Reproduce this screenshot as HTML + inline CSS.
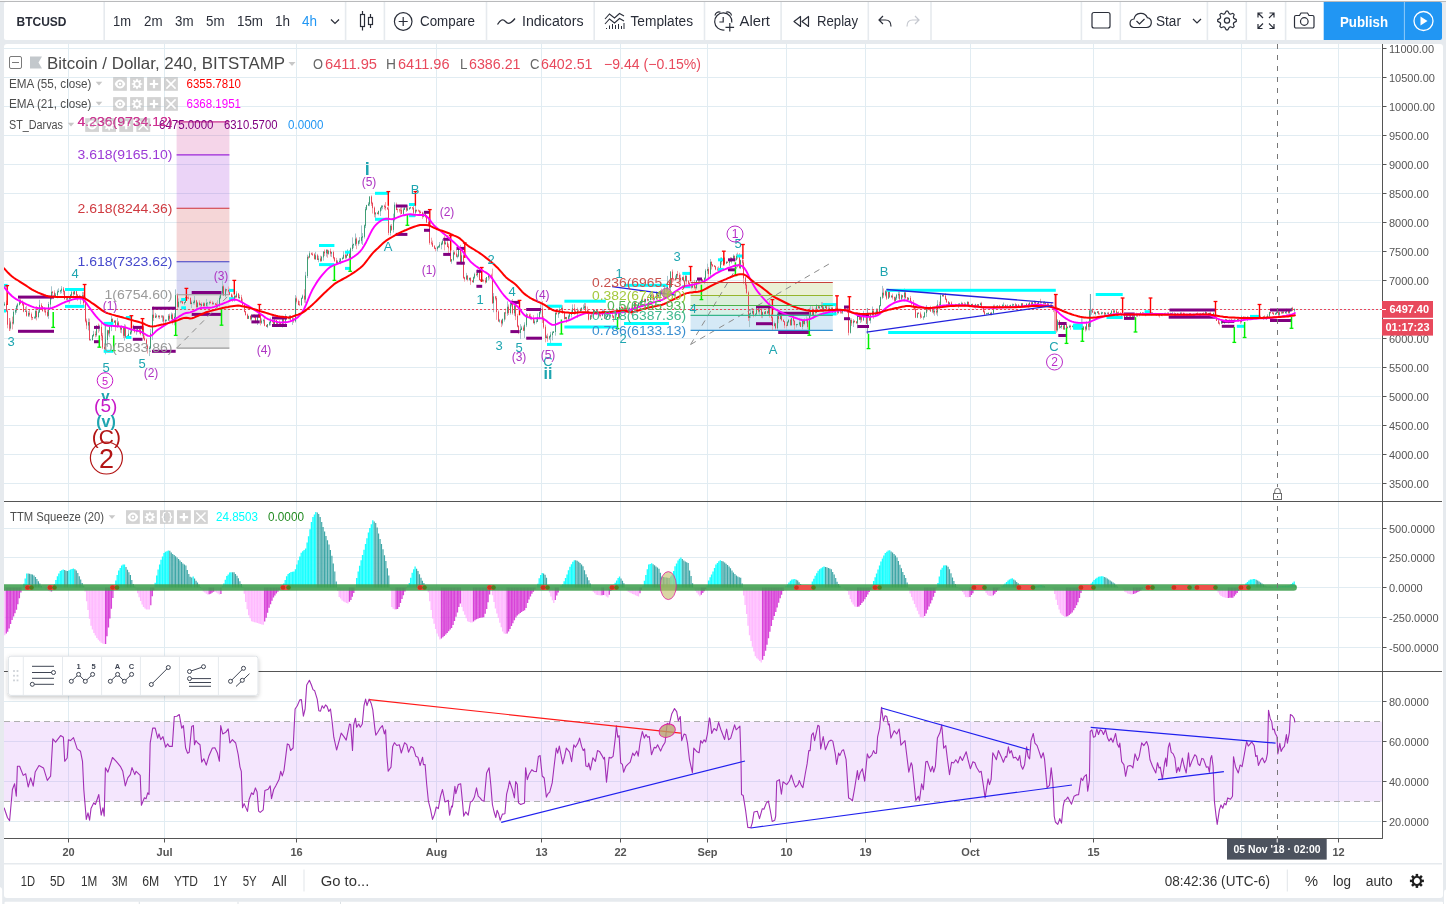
<!DOCTYPE html>
<html><head><meta charset="utf-8"><title>BTCUSD</title>
<style>html,body{margin:0;padding:0;background:#e6eaee;overflow:hidden;font-family:"Liberation Sans",sans-serif}svg{display:block;position:absolute;left:0;top:0;will-change:transform}text{white-space:pre}</style></head>
<body>
<svg width="1446" height="904" viewBox="0 0 1446 904" font-family="Liberation Sans, sans-serif">
<defs><clipPath id="cp1"><rect x="4" y="44" width="1378" height="457"/></clipPath><clipPath id="cp2"><rect x="4" y="502" width="1378" height="168.5"/></clipPath><clipPath id="cp3"><rect x="4" y="672" width="1378" height="166"/></clipPath><filter id="sh" x="-5%" y="-20%" width="110%" height="150%"><feDropShadow dx="0" dy="1.5" stdDeviation="2" flood-color="#000" flood-opacity="0.22"/></filter></defs>
<rect x="0" y="0" width="1446" height="904" fill="#e6eaee" />
<rect x="0" y="0" width="1446" height="1" fill="#fafafa" />
<rect x="0" y="1" width="1446" height="1" fill="#b9babc" />
<rect x="4" y="2" width="1438" height="38" fill="#fff" rx="2"/>
<rect x="4" y="44" width="1439" height="854" fill="#fff" rx="3"/>
<rect x="4.5" y="901.7" width="1438.5" height="3" fill="#fff" rx="1"/>
<line x1="139.3" y1="901.7" x2="139.3" y2="904" stroke="#dde2e6" stroke-width="1" />
<line x1="238" y1="901.7" x2="238" y2="904" stroke="#dde2e6" stroke-width="1" />
<line x1="340.5" y1="901.7" x2="340.5" y2="904" stroke="#dde2e6" stroke-width="1" />
<path d="M0 887 Q2.2 887.3 2.2 890 L2.2 904 L0 904 Z" fill="#fff"/>
<path d="M1446 889.500 Q1444 889.800 1444 892 L1444 904 L1446 904 Z" fill="#fff"/>
<line x1="68.5" y1="44" x2="68.5" y2="838" stroke="#e1ecf2" stroke-width="1" />
<line x1="164.5" y1="44" x2="164.5" y2="838" stroke="#e1ecf2" stroke-width="1" />
<line x1="296.5" y1="44" x2="296.5" y2="838" stroke="#e1ecf2" stroke-width="1" />
<line x1="436.5" y1="44" x2="436.5" y2="838" stroke="#e1ecf2" stroke-width="1" />
<line x1="541.5" y1="44" x2="541.5" y2="838" stroke="#e1ecf2" stroke-width="1" />
<line x1="620.5" y1="44" x2="620.5" y2="838" stroke="#e1ecf2" stroke-width="1" />
<line x1="707.5" y1="44" x2="707.5" y2="838" stroke="#e1ecf2" stroke-width="1" />
<line x1="786.5" y1="44" x2="786.5" y2="838" stroke="#e1ecf2" stroke-width="1" />
<line x1="865.5" y1="44" x2="865.5" y2="838" stroke="#e1ecf2" stroke-width="1" />
<line x1="970.5" y1="44" x2="970.5" y2="838" stroke="#e1ecf2" stroke-width="1" />
<line x1="1093.5" y1="44" x2="1093.5" y2="838" stroke="#e1ecf2" stroke-width="1" />
<line x1="1241.5" y1="44" x2="1241.5" y2="838" stroke="#e1ecf2" stroke-width="1" />
<line x1="1338.5" y1="44" x2="1338.5" y2="838" stroke="#e1ecf2" stroke-width="1" />
<line x1="4" y1="48.5" x2="1381" y2="48.5" stroke="#e1ecf2" stroke-width="1" />
<line x1="4" y1="77.5" x2="1381" y2="77.5" stroke="#e1ecf2" stroke-width="1" />
<line x1="4" y1="106.5" x2="1381" y2="106.5" stroke="#e1ecf2" stroke-width="1" />
<line x1="4" y1="135.5" x2="1381" y2="135.5" stroke="#e1ecf2" stroke-width="1" />
<line x1="4" y1="164.5" x2="1381" y2="164.5" stroke="#e1ecf2" stroke-width="1" />
<line x1="4" y1="193.5" x2="1381" y2="193.5" stroke="#e1ecf2" stroke-width="1" />
<line x1="4" y1="222.5" x2="1381" y2="222.5" stroke="#e1ecf2" stroke-width="1" />
<line x1="4" y1="251.5" x2="1381" y2="251.5" stroke="#e1ecf2" stroke-width="1" />
<line x1="4" y1="280.5" x2="1381" y2="280.5" stroke="#e1ecf2" stroke-width="1" />
<line x1="4" y1="309.5" x2="1381" y2="309.5" stroke="#e1ecf2" stroke-width="1" />
<line x1="4" y1="338.5" x2="1381" y2="338.5" stroke="#e1ecf2" stroke-width="1" />
<line x1="4" y1="367.5" x2="1381" y2="367.5" stroke="#e1ecf2" stroke-width="1" />
<line x1="4" y1="396.5" x2="1381" y2="396.5" stroke="#e1ecf2" stroke-width="1" />
<line x1="4" y1="425.5" x2="1381" y2="425.5" stroke="#e1ecf2" stroke-width="1" />
<line x1="4" y1="454.5" x2="1381" y2="454.5" stroke="#e1ecf2" stroke-width="1" />
<line x1="4" y1="483.5" x2="1381" y2="483.5" stroke="#e1ecf2" stroke-width="1" />
<line x1="4" y1="528.5" x2="1381" y2="528.5" stroke="#e1ecf2" stroke-width="1" />
<line x1="4" y1="557.5" x2="1381" y2="557.5" stroke="#e1ecf2" stroke-width="1" />
<line x1="4" y1="587.5" x2="1381" y2="587.5" stroke="#e1ecf2" stroke-width="1" />
<line x1="4" y1="617.5" x2="1381" y2="617.5" stroke="#e1ecf2" stroke-width="1" />
<line x1="4" y1="647.5" x2="1381" y2="647.5" stroke="#e1ecf2" stroke-width="1" />
<line x1="4" y1="701.5" x2="1381" y2="701.5" stroke="#e1ecf2" stroke-width="1" />
<line x1="4" y1="741.5" x2="1381" y2="741.5" stroke="#e1ecf2" stroke-width="1" />
<line x1="4" y1="781.5" x2="1381" y2="781.5" stroke="#e1ecf2" stroke-width="1" />
<line x1="4" y1="821.5" x2="1381" y2="821.5" stroke="#e1ecf2" stroke-width="1" />
<g clip-path="url(#cp1)">
<rect x="176.6" y="121.9" width="52.8" height="33" fill="#cc2f8f" fill-opacity="0.2"/>
<rect x="176.6" y="154.9" width="52.8" height="53.4" fill="#9c27d8" fill-opacity="0.2"/>
<rect x="176.6" y="208.3" width="52.8" height="53.4" fill="#cf3038" fill-opacity="0.2"/>
<rect x="176.6" y="261.7" width="52.8" height="33" fill="#3b3bc4" fill-opacity="0.2"/>
<rect x="176.6" y="294.7" width="52.8" height="53.4" fill="#7c7c7c" fill-opacity="0.2"/>
<rect x="690.6" y="282.5" width="142.2" height="13" fill="#95b52c" fill-opacity="0.2"/>
<rect x="690.6" y="295.5" width="142.2" height="10" fill="#49b04a" fill-opacity="0.2"/>
<rect x="690.6" y="305.5" width="142.2" height="9.9" fill="#36b58c" fill-opacity="0.2"/>
<rect x="690.6" y="315.4" width="142.2" height="15" fill="#2f8fd0" fill-opacity="0.2"/>
<path d="M4.5 301.9V306.1M10.5 320.7V329.4M13.5 310.3V324.6M15.5 308.2V314.7M16.5 304.7V312.8M17.5 303V309.5M19.5 298.9V305.5M25.5 306.9V311.8M28.5 311V317M34.5 316.3V318.9M35.5 308.9V319.2M38.5 308.3V318.3M39.5 299.8V313M48.5 301.9V318.8M50.5 296.5V308.1M51.5 286.3V299.6M55.5 293V296.4M57.5 289.6V298.3M58.5 288.3V292.4M60.5 289.8V293.8M61.5 286.1V293.3M67.5 297.3V299.6M69.5 296.7V303.5M70.5 294V299.4M71.5 290.6V296.1M74.5 290.8V294.9M80.5 295.7V304.3M82.5 291.9V300.5M88.5 318.4V330.4M90.5 339.2V340.6M92.5 334.9V340.4M93.5 330.8V336.8M96.5 325.3V336.7M99.5 324.8V331.3M105.5 336.5V354.3M107.5 329.7V346.9M109.5 325.6V337.3M111.5 315.9V331.1M114.5 320.5V322.8M117.5 317.8V327.9M121.5 325.4V333.3M124.5 324.2V340.7M127.5 335.5V338.6M128.5 329.7V336.3M130.5 329.3V334.8M131.5 324.4V334.4M136.5 328.3V334.7M137.5 327.3V332.3M142.5 325.2V336.3M149.5 346.2V356.1M150.5 328.9V349.3M152.5 308.1V339.9M155.5 312.9V318.1M158.5 315.2V318.4M162.5 315V321.8M165.5 319.2V324.1M166.5 319.7V321.4M168.5 314.1V320.9M171.5 312.5V319.7M174.5 313.2V325.3M175.5 289.4V320.7M178.5 298.4V308M180.5 300.6V303.4M184.5 302V305.2M185.5 297.4V302.9M191.5 300.6V307.9M193.5 300.6V304.5M194.5 295.8V304.6M197.5 301.7V307.9M200.5 303V307.5M203.5 302.2V306.5M206.5 298.9V307.7M207.5 302.5V307.3M209.5 300.9V304.7M213.5 301.9V304.9M217.5 300.3V307.8M219.5 295.7V307.4M220.5 292.8V299.2M222.5 280.7V295.2M225.5 287.7V297.2M234.5 294V301.5M236.5 291.2V297.4M239.5 294.7V299.4M248.5 315.7V318.9M251.5 314.4V320.4M257.5 314.7V325M258.5 313.9V318M261.5 318.4V324M263.5 318.9V323.6M267.5 324V328.1M269.5 321.3V325.8M270.5 317.5V325.4M274.5 319V325.4M277.5 321.9V324.2M282.5 318.5V327.5M285.5 314V325.2M289.5 315.6V319.6M292.5 316.8V324.9M295.5 295.1V322.5M301.5 297.6V305.9M302.5 294.5V298.7M305.5 271.8V303.2M307.5 254.7V278.1M309.5 251V257.6M315.5 251.8V259.9M318.5 255.7V262.2M321.5 255.9V261.7M323.5 251.1V260.7M326.5 249.2V256.6M328.5 249.9V254.7M331.5 251.5V257.1M337.5 260.2V263.1M339.5 258.3V262.8M340.5 258.2V264.2M342.5 256.8V259.8M343.5 251.2V258.7M346.5 254.1V258.6M347.5 249.3V255.8M350.5 247.5V262.4M352.5 237.4V251M353.5 243.5V248.2M355.5 233.5V246M358.5 240.4V245.6M359.5 237.1V243.8M361.5 225.4V243.7M362.5 233.1V245M364.5 224.5V238.5M365.5 207V228.1M366.5 204.8V210.3M368.5 202.1V206.1M369.5 196.3V206.2M375.5 212.3V218.1M378.5 210.7V215.3M380.5 207.6V216M381.5 205V210.7M382.5 205.5V209.3M390.5 224.6V235.6M393.5 213.7V232.5M394.5 202.3V221.5M403.5 207.8V215M404.5 206.1V210.1M407.5 205.4V210.9M409.5 207.1V210M410.5 206.6V208.5M415.5 204.6V216.8M423.5 212.6V217.3M437.5 246.4V251.4M438.5 245.5V248.1M439.5 242V248M441.5 241.6V249.3M442.5 238.9V244.9M445.5 241V244.6M451.5 259.1V263.7M453.5 250.2V261.2M457.5 254.4V258.4M458.5 247.8V257.2M461.5 252.3V264.4M466.5 272.9V280M469.5 277.7V280.6M473.5 276.6V283M474.5 272.7V278.9M477.5 269.4V277.3M482.5 278.9V281.4M486.5 276.9V282.9M488.5 275.1V280.5M493.5 293.1V312.3M499.5 318.9V322.6M502.5 318.4V325.5M504.5 312.3V321.6M507.5 301.3V315.9M510.5 303.1V314.6M511.5 300.2V306.5M514.5 304.7V315.8M520.5 324.2V339.1M521.5 325.9V329.9M524.5 322.3V337.9M526.5 312.9V327.1M531.5 316.3V320.2M534.5 319.3V324.7M536.5 318.4V323.5M537.5 313.4V322.1M539.5 311.5V318.8M540.5 304.3V314.4M546.5 334.9V338.6M549.5 335.6V339.9M550.5 331.9V343.4M552.5 331.2V340.4M553.5 331.1V333.1M555.5 312.5V335.7M558.5 310.7V317.9M559.5 306.3V313.7M561.5 306.1V310.5M565.5 316.8V319.2M568.5 314.8V320.1M569.5 314V320.8M571.5 310.3V317.6M572.5 304.4V313.8M577.5 307.6V317.8M580.5 307.9V311.8M581.5 307.3V310.7M583.5 304.5V309.6M584.5 303V309.6M590.5 315.1V319.9M593.5 309V317.8M596.5 309.6V315.2M602.5 309.1V316.3M603.5 309.8V313.3M606.5 315.8V319M607.5 313.6V316.9M610.5 312.5V316.5M615.5 313.1V318.8M616.5 309.6V316.6M619.5 305.5V319.3M625.5 305.8V312.4M628.5 308.6V312.3M629.5 307V311.1M632.5 306.4V312.9M634.5 300.9V310.6M637.5 304.3V310.5M638.5 302.1V306M641.5 298.9V306.4M642.5 296.3V303.1M645.5 298.8V303.7M648.5 299V300.7M650.5 293.5V300.6M654.5 296.8V300.4M656.5 291.3V300.1M658.5 292.3V298.1M660.5 290V297.2M664.5 287V297.2M667.5 275.9V291.6M670.5 271.2V291.1M675.5 275.5V280M676.5 273.8V279.3M682.5 276.7V280.2M685.5 274.6V281.6M692.5 281.4V288.1M696.5 280V289.4M699.5 279.1V282.4M701.5 278.3V281.7M704.5 277.2V284.1M705.5 268.9V280M707.5 263.7V273.8M710.5 259V277.6M720.5 257.5V271M721.5 257.2V264.7M723.5 257.4V262M726.5 261.1V264.1M729.5 260.3V265.9M731.5 257.4V263.5M733.5 254.4V260M736.5 253.7V260.5M740.5 259.7V269.1M749.5 313.5V327.1M750.5 310.2V318.1M752.5 309.1V314.5M755.5 313.1V316.5M756.5 307.1V314.8M759.5 307.7V314.7M762.5 311.5V318.2M765.5 311.2V314.6M768.5 304.6V315.3M774.5 321.5V326.6M777.5 311.3V329.7M780.5 313V319.3M787.5 321.4V326.1M788.5 319.6V323.2M791.5 318V325.9M796.5 323.9V327.5M797.5 323.8V325.2M799.5 319.9V326.2M802.5 319.4V329.3M804.5 318.3V325.2M806.5 316.2V323.4M809.5 307.8V329.9M810.5 305.4V317.3M813.5 308.6V318.8M816.5 304V313.3M819.5 305.7V309.6M821.5 302.2V308M823.5 305.8V312.5M825.5 303.1V308.4M829.5 306.2V311.4M831.5 307.5V308.8M835.5 305.7V315M838.5 310.9V313.7M842.5 309V314.1M844.5 306.1V311.8M850.5 318.2V333.6M853.5 319.1V327M857.5 313.3V328.3M860.5 313.4V323M863.5 310.8V321.1M867.5 317.4V325.4M870.5 313.8V323.4M872.5 306.5V315.9M875.5 311.6V317.2M876.5 308.3V314.8M879.5 305.3V315.1M880.5 296.6V306.5M882.5 285.9V299.2M885.5 290.2V296.6M888.5 290.5V299.1M891.5 295.5V297.8M895.5 296.6V301.6M896.5 293.8V300M898.5 291.1V298.6M901.5 294.3V300.5M904.5 288.5V301.3M908.5 297.5V299.9M917.5 312.3V318.1M923.5 316.3V319.8M924.5 311.7V317.9M926.5 305V316.9M929.5 307.6V310.6M932.5 308.9V312.9M934.5 307.5V315.7M937.5 300.2V316.2M940.5 294.3V305.2M942.5 294.7V296.8M949.5 302.4V305.3M952.5 304.1V306.1M953.5 304.7V306.2M958.5 303.2V307.9M959.5 303.1V305.2M961.5 301.7V305.5M965.5 302.8V306.1M967.5 301.1V305.4M969.5 304.7V307.4M971.5 303.9V306.7M975.5 303.7V308.6M978.5 304.1V306.6M980.5 302.5V305.7M986.5 313.1V314.4M987.5 312.9V314.1M988.5 312.5V314.2M991.5 311.8V315.5M993.5 304.7V314M996.5 305.5V308M997.5 305.1V307.1M1000.5 306.6V308M1002.5 304.2V307.6M1003.5 302.5V306.1M1006.5 305.5V308.4M1007.5 304.4V307.2M1010.5 304.6V307.1M1012.5 303.6V306.8M1013.5 303.9V306.1M1016.5 304.3V307.4M1019.5 305.7V307.9M1021.5 303.4V307.2M1024.5 304.8V307.1M1026.5 303.1V307.2M1029.5 302.5V306M1032.5 302V305.4M1034.5 300.7V304.1M1038.5 301.4V305.5M1041.5 302.1V303.3M1044.5 301V304M1057.5 319.2V331.6M1060.5 326.3V328.2M1061.5 324.7V328.7M1064.5 323.9V329.9M1067.5 326.1V328.4M1069.5 324.8V327.6M1072.5 325.3V327.4M1075.5 326.1V328.2M1076.5 325.1V328.3M1080.5 326.4V328.8M1083.5 325.9V330.1M1086.5 321.3V330.5M1089.5 309.1V330.4M1091.5 309V314.8M1095.5 311.9V315.6M1097.5 311.2V313.2M1101.5 311.7V314.4M1102.5 312.2V314.2M1105.5 312.3V314.6M1107.5 312.5V314.2M1110.5 312.7V314.4M1111.5 310.2V313.7M1114.5 309.2V313M1117.5 312.2V315.7M1123.5 314V315.4M1126.5 314.2V317.9M1129.5 313.6V317M1132.5 314.9V316.9M1134.5 314.2V317.8M1136.5 312.7V316.8M1139.5 314.1V316.4M1140.5 311.9V315.4M1143.5 312.4V314.9M1146.5 313V315.3M1151.5 312.2V315.4M1156.5 313.4V316M1161.5 313.7V316.1M1162.5 313.1V316.2M1165.5 312.6V315.2M1168.5 312.1V315M1170.5 312.6V314.3M1172.5 312.1V314.5M1175.5 313.2V316.7M1178.5 313.5V315.4M1180.5 312.6V315.1M1187.5 313.7V317M1189.5 313.3V317M1191.5 314V315.6M1193.5 313.4V315.6M1194.5 313.8V316M1196.5 313.2V314.9M1200.5 313V316.5M1202.5 313.1V314.5M1205.5 310.8V314.8M1209.5 312.6V317.1M1213.5 312.3V317M1221.5 320V323.7M1224.5 321.7V323.7M1225.5 318.7V322.7M1228.5 321.6V323.4M1229.5 319.6V323.1M1234.5 318.5V322.1M1237.5 318.8V320.8M1241.5 315.5V322.5M1244.5 316.6V320.3M1247.5 315.9V321.1M1250.5 315V319.2M1251.5 315.2V317.5M1254.5 317V318.9M1256.5 314.9V319M1259.5 315.7V317.6M1263.5 316.4V319.8M1266.5 316.4V320M1267.5 314.1V318.7M1269.5 311.7V317.7M1275.5 312.6V314.8M1276.5 311.3V314.6M1279.5 311.7V316M1282.5 311.2V313.8M1285.5 311.4V313.5M1286.5 308.8V314.1M1289.5 309.4V313.8M1291.5 307.7V311.2M1294.5 308.6V311.9" stroke="#a4c4cc" stroke-width="1" fill="none"/>
<path d="M4.5 303.7V305.3M10.5 322.3V328.4M13.5 311.9V323.5M15.5 310V312.5M16.5 306V310.6M17.5 304.3V306.6M19.5 300.1V304.9M25.5 310.7V311.7M28.5 312.9V315.8M34.5 317.4V318.1M35.5 311V318M38.5 311.7V317M39.5 304.8V312.3M48.5 304V315.9M50.5 297.2V304.6M51.5 291.8V297.8M55.5 294.6V296.4M57.5 291.5V295.2M58.5 291.1V292.1M60.5 290.2V291.7M61.5 288.6V290.8M67.5 298.3V299.6M69.5 298V298.9M70.5 294.9V298.6M71.5 292.2V295.5M74.5 291.2V294.2M80.5 295.9V297.2M82.5 295.3V296.5M88.5 322.1V325.5M90.5 339.6V340.2M92.5 335.3V340.2M93.5 333.9V335.9M96.5 325.6V335.2M99.5 326.9V328M105.5 339.5V349M107.5 330.3V340.1M109.5 326.7V333.5M111.5 318.8V327.3M114.5 320.7V322.6M117.5 322.5V325.8M121.5 327.9V329.7M124.5 326.9V335.8M127.5 335.6V337.6M128.5 333.7V336.2M130.5 331.8V334.3M131.5 325.5V332.4M136.5 330.5V331.8M137.5 329.2V331.1M142.5 326.3V334.1M149.5 347.7V349M150.5 333.3V348.3M152.5 314.7V333.9M155.5 315.7V317.9M158.5 315.8V316.9M162.5 316.4V317.3M165.5 320V321.4M166.5 319.8V320.6M168.5 315.7V320.4M171.5 314.5V318.8M174.5 316.8V321.2M175.5 295.2V317.4M178.5 301.7V306.9M180.5 301.4V302.3M184.5 302.1V303.5M185.5 297.4V302.7M191.5 302.5V304M193.5 302.2V303.1M194.5 300.4V302.8M197.5 302.6V307.1M200.5 303.9V305M203.5 303.3V306.1M206.5 302.8V305.9M207.5 302.6V303.4M209.5 302.2V303.2M213.5 303.3V304M217.5 305V306.4M219.5 297.8V305.6M220.5 293V298.4M222.5 286.3V293.6M225.5 289.2V295.5M234.5 295.7V299.8M236.5 293.6V297.4M239.5 297.1V298.2M248.5 315.9V318.8M251.5 314.9V319.3M257.5 316.4V321.5M258.5 314.3V317M261.5 320.6V322.8M263.5 320.1V321.2M267.5 324.1V326.8M269.5 322.2V324.7M270.5 320.1V322.8M274.5 320V324.3M277.5 321.9V323.7M282.5 318.6V324.8M285.5 316.5V323.4M289.5 315.7V319.1M292.5 318.5V319.6M295.5 298.3V321.3M301.5 297.9V305.1M302.5 295.7V298.5M305.5 275.4V299.6M307.5 256.9V276M309.5 253.3V257.6M315.5 255.3V259.2M318.5 258.5V259.9M321.5 256.8V260.9M323.5 251.6V257.4M326.5 249.9V253.3M328.5 250.9V253.8M331.5 252.1V253.7M337.5 261.5V263M339.5 260.9V262.1M340.5 258.5V261.5M342.5 258V259.1M343.5 254.8V258.6M346.5 255.2V257.7M347.5 250.9V255.8M350.5 248.4V257.4M352.5 244.7V249M353.5 244V245.3M355.5 238.6V244.6M358.5 240.8V243.8M359.5 240.3V241.4M361.5 237.1V240.9M362.5 236.2V237.7M364.5 225.3V236.8M365.5 209.1V225.9M366.5 205V209.7M368.5 203.7V205.6M369.5 196.5V204.3M375.5 212.6V214.4M378.5 210.9V213.9M380.5 207.6V211.5M381.5 206.2V208.2M382.5 205.7V206.8M390.5 225.9V232.9M393.5 219V229.9M394.5 204.7V219.6M403.5 209.4V213.9M404.5 207.7V210M407.5 208.3V210.5M409.5 207.8V208.9M410.5 207.3V208.4M415.5 209.8V212.8M423.5 214V216.7M437.5 246.8V249.1M438.5 246.1V247.4M439.5 244.5V246.7M441.5 243.2V245.1M442.5 240.8V243.8M445.5 242.5V244.3M451.5 259.3V261.5M453.5 252.4V259.9M457.5 255.8V256.7M458.5 248.1V256.4M461.5 255.3V262.8M466.5 275.6V279.3M469.5 277.9V279.7M473.5 277.1V282.2M474.5 274.2V277.7M477.5 270.9V275M482.5 279.9V281.2M486.5 277V282.3M488.5 275.4V277.6M493.5 296.4V303.2M499.5 320.4V321.5M502.5 319V323.5M504.5 312.4V319.6M507.5 306.7V313.5M510.5 304.4V313M511.5 302.9V305M514.5 305.5V313.3M520.5 329.3V333M521.5 327.5V329.9M524.5 324.7V330.7M526.5 314.5V325.3M531.5 317.9V318.7M534.5 321.4V323.2M536.5 321.3V322M537.5 317.2V321.9M539.5 312V317.8M540.5 308.5V312.6M546.5 336.4V338M549.5 336.2V338.6M550.5 334.5V336.8M552.5 332.4V335.1M553.5 331.4V333M555.5 312.7V332M558.5 312.8V314.3M559.5 309.3V313.4M561.5 307.8V309.9M565.5 317V319.1M568.5 316.3V319M569.5 314.2V316.9M571.5 312.4V314.8M572.5 308.2V313M577.5 310.6V313.4M580.5 310V311.3M581.5 307.8V310.6M583.5 307.6V308.4M584.5 306.2V308.2M590.5 315.4V319.6M593.5 310V316.7M596.5 310.3V313.7M602.5 311V315.9M603.5 311V311.6M606.5 316.3V318.6M607.5 314.6V316.9M610.5 315.2V316.4M615.5 314.3V318.2M616.5 311.7V314.9M619.5 306.9V317.9M625.5 308V310.2M628.5 308.7V310.1M629.5 308.2V309.3M632.5 308.4V312.5M634.5 302.6V309M637.5 305.4V306.6M638.5 303V306M641.5 299.9V303.6M642.5 299.7V300.5M645.5 299V301.9M648.5 299.3V300.5M650.5 295.2V299.9M654.5 298.4V299.4M656.5 292.6V299M658.5 295V296.5M660.5 291.3V295.6M664.5 288.4V294.7M667.5 281.7V289.9M670.5 271.6V287.8M675.5 277.9V279.4M676.5 274V278.5M682.5 277.2V280M685.5 275.9V280.8M692.5 283.8V287.6M696.5 280.4V288.2M699.5 280.5V281.2M701.5 279.5V281.1M704.5 278V281.6M705.5 270.6V278.6M707.5 269V271.2M710.5 261.8V274.2M720.5 261.3V270.1M721.5 258.1V261.9M723.5 258V258.7M726.5 262V263.6M729.5 260.4V262.9M731.5 257.9V261.6M733.5 255.8V258.5M736.5 255.8V260.1M740.5 260.2V268.2M749.5 313.5V317.9M750.5 312.9V314.1M752.5 310.9V313.5M755.5 313.8V314.8M756.5 308.3V314.4M759.5 309.7V311.7M762.5 312.2V316M765.5 311.2V313.9M768.5 305.9V313.4M774.5 323.3V326M777.5 313.7V328.3M780.5 315.3V319.1M787.5 321.6V325.8M788.5 319.7V322.2M791.5 318.1V325.2M796.5 324.1V325.3M797.5 324V324.7M799.5 322.3V324.6M802.5 321V327M804.5 320V324M806.5 319.3V320.6M809.5 314.8V327.1M810.5 310.5V315.4M813.5 309.5V315.5M816.5 306.2V312.9M819.5 306.6V308.3M821.5 305V307.2M823.5 307.4V310.4M825.5 306.2V308M829.5 308.1V309.9M831.5 307.7V308.7M835.5 308.7V313.3M838.5 311.2V312.8M842.5 309.4V312.5M844.5 308.3V310M850.5 320V332.8M853.5 320.8V323.3M857.5 314.8V323.3M860.5 314.4V319.7M863.5 313.9V320.3M867.5 317.5V323.8M870.5 314.4V320.5M872.5 310.6V315M875.5 312.8V314.9M876.5 310.2V313.4M879.5 305.4V313.3M880.5 297.1V306M882.5 292.7V297.7M885.5 291.2V295.4M888.5 292V298.6M891.5 295.6V297.2M895.5 297.7V300.8M896.5 294.8V298.3M898.5 294.1V295.4M901.5 295.2V299.2M904.5 292.6V297.2M908.5 297.9V299.8M917.5 313.1V317.6M923.5 316.5V317.5M924.5 312.5V317.1M926.5 307.4V313.1M929.5 308.4V309.7M932.5 310.3V311.4M934.5 310.9V312.4M937.5 304.3V312.5M940.5 295.5V305.1M942.5 294.8V296.1M949.5 302.5V304.8M952.5 305.2V306M953.5 305.1V305.8M958.5 304.1V306.2M959.5 303.7V304.7M961.5 303.3V304.3M965.5 304.5V305.4M967.5 302V305.1M969.5 305.2V306.8M971.5 304V305.8M975.5 304.3V307M978.5 304.4V305.8M980.5 303.2V305M986.5 313.4V314.3M987.5 313.4V314M988.5 312.8V314M991.5 312.6V314.5M993.5 306.3V313.2M996.5 306.3V307.3M997.5 305.6V306.9M1000.5 306.6V307.6M1002.5 305.1V307.2M1003.5 304.9V305.7M1006.5 306.1V307.7M1007.5 305.7V306.7M1010.5 305V306.5M1012.5 304.6V305.6M1013.5 304.3V305.2M1016.5 304.6V306.1M1019.5 305.8V306.8M1021.5 303.4V306.4M1024.5 305.3V306.2M1026.5 303.9V306.6M1029.5 302.5V305.7M1032.5 302.2V304.7M1034.5 301.6V302.8M1038.5 301.8V304.2M1041.5 302.2V302.9M1044.5 302.8V303.5M1057.5 320.6V330.3M1060.5 326.5V327.7M1061.5 325.5V327.1M1064.5 324.7V329.4M1067.5 327V328.2M1069.5 325.9V327.6M1072.5 326.1V327M1075.5 326.6V327.9M1076.5 325.4V327.2M1080.5 326.7V328.2M1083.5 326.7V329.8M1086.5 323.7V329.5M1089.5 310.6V326.9M1091.5 310.4V311.2M1095.5 312.5V314M1097.5 311.4V313.1M1101.5 312.5V314.2M1102.5 312.4V313.1M1105.5 312.9V314.5M1107.5 312.8V313.5M1110.5 313V314M1111.5 310.7V313.6M1114.5 310.7V312.5M1117.5 312.4V315.5M1123.5 314V315.3M1126.5 314.5V317.6M1129.5 314.7V316.2M1132.5 315.2V316.7M1134.5 315V316.6M1136.5 314V315.6M1139.5 314.5V315.7M1140.5 312.6V315.1M1143.5 312.8V313.4M1146.5 313V315M1151.5 312.7V314.5M1156.5 314.1V315.1M1161.5 314.1V315.8M1162.5 313.2V314.7M1165.5 313.8V314.6M1168.5 313.3V314.6M1170.5 313V313.9M1172.5 313.6V314.5M1175.5 313.4V315.9M1178.5 313.9V315M1180.5 312.7V314.5M1187.5 314.8V316.3M1189.5 313.5V315.4M1191.5 314.6V315.3M1193.5 314.6V315.2M1194.5 314.2V315.2M1196.5 313.6V314.8M1200.5 313.8V315.9M1202.5 313.3V314.4M1205.5 312.2V314.4M1209.5 313V316M1213.5 313.1V316.4M1221.5 321V323.7M1224.5 321.9V323.2M1225.5 319.5V322.5M1228.5 321.6V322.5M1229.5 319.8V322.2M1234.5 319.9V321.7M1237.5 319.1V320.7M1241.5 316.7V322.2M1244.5 316.9V319.2M1247.5 316.9V319.6M1250.5 316V318.6M1251.5 316V316.6M1254.5 317.4V318.1M1256.5 316.1V318M1259.5 316.8V317.5M1263.5 316.6V318.3M1266.5 316.9V318.3M1267.5 315.7V317.5M1269.5 312.1V316.3M1275.5 313.3V314.6M1276.5 312.2V313.9M1279.5 312.4V314.8M1282.5 311.8V313.2M1285.5 311.8V313.2M1286.5 309.3V312.4M1289.5 310.4V313.1M1291.5 307.9V311M1294.5 308.9V310.6" stroke="#3f9f74" stroke-width="1" fill="none"/>
<path d="M6.5 300.5V312.2M7.5 309.4V328.3M9.5 323.1V328.9M12.5 316.6V329.4M20.5 298.5V304.1M22.5 300.4V305.8M23.5 301.8V312.3M26.5 305.8V316.6M29.5 309.7V316.6M31.5 312.5V320.2M32.5 316.9V320M36.5 306.2V320.4M41.5 303.1V308.5M42.5 306.1V311.6M44.5 307.4V312.5M45.5 309.7V315.5M47.5 309.9V317.1M52.5 290.9V294.9M54.5 290.3V297.6M63.5 287V294.7M64.5 290.4V299.5M66.5 297.6V299.9M73.5 289.5V298.1M76.5 290.5V296.7M77.5 294V300.8M79.5 294.8V297.4M83.5 292.1V306.1M85.5 296.8V322.5M86.5 318.6V329.2M89.5 318.6V340.6M95.5 331.3V337.3M98.5 323.6V332.8M101.5 321.9V340.4M102.5 332.9V349.1M104.5 343.3V351.5M108.5 330V335.5M112.5 318.5V324.1M115.5 320.1V331.1M118.5 321V326.8M120.5 326V332.8M123.5 326.2V338M125.5 324.7V337.6M133.5 324.6V328.1M134.5 326V333.2M139.5 327.5V333.7M140.5 325.7V335.4M143.5 324V339.3M144.5 335.5V341M146.5 338.5V347.3M147.5 344.4V353.5M153.5 306.4V321.1M156.5 314.3V318.3M159.5 315.4V319.1M161.5 315V317.4M163.5 315.4V325.7M169.5 313.7V321.5M172.5 313.2V324.5M177.5 293.3V309M181.5 300.6V302.7M182.5 301.1V304.1M187.5 297.4V298.5M188.5 295.4V299.3M190.5 297.1V304.4M196.5 299.8V309.5M199.5 300.3V306.1M201.5 302.3V307.7M204.5 302.4V307.2M210.5 300.4V303.5M212.5 300.9V305.2M215.5 303.2V305.3M216.5 302.4V307.5M223.5 284.7V295.8M226.5 289.1V291.6M228.5 286.5V293.5M229.5 288.6V295M231.5 293.3V298.3M232.5 294.6V301.9M235.5 295.7V298.2M238.5 292.9V298.3M241.5 294.8V303.1M242.5 298.6V305.2M244.5 303.8V312.4M245.5 310.8V315.6M247.5 313.6V318.9M250.5 315.4V320.4M253.5 314.7V316.4M254.5 314.2V318.2M255.5 316.5V323.2M260.5 313.7V325.4M264.5 318.1V326.2M266.5 324.7V326.9M272.5 319.7V322.6M273.5 320.3V325.3M276.5 320V324.8M279.5 320.2V324.4M280.5 323V326M283.5 316.5V325.3M286.5 316.4V319.3M288.5 316.5V319.1M290.5 315.4V321M293.5 318.1V322.9M296.5 296.5V303.6M298.5 299.6V305.1M299.5 301V306.1M304.5 289.3V302.7M308.5 255.9V259.3M311.5 252.5V254.7M312.5 252.4V256M314.5 253.2V259.5M317.5 253.9V259.9M320.5 255.7V262.1M324.5 249.5V256.1M327.5 249.4V257.8M330.5 248.6V256.5M333.5 250.7V259.3M334.5 257.3V261.8M336.5 257.9V263.6M345.5 253.8V259.3M349.5 250.4V258.2M356.5 237.3V249.2M371.5 195.4V205.9M372.5 201.8V213.5M374.5 206.5V217.3M377.5 212.6V214.3M384.5 204.6V209.4M385.5 202.1V210.5M387.5 207.3V209.7M388.5 200.6V235.2M391.5 224V230.9M396.5 202.6V210.2M397.5 208.5V212.6M399.5 208.8V212.4M400.5 207.7V214.6M401.5 206.7V214M406.5 206V212M412.5 207.2V209.7M413.5 204.6V214.3M416.5 209.7V212.3M418.5 209.5V211.3M419.5 210.2V214.6M420.5 210.6V213.4M422.5 211.7V218.9M425.5 211.2V217.6M426.5 215.1V223.1M428.5 219.3V225.6M429.5 222.9V244.7M431.5 237.7V244.9M432.5 240.6V246.8M434.5 245V249.1M435.5 247.3V251.4M444.5 235.5V250.4M447.5 235.2V247.2M448.5 243.6V253.8M450.5 246.3V261.8M454.5 250.8V255.1M456.5 249.3V257.3M460.5 244.8V264M463.5 252.7V278.8M464.5 276.8V281.6M467.5 275.3V281.3M470.5 277.3V284.9M472.5 280V282.2M476.5 272.4V276M479.5 267.6V280.5M480.5 279.3V281.5M483.5 279.7V282.3M485.5 278V283.7M489.5 275.4V279.4M491.5 273.7V278.6M492.5 268.6V303.9M495.5 295.9V300.4M496.5 296.2V319.8M498.5 310.3V321.5M501.5 319.6V327.1M505.5 308.6V319.5M508.5 304.4V315M512.5 299V314.7M515.5 305.3V320.1M517.5 313.8V327.4M518.5 324.9V334.1M523.5 325.6V331.1M527.5 314V318.2M529.5 313.5V318.1M530.5 313.7V319.9M533.5 315.2V323.3M542.5 301.1V323M543.5 316.3V328.8M545.5 324.7V342.3M547.5 333.6V341.7M556.5 311.1V314.4M562.5 305.2V313.6M564.5 311V319.5M566.5 316.9V322.9M574.5 304.2V314.8M575.5 309.2V314.2M578.5 310.3V311.7M585.5 303.1V312.7M587.5 306.6V313.4M588.5 309.5V320.4M591.5 312.7V319M594.5 309.5V313.8M597.5 310.2V313.4M599.5 311.3V316.6M600.5 314.4V317.5M604.5 309.8V318.8M609.5 310.4V318.1M612.5 313.6V318.1M613.5 315.6V321.8M618.5 309.9V319.1M621.5 305.7V308.5M622.5 307V309.5M623.5 307.5V311.7M626.5 306.4V312.5M631.5 306.6V315.1M635.5 301.6V307.3M639.5 301.9V303.8M644.5 298.7V304.8M647.5 296.8V301.3M651.5 294V297.4M653.5 293.6V301.8M657.5 292V300.1M661.5 288.6V294.3M663.5 291.2V298.3M666.5 286.4V291.9M669.5 281.2V290.5M672.5 269.5V282.7M673.5 277.9V281.4M677.5 270.9V277.5M679.5 272.6V280.4M680.5 274.5V283.1M683.5 275.4V280.9M686.5 275.4V284.5M688.5 280V284.5M689.5 281.9V287.8M691.5 283.3V288.8M694.5 279.9V289.1M695.5 285.5V291.9M698.5 279.4V283.1M702.5 279.5V281.9M708.5 267.2V278.2M711.5 261.6V269.5M712.5 264V267.1M714.5 265V267.2M715.5 265.8V270.2M717.5 267.2V271.2M718.5 266.4V272.1M724.5 256.9V264M727.5 261.2V263M730.5 257V261.7M734.5 255.7V261.7M737.5 252.6V259.2M739.5 253.2V268.4M742.5 256.6V268.9M743.5 259.7V284M745.5 276.8V288.8M746.5 282.7V294.2M748.5 290.7V321M753.5 308.7V317.3M758.5 308.3V313.7M761.5 308.2V318.1M764.5 311.3V314.7M767.5 310.8V314M769.5 300.5V317.6M771.5 313.4V321.2M772.5 314V331M775.5 323V329.8M778.5 313.5V323.2M781.5 314.7V321.3M783.5 319.5V322.1M784.5 321.2V328.3M786.5 322.1V327.6M790.5 318.8V325.9M793.5 316.1V325.2M794.5 320.4V329.5M800.5 321.7V327M803.5 319.2V326.3M807.5 317.7V329.2M812.5 306.3V316.1M815.5 307.6V314.7M818.5 304.9V308.3M822.5 302.1V311.5M826.5 303.7V310.1M828.5 306.1V310.9M832.5 307.3V314.9M834.5 311.1V313.5M837.5 307.5V314.7M840.5 309V313.7M841.5 310V313.7M845.5 306.6V311.3M847.5 307.8V312.6M848.5 309.7V335.4M851.5 318.3V325.9M854.5 320.4V322.5M856.5 321V323.6M859.5 314.2V320.1M861.5 314.4V322.2M864.5 313V316.6M866.5 314.7V323.9M869.5 315.2V320.9M873.5 310.4V318.8M877.5 308.4V315.3M883.5 288.4V297.9M886.5 289.1V299.9M889.5 290.2V297.9M892.5 293.6V299.5M894.5 296.7V302.3M899.5 291.1V300.3M902.5 295.2V298.4M905.5 291.3V298.9M907.5 297V300.1M910.5 295.9V303.1M911.5 300.7V306.9M913.5 300V308.8M914.5 304.8V310.2M915.5 304.4V318.1M918.5 312V314.2M920.5 311.6V318.8M921.5 314.5V317.7M927.5 307.4V311.5M930.5 305.8V312M933.5 310.2V314.2M936.5 305.1V314.6M939.5 301.7V308.9M943.5 294.5V296.8M945.5 293.3V300.1M946.5 298.6V303M948.5 301.4V306.1M951.5 301.4V306.5M955.5 303.7V306.8M956.5 304.4V306.2M962.5 302.5V304.9M964.5 302.1V306.4M968.5 301.5V306.8M972.5 303.5V305.6M974.5 304.7V308M977.5 304.2V306.3M981.5 301.8V308.2M983.5 307.1V312.6M984.5 310.3V315.3M990.5 312.7V315.3M994.5 304.6V308.8M999.5 304.8V308.3M1005.5 304.7V308M1009.5 305.3V307.8M1015.5 302.9V306.2M1018.5 304.4V306.9M1022.5 303.1V307.8M1025.5 305.2V307.3M1028.5 303.5V307.5M1031.5 301.8V305.7M1035.5 301.4V305.2M1037.5 302.7V304.2M1040.5 298.8V303.7M1043.5 301.5V304.4M1045.5 302V304.7M1047.5 302.9V306.5M1048.5 303.1V305.6M1050.5 304.3V306.3M1051.5 302.8V307.7M1053.5 305.3V312.1M1054.5 307.1V309M1056.5 306.5V332.8M1059.5 320.1V328.7M1063.5 325.4V329.6M1066.5 324V328.2M1070.5 324.7V329.8M1073.5 325.7V327.9M1078.5 325.2V326.8M1079.5 325.4V328.4M1082.5 325.7V330.5M1085.5 326.1V331.5M1088.5 323.2V330.2M1092.5 308.4V312.6M1094.5 310.9V314.2M1098.5 311V314.6M1099.5 313.5V314.6M1104.5 312V315M1108.5 311.8V314.6M1113.5 309.9V313.6M1116.5 310V315.5M1118.5 311.3V314.2M1120.5 312.3V314.9M1121.5 313.5V315.6M1124.5 313.1V318.4M1127.5 313.8V317.6M1130.5 314V317.4M1133.5 314.3V317.5M1137.5 313.4V317M1142.5 312.1V314.1M1145.5 312.7V316.3M1148.5 312.7V314.8M1149.5 313.3V314.8M1152.5 312.1V314.9M1153.5 313.2V314.7M1155.5 312.9V315.2M1158.5 313.9V316.4M1159.5 314.2V317.6M1164.5 312.8V315.4M1167.5 312.2V315.2M1171.5 313V314.7M1174.5 312.4V316.2M1177.5 312.9V315.3M1181.5 312.6V314.3M1183.5 312.5V316M1184.5 312.9V316.3M1186.5 313.6V316.7M1190.5 313V315.7M1197.5 312.3V314.7M1199.5 313.4V317M1203.5 312.3V315M1206.5 312.2V314.2M1208.5 312.9V316.4M1210.5 311.5V316.3M1212.5 314V318.2M1215.5 311.8V319.3M1216.5 315.4V321M1218.5 319V324.1M1219.5 321.7V325.3M1222.5 320.4V323.5M1226.5 319V322.7M1231.5 318.6V322.5M1232.5 320.5V322.4M1235.5 319.6V321.6M1238.5 318.7V321.6M1240.5 319.7V323.8M1243.5 316.4V319.8M1245.5 316.6V320.1M1248.5 316.8V319M1253.5 315.2V318.4M1257.5 315.7V318.1M1260.5 315.7V318.4M1262.5 316.8V318.5M1264.5 315.3V318.7M1270.5 312V313.6M1272.5 312.2V313.6M1273.5 311.9V314.7M1278.5 311.4V316.2M1281.5 311.2V313.8M1283.5 309.5V313.3M1288.5 309V313.7M1292.5 306.8V311.1" stroke="#f2a3ab" stroke-width="1" fill="none"/>
<path d="M6.5 303.7V311.5M7.5 310.9V324.7M9.5 324.1V328.4M12.5 322.3V323.5M20.5 300.1V303.5M22.5 302.9V304.5M23.5 303.9V311.7M26.5 310.7V315.8M29.5 312.9V314.8M31.5 314.2V317.6M32.5 317V318.1M36.5 311V317M41.5 304.8V306.9M42.5 306.3V311.2M44.5 310.6V311.3M45.5 310.7V312.6M47.5 312V315.9M52.5 291.8V293.1M54.5 292.5V296.4M63.5 288.6V291.8M64.5 291.2V299.2M66.5 298.6V299.6M73.5 292.2V294.2M76.5 291.2V295.5M77.5 294.9V296.4M79.5 295.8V297.2M83.5 295.3V303.2M85.5 302.6V321.3M86.5 320.7V325.5M89.5 322.1V340.2M95.5 333.9V335.2M98.5 325.6V328M101.5 326.9V336.1M102.5 335.5V347.5M104.5 346.9V349M108.5 330.3V333.5M112.5 318.8V322.6M115.5 320.7V325.8M118.5 322.5V326.8M120.5 326.2V329.7M123.5 327.9V335.8M125.5 326.9V337.6M133.5 325.5V326.6M134.5 326V331.8M139.5 329.2V330.3M140.5 329.7V334.1M143.5 326.3V338.5M144.5 337.9V340.2M146.5 339.6V346.1M147.5 345.5V349M153.5 314.7V317.9M156.5 315.7V316.9M159.5 315.8V317.2M161.5 316.6V317.3M163.5 316.4V321.4M169.5 315.7V318.8M172.5 314.5V321.2M177.5 295.2V306.9M181.5 301.4V302.1M182.5 301.5V303.5M187.5 297.4V298.2M188.5 297.6V298.6M190.5 298V304M196.5 300.4V307.1M199.5 302.6V305M201.5 303.9V306.1M204.5 303.3V305.9M210.5 302.2V303.2M212.5 302.6V304M215.5 303.3V304.8M216.5 304.2V306.4M223.5 286.3V295.5M226.5 289.2V290.4M228.5 289.8V291.6M229.5 291V294.9M231.5 294.3V297.1M232.5 296.5V299.8M235.5 295.7V297.4M238.5 293.6V298.2M241.5 297.1V302.5M242.5 301.9V305M244.5 304.4V311.9M245.5 311.3V315.1M247.5 314.5V318.8M250.5 315.9V319.3M253.5 314.9V315.6M254.5 315V317.6M255.5 317V321.5M260.5 314.3V322.8M264.5 320.1V325.7M266.5 325.1V326.8M272.5 320.1V322M273.5 321.4V324.3M276.5 320V323.7M279.5 321.9V323.6M280.5 323V324.8M283.5 318.6V323.4M286.5 316.5V318.8M288.5 318.2V319.1M290.5 315.7V319.6M293.5 318.5V321.3M296.5 298.3V301.7M298.5 301.1V305.1M299.5 304.5V305.1M304.5 295.7V299.6M308.5 256.9V257.6M311.5 253.3V254.5M312.5 253.9V254.9M314.5 254.3V259.2M317.5 255.3V259.9M320.5 258.5V260.9M324.5 251.6V253.3M327.5 249.9V253.8M330.5 250.9V253.7M333.5 252.1V258.1M334.5 257.5V260.9M336.5 260.3V263M345.5 254.8V257.7M349.5 250.9V257.4M356.5 238.6V243.8M371.5 196.5V203.6M372.5 203V208.2M374.5 207.6V214.4M377.5 212.6V213.9M384.5 205.7V206.9M385.5 206.3V208.1M387.5 207.5V209.3M388.5 208.7V232.9M391.5 225.9V229.9M396.5 204.7V210M397.5 209.4V210M399.5 209.4V210.4M400.5 209.8V210.5M401.5 209.9V213.9M406.5 207.7V210.5M412.5 207.3V208.4M413.5 207.8V212.8M416.5 209.8V211.1M418.5 210.5V211.3M419.5 210.7V212.5M420.5 211.9V213.1M422.5 212.5V216.7M425.5 214V217.2M426.5 216.6V222.6M428.5 222V225M429.5 224.4V242.9M431.5 242.3V243.5M432.5 242.9V246.6M434.5 246V248.6M435.5 248V249.1M444.5 240.8V244.3M447.5 242.5V247M448.5 246.4V248.3M450.5 247.7V261.5M454.5 252.4V254.2M456.5 253.6V256.7M460.5 248.1V262.8M463.5 255.3V277.9M464.5 277.3V279.3M467.5 275.6V279.7M470.5 277.9V281.2M472.5 280.6V282.2M476.5 274.2V275M479.5 270.9V280M480.5 279.4V281.2M483.5 279.9V280.8M485.5 280.2V282.3M489.5 275.4V276.1M491.5 275.5V278.1M492.5 277.5V303.2M495.5 296.4V298.6M496.5 298V312.1M498.5 311.5V321.5M501.5 320.4V323.5M505.5 312.4V313.5M508.5 306.7V313M512.5 302.9V313.3M515.5 305.5V316.4M517.5 315.8V326.6M518.5 326V333M523.5 327.5V330.7M527.5 314.5V315.4M529.5 314.8V317M530.5 316.4V318.7M533.5 317.9V323.2M542.5 308.5V319M543.5 318.4V327.4M545.5 326.8V338M547.5 336.4V338.6M556.5 312.7V314.3M562.5 307.8V313.2M564.5 312.6V319.1M566.5 317V319M574.5 308.2V311.6M575.5 311V313.4M578.5 310.6V311.3M585.5 306.2V310.7M587.5 310.1V311.9M588.5 311.3V319.6M591.5 315.4V316.7M594.5 310V313.7M597.5 310.3V312.9M599.5 312.3V315.5M600.5 314.9V315.9M604.5 311V318.6M609.5 314.6V316.4M612.5 315.2V316.4M613.5 315.8V318.2M618.5 311.7V317.9M621.5 306.9V307.9M622.5 307.3V309.3M623.5 308.7V310.2M626.5 308V310.1M631.5 308.2V312.5M635.5 302.6V306.6M639.5 303V303.6M644.5 299.7V301.9M647.5 299V300.5M651.5 295.2V296M653.5 295.4V299.4M657.5 292.6V296.5M661.5 291.3V292.5M663.5 291.9V294.7M666.5 288.4V289.9M669.5 281.7V287.8M672.5 271.6V279.3M673.5 278.7V279.4M677.5 274V275.5M679.5 274.9V278.4M680.5 277.8V280M683.5 277.2V280.8M686.5 275.9V281.5M688.5 280.9V283.8M689.5 283.2V286.8M691.5 286.2V287.6M694.5 283.8V287.8M695.5 287.2V288.2M698.5 280.4V281.2M702.5 279.5V281.6M708.5 269V274.2M711.5 261.8V265.2M712.5 264.6V266.1M714.5 265.5V266.9M715.5 266.3V269.5M717.5 268.9V269.5M718.5 268.9V270.1M724.5 258V263.6M727.5 262V262.9M730.5 260.4V261.6M734.5 255.8V260.1M737.5 255.8V257.2M739.5 256.6V268.2M742.5 260.2V263.1M743.5 262.5V278.3M745.5 277.7V285.3M746.5 284.7V292.9M748.5 292.3V317.9M753.5 310.9V314.8M758.5 308.3V311.7M761.5 309.7V316M764.5 312.2V313.9M767.5 311.2V313.4M769.5 305.9V315.2M771.5 314.6V317.9M772.5 317.3V326M775.5 323.3V328.3M778.5 313.7V319.1M781.5 315.3V320.3M783.5 319.7V321.9M784.5 321.3V325.5M786.5 324.9V325.8M790.5 319.7V325.2M793.5 318.1V321.2M794.5 320.6V325.3M800.5 322.3V327M803.5 321V324M807.5 319.3V327.1M812.5 310.5V315.5M815.5 309.5V312.9M818.5 306.2V308.3M822.5 305V310.4M826.5 306.2V309.2M828.5 308.6V309.9M832.5 307.7V313.2M834.5 312.6V313.3M837.5 308.7V312.8M840.5 311.2V312.4M841.5 311.8V312.5M845.5 308.3V309.1M847.5 308.5V312.5M848.5 311.9V332.8M851.5 320V323.3M854.5 320.8V322.2M856.5 321.6V323.3M859.5 314.8V319.7M861.5 314.4V320.3M864.5 313.9V316.3M866.5 315.7V323.8M869.5 317.5V320.5M873.5 310.6V314.9M877.5 310.2V313.3M883.5 292.7V295.4M886.5 291.2V298.6M889.5 292V297.2M892.5 295.6V297.5M894.5 296.9V300.8M899.5 294.1V299.2M902.5 295.2V297.2M905.5 292.6V298M907.5 297.4V299.8M910.5 297.9V303M911.5 302.4V303.8M913.5 303.2V306.9M914.5 306.3V309.5M915.5 308.9V317.6M918.5 313.1V314M920.5 313.4V317.3M921.5 316.7V317.5M927.5 307.4V309.7M930.5 308.4V311.4M933.5 310.3V312.4M936.5 310.9V312.5M939.5 304.3V305.1M943.5 294.8V296.3M945.5 295.7V299.5M946.5 298.9V302.1M948.5 301.5V304.8M951.5 302.5V306M955.5 305.1V305.9M956.5 305.3V306.2M962.5 303.3V304.9M964.5 304.3V305.4M968.5 302V306.8M972.5 304V305.6M974.5 305V307M977.5 304.3V305.8M981.5 303.2V308M983.5 307.4V312M984.5 311.4V314.3M990.5 312.8V314.5M994.5 306.3V307.3M999.5 305.6V307.6M1005.5 304.9V307.7M1009.5 305.7V306.5M1015.5 304.3V306.1M1018.5 304.6V306.8M1022.5 303.4V306.2M1025.5 305.3V306.6M1028.5 303.9V305.7M1031.5 302.5V304.7M1035.5 301.6V303.6M1037.5 303V304.2M1040.5 301.8V302.9M1043.5 302.2V303.5M1045.5 302.8V304.2M1047.5 303.6V304.8M1048.5 304.2V305.4M1050.5 304.8V305.5M1051.5 304.9V307.3M1053.5 306.7V308.6M1054.5 308V308.9M1056.5 308.3V330.3M1059.5 320.6V327.7M1063.5 325.5V329.4M1066.5 324.7V328.2M1070.5 325.9V327M1073.5 326.1V327.9M1078.5 325.4V326.8M1079.5 326.2V328.2M1082.5 326.7V329.8M1085.5 326.7V329.5M1088.5 323.7V326.9M1092.5 310.4V312.6M1094.5 312V314M1098.5 311.4V314.2M1099.5 313.6V314.2M1104.5 312.4V314.5M1108.5 312.8V314M1113.5 310.7V312.5M1116.5 310.7V315.5M1118.5 312.4V313.4M1120.5 312.8V314.4M1121.5 313.8V315.3M1124.5 314V317.6M1127.5 314.5V316.2M1130.5 314.7V316.7M1133.5 315.2V316.6M1137.5 314V315.7M1142.5 312.6V313.4M1145.5 312.8V315M1148.5 313V314.1M1149.5 313.5V314.5M1152.5 312.7V313.8M1153.5 313.2V314.7M1155.5 314.1V315.1M1158.5 314.1V315.3M1159.5 314.7V315.8M1164.5 313.2V314.6M1167.5 313.8V314.6M1171.5 313V314.5M1174.5 313.6V315.9M1177.5 313.4V315M1181.5 312.7V313.6M1183.5 313V314.3M1184.5 313.7V315.5M1186.5 314.9V316.3M1190.5 313.5V315.3M1197.5 313.6V314.6M1199.5 314V315.9M1203.5 313.3V314.4M1206.5 312.2V313.8M1208.5 313.2V316M1210.5 313V315.6M1212.5 315V316.4M1215.5 313.1V318M1216.5 317.4V321M1218.5 320.4V323.5M1219.5 322.9V323.7M1222.5 321V323.2M1226.5 319.5V322.5M1231.5 319.8V321.6M1232.5 321V321.7M1235.5 319.9V320.7M1238.5 319.1V320.7M1240.5 320.1V322.2M1243.5 316.7V319.2M1245.5 316.9V319.6M1248.5 316.9V318.6M1253.5 316V318.1M1257.5 316.1V317.5M1260.5 316.8V317.7M1262.5 317.1V318.3M1264.5 316.6V318.3M1270.5 312.1V313M1272.5 312.4V313.6M1273.5 313V314.6M1278.5 312.2V314.8M1281.5 312.4V313.2M1283.5 311.8V313.2M1288.5 309.3V313.1M1292.5 307.9V310.6" stroke="#e84658" stroke-width="1" fill="none"/>
<line x1="867.4" y1="308" x2="867.4" y2="334" stroke="#7fa0ad" stroke-width="1" />
<line x1="1090.4" y1="294" x2="1090.4" y2="327" stroke="#6f9aa8" stroke-width="1" />
<line x1="1055" y1="295" x2="1055" y2="334" stroke="#e8596a" stroke-width="1" />
<line x1="9.7" y1="318" x2="9.7" y2="331" stroke="#e8596a" stroke-width="1" />
<line x1="105.3" y1="326" x2="105.3" y2="351" stroke="#4f9f80" stroke-width="1" />
<line x1="1081.9" y1="318" x2="1081.9" y2="329" stroke="#7fa0ad" stroke-width="1" />
<line x1="4" y1="309.5" x2="1382" y2="309.5" stroke="#e8495c" stroke-width="1" stroke-dasharray="2 2"/>
<rect x="18" y="295.6" width="36" height="3" fill="#800080" />
<rect x="18" y="329.8" width="36" height="3" fill="#800080" />
<rect x="94" y="325.9" width="5.6" height="3" fill="#800080" />
<rect x="94" y="340.2" width="5.6" height="3" fill="#800080" />
<rect x="132.8" y="325.9" width="9.7" height="3" fill="#800080" />
<rect x="132.8" y="337.8" width="9.7" height="3" fill="#800080" />
<rect x="152" y="306.7" width="23.7" height="3" fill="#800080" />
<rect x="152" y="349.8" width="23.7" height="3" fill="#800080" />
<rect x="191.7" y="291" width="29.8" height="3" fill="#800080" />
<rect x="191.7" y="312.9" width="29.8" height="3" fill="#800080" />
<rect x="251.4" y="314.5" width="8.3" height="3" fill="#800080" />
<rect x="251.4" y="320.4" width="8.3" height="3" fill="#800080" />
<rect x="272" y="316.5" width="15" height="3" fill="#800080" />
<rect x="272" y="324" width="15" height="3" fill="#800080" />
<rect x="395.8" y="204.5" width="11.6" height="3" fill="#800080" />
<rect x="395.8" y="232.9" width="11.6" height="3" fill="#800080" />
<rect x="424" y="210.8" width="6" height="3" fill="#800080" />
<rect x="424" y="228.8" width="6" height="3" fill="#800080" />
<rect x="443.2" y="237.8" width="7.5" height="3" fill="#800080" />
<rect x="443.2" y="252.9" width="7.5" height="3" fill="#800080" />
<rect x="456.5" y="246.9" width="8.3" height="3" fill="#800080" />
<rect x="456.5" y="261.7" width="8.3" height="3" fill="#800080" />
<rect x="476.4" y="269.8" width="5.8" height="3" fill="#800080" />
<rect x="476.4" y="284.8" width="5.8" height="3" fill="#800080" />
<rect x="510.4" y="300.9" width="9.1" height="3" fill="#800080" />
<rect x="510.4" y="330.1" width="9.1" height="3" fill="#800080" />
<rect x="526.2" y="308" width="14.8" height="3" fill="#800080" />
<rect x="526.2" y="336.7" width="15.8" height="3" fill="#800080" />
<rect x="697" y="277.5" width="5" height="3" fill="#800080" />
<rect x="728" y="258.3" width="7.4" height="3" fill="#800080" />
<rect x="728" y="268.3" width="7.4" height="3" fill="#800080" />
<rect x="756" y="305.3" width="16.7" height="3" fill="#800080" />
<rect x="756" y="322.2" width="16.7" height="3" fill="#800080" />
<rect x="778.2" y="311.8" width="31.1" height="3" fill="#800080" />
<rect x="778.2" y="331" width="31.1" height="3" fill="#800080" />
<rect x="844" y="305.5" width="6" height="3" fill="#800080" />
<rect x="844" y="317.2" width="6" height="3" fill="#800080" />
<rect x="857.4" y="313.9" width="11.6" height="3" fill="#800080" />
<rect x="857.4" y="325" width="11.6" height="3" fill="#800080" />
<rect x="1058.3" y="322" width="8.3" height="3" fill="#800080" />
<rect x="1058.3" y="334" width="8.3" height="3" fill="#800080" />
<rect x="1124" y="312.5" width="10.7" height="3" fill="#800080" />
<rect x="1124" y="316.9" width="10.7" height="3" fill="#800080" />
<rect x="1169.5" y="308.5" width="45.7" height="3" fill="#800080" />
<rect x="1168.7" y="315.7" width="46.5" height="3" fill="#800080" />
<rect x="1221.8" y="319.9" width="12.5" height="3" fill="#800080" />
<rect x="1221.8" y="324.8" width="12.5" height="3" fill="#800080" />
<rect x="1270" y="308.5" width="21.5" height="3" fill="#800080" />
<rect x="1270" y="319" width="21.5" height="3" fill="#800080" />
<rect x="4" y="283.9" width="3.6" height="3" fill="#00ffff" />
<rect x="4" y="309.5" width="2" height="3" fill="#00ffff" />
<rect x="65" y="288" width="19.4" height="3" fill="#00ffff" />
<rect x="65" y="304.9" width="19.4" height="3" fill="#00ffff" />
<rect x="103.7" y="321.9" width="9.7" height="3" fill="#00ffff" />
<rect x="103.7" y="349.8" width="9.7" height="3" fill="#00ffff" />
<rect x="125.9" y="316" width="5.5" height="3" fill="#00ffff" />
<rect x="125.9" y="336" width="5.5" height="3" fill="#00ffff" />
<rect x="181.2" y="298" width="4.8" height="3" fill="#00ffff" />
<rect x="181.2" y="306.3" width="4.8" height="3" fill="#00ffff" />
<rect x="229" y="288.9" width="5" height="3" fill="#00ffff" />
<rect x="229" y="297.2" width="5" height="3" fill="#00ffff" />
<rect x="319" y="244" width="15.4" height="3" fill="#00ffff" />
<rect x="319" y="263.1" width="15.4" height="3" fill="#00ffff" />
<rect x="345" y="250.7" width="5" height="3" fill="#00ffff" />
<rect x="345" y="266.9" width="5" height="3" fill="#00ffff" />
<rect x="375" y="191.8" width="13.3" height="3" fill="#00ffff" />
<rect x="375" y="217.8" width="13.3" height="3" fill="#00ffff" />
<rect x="409" y="203" width="6" height="3" fill="#00ffff" />
<rect x="409" y="214.2" width="6" height="3" fill="#00ffff" />
<rect x="547" y="304.7" width="14.9" height="3" fill="#00ffff" />
<rect x="547" y="342.9" width="14.9" height="3" fill="#00ffff" />
<rect x="564.4" y="299.7" width="41.4" height="3" fill="#00ffff" />
<rect x="564.4" y="325.5" width="53.1" height="3" fill="#00ffff" />
<rect x="624" y="283.8" width="44" height="3" fill="#00ffff" />
<rect x="624" y="322" width="45" height="3" fill="#00ffff" />
<rect x="682.3" y="271.9" width="8.3" height="3" fill="#00ffff" />
<rect x="682.3" y="285.2" width="8.3" height="3" fill="#00ffff" />
<rect x="718" y="258.3" width="5.8" height="3" fill="#00ffff" />
<rect x="718" y="267.9" width="5.8" height="3" fill="#00ffff" />
<rect x="737" y="254.5" width="5.9" height="3" fill="#00ffff" />
<rect x="822.5" y="303.1" width="14.1" height="3" fill="#00ffff" />
<rect x="822.5" y="312.5" width="14.1" height="3" fill="#00ffff" />
<rect x="886.5" y="288.8" width="169.3" height="3" fill="#00ffff" />
<rect x="888.2" y="331" width="167.6" height="3" fill="#00ffff" />
<rect x="1073.2" y="323.5" width="9.2" height="3" fill="#00ffff" />
<rect x="1073.2" y="326.8" width="9.2" height="3" fill="#00ffff" />
<rect x="1095.7" y="293" width="27" height="3" fill="#00ffff" />
<rect x="1106.5" y="316" width="16.2" height="3" fill="#00ffff" />
<rect x="1144.6" y="310.2" width="5.9" height="3" fill="#00ffff" />
<rect x="1236.8" y="324.8" width="7.4" height="3" fill="#00ffff" />
<rect x="1250" y="314.9" width="9.2" height="3" fill="#00ffff" />
<rect x="1073.2" y="324" width="9.2" height="5" fill="#00ffff" />
<line x1="7.2" y1="285.6" x2="7.2" y2="305" stroke="#ff0000" stroke-width="1.4" />
<line x1="5.3" y1="285.6" x2="9.1" y2="285.6" stroke="#ff0000" stroke-width="1.3" />
<line x1="84.6" y1="284.5" x2="84.6" y2="297.4" stroke="#ff0000" stroke-width="1.4" />
<line x1="82.7" y1="284.5" x2="86.5" y2="284.5" stroke="#ff0000" stroke-width="1.3" />
<line x1="131.4" y1="315.7" x2="131.4" y2="328.5" stroke="#ff0000" stroke-width="1.4" />
<line x1="129.5" y1="315.7" x2="133.3" y2="315.7" stroke="#ff0000" stroke-width="1.3" />
<line x1="142.5" y1="318.6" x2="142.5" y2="330" stroke="#ff0000" stroke-width="1.4" />
<line x1="140.6" y1="318.6" x2="144.4" y2="318.6" stroke="#ff0000" stroke-width="1.3" />
<line x1="186.4" y1="288.4" x2="186.4" y2="300.9" stroke="#ff0000" stroke-width="1.4" />
<line x1="184.5" y1="288.4" x2="188.3" y2="288.4" stroke="#ff0000" stroke-width="1.3" />
<line x1="234.3" y1="280.4" x2="234.3" y2="294.5" stroke="#ff0000" stroke-width="1.4" />
<line x1="232.4" y1="280.4" x2="236.2" y2="280.4" stroke="#ff0000" stroke-width="1.3" />
<line x1="259.4" y1="304.5" x2="259.4" y2="317.7" stroke="#ff0000" stroke-width="1.4" />
<line x1="257.5" y1="304.5" x2="261.3" y2="304.5" stroke="#ff0000" stroke-width="1.3" />
<line x1="388.3" y1="191.6" x2="388.3" y2="205.7" stroke="#ff0000" stroke-width="1.4" />
<line x1="386.4" y1="191.6" x2="390.2" y2="191.6" stroke="#ff0000" stroke-width="1.3" />
<line x1="415.4" y1="191.6" x2="415.4" y2="205.7" stroke="#ff0000" stroke-width="1.4" />
<line x1="413.5" y1="191.6" x2="417.3" y2="191.6" stroke="#ff0000" stroke-width="1.3" />
<line x1="429.8" y1="209.6" x2="429.8" y2="224.9" stroke="#ff0000" stroke-width="1.4" />
<line x1="427.9" y1="209.6" x2="431.7" y2="209.6" stroke="#ff0000" stroke-width="1.3" />
<line x1="450.7" y1="235.7" x2="450.7" y2="250.6" stroke="#ff0000" stroke-width="1.4" />
<line x1="448.8" y1="235.7" x2="452.6" y2="235.7" stroke="#ff0000" stroke-width="1.3" />
<line x1="464.8" y1="243" x2="464.8" y2="258" stroke="#ff0000" stroke-width="1.4" />
<line x1="462.9" y1="243" x2="466.7" y2="243" stroke="#ff0000" stroke-width="1.3" />
<line x1="481.7" y1="267.5" x2="481.7" y2="282" stroke="#ff0000" stroke-width="1.4" />
<line x1="479.8" y1="267.5" x2="483.6" y2="267.5" stroke="#ff0000" stroke-width="1.3" />
<line x1="519.5" y1="300.4" x2="519.5" y2="315.3" stroke="#ff0000" stroke-width="1.4" />
<line x1="517.6" y1="300.4" x2="521.4" y2="300.4" stroke="#ff0000" stroke-width="1.3" />
<line x1="690.6" y1="266.5" x2="690.6" y2="281.4" stroke="#ff0000" stroke-width="1.4" />
<line x1="688.7" y1="266.5" x2="692.5" y2="266.5" stroke="#ff0000" stroke-width="1.3" />
<line x1="723.8" y1="251.2" x2="723.8" y2="265.6" stroke="#ff0000" stroke-width="1.4" />
<line x1="721.9" y1="251.2" x2="725.7" y2="251.2" stroke="#ff0000" stroke-width="1.3" />
<line x1="742.9" y1="244.5" x2="742.9" y2="259" stroke="#ff0000" stroke-width="1.4" />
<line x1="741" y1="244.5" x2="744.8" y2="244.5" stroke="#ff0000" stroke-width="1.3" />
<line x1="772.4" y1="299.6" x2="772.4" y2="314.6" stroke="#ff0000" stroke-width="1.4" />
<line x1="770.5" y1="299.6" x2="774.3" y2="299.6" stroke="#ff0000" stroke-width="1.3" />
<line x1="837" y1="295.8" x2="837" y2="310.4" stroke="#ff0000" stroke-width="1.4" />
<line x1="835.1" y1="295.8" x2="838.9" y2="295.8" stroke="#ff0000" stroke-width="1.3" />
<line x1="849.4" y1="296.7" x2="849.4" y2="311.3" stroke="#ff0000" stroke-width="1.4" />
<line x1="847.5" y1="296.7" x2="851.3" y2="296.7" stroke="#ff0000" stroke-width="1.3" />
<line x1="1055.8" y1="294.5" x2="1055.8" y2="307.3" stroke="#ff0000" stroke-width="1.4" />
<line x1="1053.9" y1="294.5" x2="1057.7" y2="294.5" stroke="#ff0000" stroke-width="1.3" />
<line x1="1122.6" y1="298" x2="1122.6" y2="313" stroke="#ff0000" stroke-width="1.4" />
<line x1="1120.7" y1="298" x2="1124.5" y2="298" stroke="#ff0000" stroke-width="1.3" />
<line x1="1150.5" y1="298" x2="1150.5" y2="313" stroke="#ff0000" stroke-width="1.4" />
<line x1="1148.6" y1="298" x2="1152.4" y2="298" stroke="#ff0000" stroke-width="1.3" />
<line x1="1215.5" y1="301.5" x2="1215.5" y2="316" stroke="#ff0000" stroke-width="1.4" />
<line x1="1213.6" y1="301.5" x2="1217.4" y2="301.5" stroke="#ff0000" stroke-width="1.3" />
<line x1="1259.5" y1="304.5" x2="1259.5" y2="318" stroke="#ff0000" stroke-width="1.4" />
<line x1="1257.6" y1="304.5" x2="1261.4" y2="304.5" stroke="#ff0000" stroke-width="1.3" />
<line x1="53.2" y1="312" x2="53.2" y2="327.4" stroke="#00f000" stroke-width="1.5" />
<line x1="51.3" y1="327.4" x2="55.1" y2="327.4" stroke="#00f000" stroke-width="1.3" />
<line x1="99.3" y1="335.4" x2="99.3" y2="347.2" stroke="#00f000" stroke-width="1.5" />
<line x1="97.4" y1="347.2" x2="101.2" y2="347.2" stroke="#00f000" stroke-width="1.3" />
<line x1="113.7" y1="335.4" x2="113.7" y2="350.6" stroke="#00f000" stroke-width="1.5" />
<line x1="111.8" y1="350.6" x2="115.6" y2="350.6" stroke="#00f000" stroke-width="1.3" />
<line x1="175.7" y1="321.6" x2="175.7" y2="335.4" stroke="#00f000" stroke-width="1.5" />
<line x1="173.8" y1="335.4" x2="177.6" y2="335.4" stroke="#00f000" stroke-width="1.3" />
<line x1="221.5" y1="307.8" x2="221.5" y2="325.2" stroke="#00f000" stroke-width="1.5" />
<line x1="219.6" y1="325.2" x2="223.4" y2="325.2" stroke="#00f000" stroke-width="1.3" />
<line x1="334.4" y1="265.5" x2="334.4" y2="280.4" stroke="#00f000" stroke-width="1.5" />
<line x1="332.5" y1="280.4" x2="336.3" y2="280.4" stroke="#00f000" stroke-width="1.3" />
<line x1="350.2" y1="256.3" x2="350.2" y2="271.3" stroke="#00f000" stroke-width="1.5" />
<line x1="348.3" y1="271.3" x2="352.1" y2="271.3" stroke="#00f000" stroke-width="1.3" />
<line x1="407.4" y1="214" x2="407.4" y2="225.3" stroke="#00f000" stroke-width="1.5" />
<line x1="405.5" y1="225.3" x2="409.3" y2="225.3" stroke="#00f000" stroke-width="1.3" />
<line x1="561.4" y1="319.5" x2="561.4" y2="334" stroke="#00f000" stroke-width="1.5" />
<line x1="559.5" y1="334" x2="563.3" y2="334" stroke="#00f000" stroke-width="1.3" />
<line x1="617.5" y1="317" x2="617.5" y2="328.6" stroke="#00f000" stroke-width="1.5" />
<line x1="615.6" y1="328.6" x2="619.4" y2="328.6" stroke="#00f000" stroke-width="1.3" />
<line x1="701.4" y1="284.7" x2="701.4" y2="299.6" stroke="#00f000" stroke-width="1.5" />
<line x1="699.5" y1="299.6" x2="703.3" y2="299.6" stroke="#00f000" stroke-width="1.3" />
<line x1="735.4" y1="262.3" x2="735.4" y2="275.6" stroke="#00f000" stroke-width="1.5" />
<line x1="733.5" y1="275.6" x2="737.3" y2="275.6" stroke="#00f000" stroke-width="1.3" />
<line x1="809.3" y1="321.2" x2="809.3" y2="335.3" stroke="#00f000" stroke-width="1.5" />
<line x1="807.4" y1="335.3" x2="811.2" y2="335.3" stroke="#00f000" stroke-width="1.3" />
<line x1="868.5" y1="333.7" x2="868.5" y2="348.6" stroke="#00f000" stroke-width="1.5" />
<line x1="866.6" y1="348.6" x2="870.4" y2="348.6" stroke="#00f000" stroke-width="1.3" />
<line x1="1066.5" y1="328" x2="1066.5" y2="343.4" stroke="#00f000" stroke-width="1.5" />
<line x1="1064.6" y1="343.4" x2="1068.4" y2="343.4" stroke="#00f000" stroke-width="1.3" />
<line x1="1082.4" y1="328" x2="1082.4" y2="341.3" stroke="#00f000" stroke-width="1.5" />
<line x1="1080.5" y1="341.3" x2="1084.3" y2="341.3" stroke="#00f000" stroke-width="1.3" />
<line x1="1135.5" y1="317.2" x2="1135.5" y2="332" stroke="#00f000" stroke-width="1.5" />
<line x1="1133.6" y1="332" x2="1137.4" y2="332" stroke="#00f000" stroke-width="1.3" />
<line x1="1234.3" y1="327" x2="1234.3" y2="342.4" stroke="#00f000" stroke-width="1.5" />
<line x1="1232.4" y1="342.4" x2="1236.2" y2="342.4" stroke="#00f000" stroke-width="1.3" />
<line x1="1244.6" y1="322" x2="1244.6" y2="337.5" stroke="#00f000" stroke-width="1.5" />
<line x1="1242.7" y1="337.5" x2="1246.5" y2="337.5" stroke="#00f000" stroke-width="1.3" />
<line x1="1291.5" y1="317" x2="1291.5" y2="328.3" stroke="#00f000" stroke-width="1.5" />
<line x1="1289.6" y1="328.3" x2="1293.4" y2="328.3" stroke="#00f000" stroke-width="1.3" />
<line x1="176.6" y1="348.1" x2="229.4" y2="294.7" stroke="#8c8c8c" stroke-width="1" stroke-dasharray="6 5"/>
<line x1="690.6" y1="344.5" x2="740" y2="262" stroke="#8c8c8c" stroke-width="1" stroke-dasharray="6 5"/>
<line x1="690.6" y1="344.5" x2="829" y2="264" stroke="#8c8c8c" stroke-width="1" stroke-dasharray="6 5"/>
<path d="M4.1 287 L6.1 289.6 L8.1 292.1 L10.1 294.3 L12.1 296.2 L14.1 297.8 L16.1 299.1 L18.1 300.2 L20.1 301.2 L22.1 302.1 L24.1 303.1 L26.1 304.1 L28.1 305 L30.1 305.8 L32.1 306.7 L34.1 307.4 L36.1 307.8 L38.1 308 L40.1 308.1 L42.1 308.2 L44.1 308.3 L46.1 308.4 L48.1 308.5 L50.1 308.4 L52.1 308 L54.1 307.2 L56.1 306.3 L58.1 305.3 L60.1 304.3 L62.1 303.4 L64.1 302.5 L66.1 301.7 L68.1 301 L70.1 300.3 L72.1 299.7 L74.1 299.1 L76.1 298.7 L78.1 298.5 L80.1 298.4 L82.1 298.8 L84.1 300.3 L86.1 302.8 L88.1 305.7 L90.1 308.5 L92.1 311.2 L94.1 313.8 L96.1 316.3 L98.1 318.6 L100.1 320.7 L102.1 322.7 L104.1 324.3 L106.1 325.3 L108.1 325.7 L110.1 325.9 L112.1 325.9 L114.1 326 L116.1 326.2 L118.1 326.3 L120.1 326.5 L122.1 326.8 L124.1 327.1 L126.1 327.6 L128.1 328.3 L130.1 329 L132.1 329.6 L134.1 330.1 L136.1 330.5 L138.1 330.9 L140.1 331.4 L142.1 332.3 L144.1 333.5 L146.1 334.8 L148.1 335.9 L150.1 336.1 L152.1 335 L154.1 333.1 L156.1 331.1 L158.1 329.5 L160.1 328.2 L162.1 326.9 L164.1 325.6 L166.1 324.4 L168.1 323.2 L170.1 322 L172.1 320.8 L174.1 319.7 L176.1 318.4 L178.1 317.2 L180.1 315.9 L182.1 314.7 L184.1 313.6 L186.1 313 L188.1 312.7 L190.1 312.4 L192.1 311.7 L194.1 310.8 L196.1 309.8 L198.1 308.8 L200.1 308.2 L202.1 307.9 L204.1 307.8 L206.1 307.8 L208.1 307.8 L210.1 307.7 L212.1 307.4 L214.1 306.9 L216.1 306.2 L218.1 305.4 L220.1 304.7 L222.1 304 L224.1 303.2 L226.1 302.4 L228.1 301.5 L230.1 300.7 L232.1 299.9 L234.1 299.5 L236.1 299.7 L238.1 300.4 L240.1 301.3 L242.1 302.4 L244.1 303.5 L246.1 304.7 L248.1 305.9 L250.1 307.1 L252.1 308.3 L254.1 309.6 L256.1 310.9 L258.1 312.3 L260.1 313.7 L262.1 315.1 L264.1 316.6 L266.1 318 L268.1 319.1 L270.1 319.9 L272.1 320.6 L274.1 321.1 L276.1 321.7 L278.1 322.2 L280.1 322.4 L282.1 322.5 L284.1 322.3 L286.1 322.2 L288.1 321.9 L290.1 321.4 L292.1 320.6 L294.1 319.6 L296.1 318.5 L298.1 316.9 L300.1 314.8 L302.1 312.3 L304.1 309 L306.1 304.7 L308.1 299.6 L310.1 294.6 L312.1 290.3 L314.1 286.7 L316.1 283.4 L318.1 280.4 L320.1 277.6 L322.1 275.2 L324.1 272.9 L326.1 270.7 L328.1 268.7 L330.1 267.1 L332.1 266 L334.1 265.1 L336.1 264.3 L338.1 263.5 L340.1 262.8 L342.1 262 L344.1 261.3 L346.1 260.6 L348.1 259.8 L350.1 258.9 L352.1 257.8 L354.1 256.5 L356.1 255 L358.1 253.4 L360.1 251.5 L362.1 249 L364.1 245.8 L366.1 242.2 L368.1 238.2 L370.1 233.9 L372.1 230 L374.1 226.9 L376.1 224.6 L378.1 222.8 L380.1 221.2 L382.1 220 L384.1 219.1 L386.1 218.6 L388.1 218.7 L390.1 219.1 L392.1 219.2 L394.1 218.8 L396.1 218 L398.1 217.1 L400.1 216.3 L402.1 215.7 L404.1 215.2 L406.1 214.8 L408.1 214.4 L410.1 214.3 L412.1 214.5 L414.1 214.7 L416.1 214.9 L418.1 215 L420.1 215 L422.1 215 L424.1 215.1 L426.1 215.9 L428.1 217.7 L430.1 220.3 L432.1 223 L434.1 225.3 L436.1 227.3 L438.1 229 L440.1 230.6 L442.1 232.3 L444.1 233.9 L446.1 235.6 L448.1 237.3 L450.1 238.9 L452.1 240.7 L454.1 242.5 L456.1 244.4 L458.1 246.5 L460.1 248.5 L462.1 250.7 L464.1 253.2 L466.1 256 L468.1 258.7 L470.1 261.2 L472.1 263.1 L474.1 264.7 L476.1 266.2 L478.1 267.6 L480.1 269 L482.1 270.3 L484.1 271.5 L486.1 272.6 L488.1 274 L490.1 275.9 L492.1 278.4 L494.1 281.3 L496.1 284.3 L498.1 287.3 L500.1 290.2 L502.1 293 L504.1 295.5 L506.1 297.7 L508.1 299.6 L510.1 301.3 L512.1 302.7 L514.1 303.9 L516.1 305.3 L518.1 307.1 L520.1 309.6 L522.1 312.4 L524.1 314.8 L526.1 316.4 L528.1 317.2 L530.1 317.8 L532.1 318.2 L534.1 318.4 L536.1 318.3 L538.1 318.2 L540.1 318.1 L542.1 318.3 L544.1 319.2 L546.1 320.6 L548.1 322.2 L550.1 323.7 L552.1 324.8 L554.1 324.9 L556.1 324.3 L558.1 323.5 L560.1 322.7 L562.1 322.1 L564.1 321.6 L566.1 321.1 L568.1 320.5 L570.1 319.8 L572.1 318.9 L574.1 317.9 L576.1 316.9 L578.1 315.9 L580.1 315.1 L582.1 314.3 L584.1 313.6 L586.1 313.1 L588.1 313.1 L590.1 313.2 L592.1 313.4 L594.1 313.5 L596.1 313.6 L598.1 313.6 L600.1 313.5 L602.1 313.5 L604.1 313.4 L606.1 313.3 L608.1 313.2 L610.1 313.1 L612.1 313 L614.1 312.8 L616.1 312.7 L618.1 312.6 L620.1 312.4 L622.1 312.3 L624.1 312 L626.1 311.5 L628.1 310.7 L630.1 309.8 L632.1 309 L634.1 308.4 L636.1 307.8 L638.1 307.2 L640.1 306.6 L642.1 306 L644.1 305.4 L646.1 304.8 L648.1 304.1 L650.1 303.5 L652.1 302.9 L654.1 302.3 L656.1 301.7 L658.1 301.1 L660.1 300.5 L662.1 299.8 L664.1 298.8 L666.1 297.7 L668.1 296.4 L670.1 295 L672.1 293.7 L674.1 292.4 L676.1 291 L678.1 289.7 L680.1 288.4 L682.1 287.2 L684.1 286.4 L686.1 285.9 L688.1 285.5 L690.1 285.2 L692.1 284.8 L694.1 284.3 L696.1 283.8 L698.1 283.3 L700.1 282.7 L702.1 282.1 L704.1 281.3 L706.1 280.2 L708.1 278.9 L710.1 277.5 L712.1 276 L714.1 274.6 L716.1 273.3 L718.1 272.3 L720.1 271.4 L722.1 270.5 L724.1 269.6 L726.1 268.8 L728.1 268 L730.1 267.3 L732.1 266.7 L734.1 266 L736.1 265.5 L738.1 265.2 L740.1 265.4 L742.1 266.1 L744.1 267.7 L746.1 270.7 L748.1 274.7 L750.1 278.8 L752.1 282.6 L754.1 286.2 L756.1 289.4 L758.1 292.2 L760.1 294.7 L762.1 297 L764.1 299.2 L766.1 301.3 L768.1 303.4 L770.1 305.3 L772.1 307.1 L774.1 308.5 L776.1 309.7 L778.1 310.7 L780.1 311.7 L782.1 312.6 L784.1 313.5 L786.1 314.4 L788.1 315.2 L790.1 316 L792.1 316.7 L794.1 317.5 L796.1 318.2 L798.1 318.9 L800.1 319.5 L802.1 320 L804.1 320.1 L806.1 319.9 L808.1 319.6 L810.1 319 L812.1 318.2 L814.1 317.2 L816.1 316.2 L818.1 315.3 L820.1 314.5 L822.1 313.9 L824.1 313.3 L826.1 312.8 L828.1 312.3 L830.1 311.9 L832.1 311.5 L834.1 311.2 L836.1 310.9 L838.1 310.6 L840.1 310.5 L842.1 310.4 L844.1 310.4 L846.1 310.5 L848.1 310.8 L850.1 311.5 L852.1 312.5 L854.1 313.5 L856.1 314.4 L858.1 315.3 L860.1 315.8 L862.1 316.2 L864.1 316.5 L866.1 316.8 L868.1 316.9 L870.1 316.8 L872.1 316.6 L874.1 316.3 L876.1 315.8 L878.1 315 L880.1 313.6 L882.1 311.7 L884.1 309.7 L886.1 307.9 L888.1 306.4 L890.1 305.1 L892.1 304 L894.1 302.9 L896.1 302.1 L898.1 301.5 L900.1 301 L902.1 300.5 L904.1 300.3 L906.1 300.5 L908.1 301.1 L910.1 301.9 L912.1 302.7 L914.1 303.6 L916.1 304.6 L918.1 305.6 L920.1 306.5 L922.1 307.1 L924.1 307.5 L926.1 307.7 L928.1 307.9 L930.1 308.1 L932.1 308.1 L934.1 307.9 L936.1 307.3 L938.1 306.7 L940.1 306.1 L942.1 305.7 L944.1 305.4 L946.1 305.3 L948.1 305.1 L950.1 305.1 L952.1 305.1 L954.1 305.1 L956.1 305.1 L958.1 305.2 L960.1 305.2 L962.1 305.2 L964.1 305.3 L966.1 305.4 L968.1 305.5 L970.1 305.8 L972.1 306 L974.1 306.3 L976.1 306.5 L978.1 306.7 L980.1 307 L982.1 307.2 L984.1 307.3 L986.1 307.5 L988.1 307.6 L990.1 307.7 L992.1 307.7 L994.1 307.7 L996.1 307.7 L998.1 307.6 L1000.1 307.6 L1002.1 307.5 L1004.1 307.4 L1006.1 307.3 L1008.1 307.3 L1010.1 307.2 L1012.1 307.1 L1014.1 307 L1016.1 306.8 L1018.1 306.7 L1020.1 306.6 L1022.1 306.5 L1024.1 306.3 L1026.1 306.1 L1028.1 305.7 L1030.1 305.4 L1032.1 305.1 L1034.1 304.8 L1036.1 304.6 L1038.1 304.6 L1040.1 304.8 L1042.1 305 L1044.1 305.1 L1046.1 305.4 L1048.1 305.7 L1050.1 306.4 L1052.1 307.5 L1054.1 308.8 L1056.1 310.3 L1058.1 312.1 L1060.1 314.1 L1062.1 315.8 L1064.1 317.3 L1066.1 318.6 L1068.1 319.8 L1070.1 320.8 L1072.1 321.6 L1074.1 322.1 L1076.1 322.5 L1078.1 322.8 L1080.1 322.9 L1082.1 322.9 L1084.1 322.8 L1086.1 322.7 L1088.1 322.4 L1090.1 321.8 L1092.1 320.9 L1094.1 320 L1096.1 319.2 L1098.1 318.4 L1100.1 317.6 L1102.1 317 L1104.1 316.3 L1106.1 315.8 L1108.1 315.4 L1110.1 315 L1112.1 314.7 L1114.1 314.3 L1116.1 314.1 L1118.1 314.1 L1120.1 314.1 L1122.1 314.2 L1124.1 314.4 L1126.1 314.5 L1128.1 314.6 L1130.1 314.6 L1132.1 314.6 L1134.1 314.5 L1136.1 314.4 L1138.1 314.3 L1140.1 314.2 L1142.1 314.1 L1144.1 314 L1146.1 313.9 L1148.1 313.9 L1150.1 313.9 L1152.1 313.9 L1154.1 313.9 L1156.1 313.9 L1158.1 313.9 L1160.1 314 L1162.1 314 L1164.1 314.1 L1166.1 314.2 L1168.1 314.3 L1170.1 314.4 L1172.1 314.5 L1174.1 314.6 L1176.1 314.7 L1178.1 314.7 L1180.1 314.7 L1182.1 314.7 L1184.1 314.7 L1186.1 314.7 L1188.1 314.7 L1190.1 314.7 L1192.1 314.7 L1194.1 314.7 L1196.1 314.7 L1198.1 314.7 L1200.1 314.7 L1202.1 314.7 L1204.1 314.7 L1206.1 314.7 L1208.1 314.9 L1210.1 315.3 L1212.1 316.1 L1214.1 317.1 L1216.1 318 L1218.1 318.9 L1220.1 319.6 L1222.1 320.2 L1224.1 320.8 L1226.1 321.2 L1228.1 321.3 L1230.1 321.2 L1232.1 321.2 L1234.1 321.1 L1236.1 320.9 L1238.1 320.7 L1240.1 320.4 L1242.1 320.2 L1244.1 319.9 L1246.1 319.6 L1248.1 319.4 L1250.1 319.2 L1252.1 319 L1254.1 318.8 L1256.1 318.7 L1258.1 318.5 L1260.1 318.4 L1262.1 318.3 L1264.1 318.2 L1266.1 318.2 L1268.1 318.1 L1270.1 318 L1272.1 317.8 L1274.1 317.5 L1276.1 317.3 L1278.1 317 L1280.1 316.7 L1282.1 316.4 L1284.1 316 L1286.1 315.7 L1288.1 315.3 L1290.1 314.8 L1292.1 314.3 L1294.1 313.6 L1294.9 313" fill="none" stroke="#ff00ff" stroke-width="1.9" stroke-linejoin="round" stroke-linecap="round"/>
<path d="M4.1 268.4 L6.1 270.6 L8.1 272.8 L10.1 274.8 L12.1 276.5 L14.1 278 L16.1 279.3 L18.1 280.5 L20.1 281.8 L22.1 283.1 L24.1 284.4 L26.1 285.7 L28.1 287 L30.1 288.3 L32.1 289.6 L34.1 290.7 L36.1 291.7 L38.1 292.6 L40.1 293.4 L42.1 294.2 L44.1 295 L46.1 295.7 L48.1 296.3 L50.1 296.7 L52.1 296.8 L54.1 296.8 L56.1 296.9 L58.1 296.9 L60.1 297 L62.1 297 L64.1 297 L66.1 297 L68.1 297 L70.1 297 L72.1 297 L74.1 297 L76.1 297 L78.1 297 L80.1 297 L82.1 297.3 L84.1 298 L86.1 299.1 L88.1 300.4 L90.1 301.7 L92.1 303.1 L94.1 304.4 L96.1 305.9 L98.1 307.4 L100.1 308.9 L102.1 310.4 L104.1 311.7 L106.1 312.7 L108.1 313.4 L110.1 314 L112.1 314.6 L114.1 315.1 L116.1 315.7 L118.1 316.2 L120.1 316.8 L122.1 317.3 L124.1 317.9 L126.1 318.4 L128.1 319 L130.1 319.6 L132.1 320.1 L134.1 320.7 L136.1 321.2 L138.1 321.8 L140.1 322.4 L142.1 323 L144.1 323.8 L146.1 324.8 L148.1 325.7 L150.1 326.3 L152.1 326.5 L154.1 326.3 L156.1 325.9 L158.1 325.4 L160.1 325 L162.1 324.6 L164.1 324.1 L166.1 323.6 L168.1 323.1 L170.1 322.6 L172.1 322.1 L174.1 321.5 L176.1 320.8 L178.1 320.1 L180.1 319.3 L182.1 318.5 L184.1 317.9 L186.1 317.7 L188.1 318.1 L190.1 318.5 L192.1 318.3 L194.1 317.6 L196.1 316.7 L198.1 315.8 L200.1 314.9 L202.1 314 L204.1 313.1 L206.1 312.3 L208.1 311.7 L210.1 311.1 L212.1 310.6 L214.1 310.1 L216.1 309.6 L218.1 309.1 L220.1 308.6 L222.1 308.1 L224.1 307.7 L226.1 307.3 L228.1 307 L230.1 306.6 L232.1 306.3 L234.1 306 L236.1 305.7 L238.1 305.6 L240.1 305.8 L242.1 306.2 L244.1 306.6 L246.1 307 L248.1 307.5 L250.1 308 L252.1 308.6 L254.1 309.2 L256.1 309.8 L258.1 310.5 L260.1 311.1 L262.1 311.7 L264.1 312.3 L266.1 312.9 L268.1 313.5 L270.1 314.1 L272.1 314.7 L274.1 315.3 L276.1 315.8 L278.1 316.2 L280.1 316.5 L282.1 316.7 L284.1 317 L286.1 317.2 L288.1 317.4 L290.1 317.2 L292.1 316.7 L294.1 316 L296.1 315.3 L298.1 314.6 L300.1 313.8 L302.1 312.9 L304.1 311.6 L306.1 310.1 L308.1 308.4 L310.1 306.8 L312.1 305 L314.1 303.1 L316.1 301.2 L318.1 299.2 L320.1 297.2 L322.1 295.2 L324.1 293.3 L326.1 291.4 L328.1 289.6 L330.1 287.7 L332.1 285.9 L334.1 284.2 L336.1 282.9 L338.1 281.7 L340.1 280.6 L342.1 279.5 L344.1 278.4 L346.1 277.3 L348.1 276.2 L350.1 275 L352.1 273.7 L354.1 272.4 L356.1 271 L358.1 269.5 L360.1 268 L362.1 266.3 L364.1 264.1 L366.1 261.6 L368.1 259 L370.1 256.4 L372.1 253.9 L374.1 251.7 L376.1 249.7 L378.1 247.9 L380.1 246 L382.1 244.1 L384.1 242.3 L386.1 240.7 L388.1 239.4 L390.1 238.2 L392.1 237 L394.1 235.8 L396.1 234.7 L398.1 233.6 L400.1 232.6 L402.1 231.7 L404.1 230.8 L406.1 230 L408.1 229.1 L410.1 228.3 L412.1 227.5 L414.1 226.8 L416.1 226.1 L418.1 225.5 L420.1 225.1 L422.1 224.9 L424.1 224.9 L426.1 225 L428.1 225.2 L430.1 225.9 L432.1 226.8 L434.1 227.8 L436.1 228.7 L438.1 229.5 L440.1 230.2 L442.1 230.8 L444.1 231.5 L446.1 232.2 L448.1 233 L450.1 233.8 L452.1 234.7 L454.1 235.6 L456.1 236.4 L458.1 237.4 L460.1 238.7 L462.1 240.4 L464.1 242.4 L466.1 244.2 L468.1 245.8 L470.1 247.1 L472.1 248.3 L474.1 249.5 L476.1 250.8 L478.1 252 L480.1 253.4 L482.1 254.8 L484.1 256.3 L486.1 257.9 L488.1 259.4 L490.1 261 L492.1 262.8 L494.1 264.5 L496.1 266.4 L498.1 268.3 L500.1 270.6 L502.1 272.9 L504.1 275.3 L506.1 277.4 L508.1 279.1 L510.1 280.5 L512.1 281.9 L514.1 283.3 L516.1 285 L518.1 287.1 L520.1 289.4 L522.1 291.7 L524.1 293.6 L526.1 295.1 L528.1 296.5 L530.1 297.8 L532.1 299 L534.1 300 L536.1 300.9 L538.1 301.8 L540.1 302.6 L542.1 303.6 L544.1 304.7 L546.1 305.9 L548.1 307.3 L550.1 308.6 L552.1 309.7 L554.1 310.5 L556.1 310.9 L558.1 311.3 L560.1 311.6 L562.1 311.9 L564.1 312.2 L566.1 312.4 L568.1 312.6 L570.1 312.9 L572.1 313 L574.1 313 L576.1 312.8 L578.1 312.5 L580.1 312.3 L582.1 312.2 L584.1 312.2 L586.1 312.3 L588.1 312.4 L590.1 312.6 L592.1 312.7 L594.1 312.7 L596.1 312.6 L598.1 312.5 L600.1 312.4 L602.1 312.3 L604.1 312.2 L606.1 312.1 L608.1 312 L610.1 311.9 L612.1 311.7 L614.1 311.5 L616.1 311.3 L618.1 311.1 L620.1 310.9 L622.1 310.8 L624.1 310.7 L626.1 311 L628.1 311.8 L630.1 312.3 L632.1 312.3 L634.1 311.8 L636.1 311.2 L638.1 310.6 L640.1 310 L642.1 309.4 L644.1 308.8 L646.1 308.2 L648.1 307.7 L650.1 307.3 L652.1 306.9 L654.1 306.5 L656.1 306.1 L658.1 305.6 L660.1 305.2 L662.1 304.7 L664.1 304 L666.1 303.1 L668.1 302.2 L670.1 301.2 L672.1 300.2 L674.1 299.2 L676.1 298.2 L678.1 297.2 L680.1 296.2 L682.1 295.2 L684.1 294.2 L686.1 293.4 L688.1 292.9 L690.1 292.6 L692.1 292.4 L694.1 292.1 L696.1 291.9 L698.1 291.7 L700.1 291.3 L702.1 290.7 L704.1 289.7 L706.1 288.6 L708.1 287.5 L710.1 286.4 L712.1 285.3 L714.1 284.3 L716.1 283.4 L718.1 282.5 L720.1 281.6 L722.1 280.8 L724.1 279.9 L726.1 279.1 L728.1 278.2 L730.1 277.3 L732.1 276.5 L734.1 275.6 L736.1 275 L738.1 274.6 L740.1 274.3 L742.1 274.2 L744.1 274.6 L746.1 275.6 L748.1 277.2 L750.1 278.9 L752.1 280.6 L754.1 282.2 L756.1 283.6 L758.1 284.9 L760.1 286.2 L762.1 287.6 L764.1 289.2 L766.1 290.8 L768.1 292.4 L770.1 294.1 L772.1 295.6 L774.1 296.9 L776.1 298 L778.1 299 L780.1 300 L782.1 301 L784.1 302 L786.1 303 L788.1 304 L790.1 305 L792.1 305.9 L794.1 306.7 L796.1 307.4 L798.1 308.1 L800.1 308.8 L802.1 309.3 L804.1 309.8 L806.1 310.2 L808.1 310.5 L810.1 310.9 L812.1 311.1 L814.1 311.1 L816.1 311.1 L818.1 310.9 L820.1 310.8 L822.1 310.7 L824.1 310.5 L826.1 310.4 L828.1 310.3 L830.1 310.1 L832.1 310 L834.1 309.9 L836.1 309.8 L838.1 309.7 L840.1 309.7 L842.1 309.9 L844.1 310 L846.1 310.3 L848.1 310.9 L850.1 311.7 L852.1 312.5 L854.1 312.9 L856.1 313.2 L858.1 313.6 L860.1 313.8 L862.1 313.9 L864.1 313.9 L866.1 313.9 L868.1 313.8 L870.1 313.7 L872.1 313.6 L874.1 313.4 L876.1 313.2 L878.1 312.8 L880.1 312.4 L882.1 311.8 L884.1 311.1 L886.1 310.5 L888.1 309.9 L890.1 309.4 L892.1 309 L894.1 308.5 L896.1 308.1 L898.1 307.7 L900.1 307.2 L902.1 306.8 L904.1 306.4 L906.1 306.1 L908.1 305.9 L910.1 306.1 L912.1 306.4 L914.1 306.8 L916.1 307.1 L918.1 307.4 L920.1 307.5 L922.1 307.6 L924.1 307.8 L926.1 307.9 L928.1 307.9 L930.1 307.9 L932.1 307.8 L934.1 307.6 L936.1 307.5 L938.1 307.4 L940.1 307.2 L942.1 307 L944.1 306.7 L946.1 306.5 L948.1 306.2 L950.1 306.1 L952.1 305.9 L954.1 305.9 L956.1 305.8 L958.1 305.8 L960.1 305.7 L962.1 305.7 L964.1 305.7 L966.1 305.7 L968.1 305.8 L970.1 306 L972.1 306.2 L974.1 306.4 L976.1 306.6 L978.1 306.8 L980.1 307 L982.1 307.2 L984.1 307.3 L986.1 307.3 L988.1 307.3 L990.1 307.3 L992.1 307.3 L994.1 307.3 L996.1 307.3 L998.1 307.3 L1000.1 307.3 L1002.1 307.3 L1004.1 307.3 L1006.1 307.3 L1008.1 307.3 L1010.1 307.3 L1012.1 307.3 L1014.1 307.3 L1016.1 307.2 L1018.1 307.1 L1020.1 307 L1022.1 306.8 L1024.1 306.7 L1026.1 306.5 L1028.1 306.4 L1030.1 306.2 L1032.1 306.1 L1034.1 306.1 L1036.1 306.1 L1038.1 306.1 L1040.1 306.2 L1042.1 306.2 L1044.1 306.3 L1046.1 306.3 L1048.1 306.5 L1050.1 306.7 L1052.1 307.1 L1054.1 307.6 L1056.1 308.3 L1058.1 309 L1060.1 309.8 L1062.1 310.7 L1064.1 311.5 L1066.1 312.3 L1068.1 313.1 L1070.1 313.8 L1072.1 314.5 L1074.1 315.1 L1076.1 315.6 L1078.1 316.2 L1080.1 316.7 L1082.1 317.1 L1084.1 317.4 L1086.1 317.6 L1088.1 317.7 L1090.1 317.8 L1092.1 317.8 L1094.1 317.6 L1096.1 317.4 L1098.1 317.1 L1100.1 316.8 L1102.1 316.5 L1104.1 316.3 L1106.1 316 L1108.1 315.8 L1110.1 315.5 L1112.1 315.2 L1114.1 315 L1116.1 314.8 L1118.1 314.7 L1120.1 314.6 L1122.1 314.6 L1124.1 314.5 L1126.1 314.5 L1128.1 314.4 L1130.1 314.4 L1132.1 314.5 L1134.1 314.5 L1136.1 314.5 L1138.1 314.6 L1140.1 314.6 L1142.1 314.7 L1144.1 314.7 L1146.1 314.7 L1148.1 314.7 L1150.1 314.7 L1152.1 314.7 L1154.1 314.7 L1156.1 314.7 L1158.1 314.7 L1160.1 314.7 L1162.1 314.7 L1164.1 314.7 L1166.1 314.7 L1168.1 314.7 L1170.1 314.7 L1172.1 314.7 L1174.1 314.7 L1176.1 314.7 L1178.1 314.7 L1180.1 314.7 L1182.1 314.7 L1184.1 314.7 L1186.1 314.7 L1188.1 314.7 L1190.1 314.7 L1192.1 314.7 L1194.1 314.7 L1196.1 314.6 L1198.1 314.6 L1200.1 314.6 L1202.1 314.5 L1204.1 314.5 L1206.1 314.5 L1208.1 314.5 L1210.1 314.6 L1212.1 314.9 L1214.1 315.3 L1216.1 315.6 L1218.1 315.9 L1220.1 316.3 L1222.1 316.6 L1224.1 316.9 L1226.1 317.1 L1228.1 317.3 L1230.1 317.4 L1232.1 317.5 L1234.1 317.6 L1236.1 317.7 L1238.1 317.8 L1240.1 317.9 L1242.1 317.9 L1244.1 318 L1246.1 318 L1248.1 318 L1250.1 318 L1252.1 318 L1254.1 318 L1256.1 318 L1258.1 318 L1260.1 317.9 L1262.1 317.9 L1264.1 317.8 L1266.1 317.7 L1268.1 317.6 L1270.1 317.5 L1272.1 317.4 L1274.1 317.3 L1276.1 317.2 L1278.1 317.1 L1280.1 316.9 L1282.1 316.8 L1284.1 316.7 L1286.1 316.6 L1288.1 316.4 L1290.1 316.1 L1292.1 315.8 L1294.1 315.5 L1294.9 315.2" fill="none" stroke="#ff0000" stroke-width="2.0" stroke-linejoin="round" stroke-linecap="round"/>
<line x1="176.6" y1="121.9" x2="229.4" y2="121.9" stroke="#cc2f8f" stroke-width="1.1" />
<line x1="176.6" y1="154.9" x2="229.4" y2="154.9" stroke="#9c27d8" stroke-width="1.1" />
<line x1="176.6" y1="208.3" x2="229.4" y2="208.3" stroke="#cf3038" stroke-width="1.1" />
<line x1="176.6" y1="261.7" x2="229.4" y2="261.7" stroke="#3b3bc4" stroke-width="1.1" />
<line x1="176.6" y1="294.7" x2="229.4" y2="294.7" stroke="#9a9a9a" stroke-width="1.1" />
<line x1="176.6" y1="348.1" x2="229.4" y2="348.1" stroke="#9a9a9a" stroke-width="1.1" />
<line x1="690.6" y1="282.5" x2="832.8" y2="282.5" stroke="#c8403c" stroke-width="1.1" />
<line x1="690.6" y1="295.5" x2="832.8" y2="295.5" stroke="#95b52c" stroke-width="1.1" />
<line x1="690.6" y1="305.5" x2="832.8" y2="305.5" stroke="#49b04a" stroke-width="1.1" />
<line x1="690.6" y1="315.4" x2="832.8" y2="315.4" stroke="#36b58c" stroke-width="1.1" />
<line x1="690.6" y1="330.4" x2="832.8" y2="330.4" stroke="#2f8fd0" stroke-width="1.1" />
<line x1="886.5" y1="289.5" x2="1053.3" y2="302.8" stroke="#2222dd" stroke-width="1.3" />
<line x1="866.6" y1="332.2" x2="1052.8" y2="305.6" stroke="#2222dd" stroke-width="1.3" />
<line x1="612.2" y1="286.6" x2="675.7" y2="295.1" stroke="#2222dd" stroke-width="1.2" />
<ellipse cx="666.3" cy="292.8" rx="4.8" ry="4.8" fill="#b7a673" fill-opacity="0.85" stroke="#c03cc0" stroke-width="0.8"/>
<text x="172.5" y="126.2" font-size="12" fill="#cc2f8f" text-anchor="end" font-weight="normal" textLength="95" lengthAdjust="spacingAndGlyphs" >4.236(9734.12)</text>
<text x="172.5" y="159.2" font-size="12" fill="#9c3ad6" text-anchor="end" font-weight="normal" textLength="95" lengthAdjust="spacingAndGlyphs" >3.618(9165.10)</text>
<text x="172.5" y="212.6" font-size="12" fill="#cf3a40" text-anchor="end" font-weight="normal" textLength="95" lengthAdjust="spacingAndGlyphs" >2.618(8244.36)</text>
<text x="172.5" y="266" font-size="12" fill="#4548cc" text-anchor="end" font-weight="normal" textLength="95" lengthAdjust="spacingAndGlyphs" >1.618(7323.62)</text>
<text x="172.5" y="299" font-size="12" fill="#9a9a9a" text-anchor="end" font-weight="normal" textLength="68" lengthAdjust="spacingAndGlyphs" >1(6754.60)</text>
<text x="172.5" y="352.4" font-size="12" fill="#9a9a9a" text-anchor="end" font-weight="normal" textLength="68" lengthAdjust="spacingAndGlyphs" >0(5833.86)</text>
<text x="686" y="286.8" font-size="12" fill="#c8504c" text-anchor="end" font-weight="normal" textLength="94" lengthAdjust="spacingAndGlyphs" >0.236(6965.43)</text>
<text x="686" y="299.8" font-size="12" fill="#a4c83c" text-anchor="end" font-weight="normal" textLength="94" lengthAdjust="spacingAndGlyphs" >0.382(6744.60)</text>
<text x="686" y="309.8" font-size="12" fill="#52b552" text-anchor="end" font-weight="normal" textLength="79" lengthAdjust="spacingAndGlyphs" >0.5(6565.93)</text>
<text x="686" y="319.7" font-size="12" fill="#40b890" text-anchor="end" font-weight="normal" textLength="94" lengthAdjust="spacingAndGlyphs" >0.618(6387.36)</text>
<text x="686" y="334.7" font-size="12" fill="#3a8fd0" text-anchor="end" font-weight="normal" textLength="94" lengthAdjust="spacingAndGlyphs" >0.786(6133.13)</text>
<text x="11" y="345.7" font-size="13" fill="#1ea5b0" text-anchor="middle" font-weight="normal" >3</text>
<text x="75" y="277.7" font-size="13" fill="#1ea5b0" text-anchor="middle" font-weight="normal" >4</text>
<text x="106" y="372" font-size="13" fill="#1ea5b0" text-anchor="middle" font-weight="normal" >5</text>
<text x="142" y="367.7" font-size="13" fill="#1ea5b0" text-anchor="middle" font-weight="normal" >5</text>
<text x="388" y="250.7" font-size="13" fill="#1ea5b0" text-anchor="middle" font-weight="normal" >A</text>
<text x="415.2" y="194.2" font-size="13" fill="#1ea5b0" text-anchor="middle" font-weight="normal" >B</text>
<text x="480" y="303.7" font-size="13" fill="#1ea5b0" text-anchor="middle" font-weight="normal" >1</text>
<text x="491" y="263.7" font-size="13" fill="#1ea5b0" text-anchor="middle" font-weight="normal" >2</text>
<text x="499" y="349.7" font-size="13" fill="#1ea5b0" text-anchor="middle" font-weight="normal" >3</text>
<text x="512" y="295.7" font-size="13" fill="#1ea5b0" text-anchor="middle" font-weight="normal" >4</text>
<text x="519" y="351.7" font-size="13" fill="#1ea5b0" text-anchor="middle" font-weight="normal" >5</text>
<text x="548" y="365.7" font-size="13" fill="#1ea5b0" text-anchor="middle" font-weight="normal" >C</text>
<text x="619" y="277.7" font-size="13" fill="#1ea5b0" text-anchor="middle" font-weight="normal" >1</text>
<text x="623" y="342.7" font-size="13" fill="#1ea5b0" text-anchor="middle" font-weight="normal" >2</text>
<text x="677" y="260.7" font-size="13" fill="#1ea5b0" text-anchor="middle" font-weight="normal" >3</text>
<text x="693" y="312.7" font-size="13" fill="#1ea5b0" text-anchor="middle" font-weight="normal" >4</text>
<text x="738" y="247.7" font-size="13" fill="#1ea5b0" text-anchor="middle" font-weight="normal" >5</text>
<text x="773" y="353.7" font-size="13" fill="#1ea5b0" text-anchor="middle" font-weight="normal" >A</text>
<text x="884" y="275.7" font-size="13" fill="#1ea5b0" text-anchor="middle" font-weight="normal" >B</text>
<text x="1054" y="350.7" font-size="13" fill="#1ea5b0" text-anchor="middle" font-weight="normal" >C</text>
<text x="367.3" y="174.5" font-size="18" fill="#1ea5b0" text-anchor="middle" font-weight="bold" >i</text>
<text x="548" y="378.8" font-size="16" fill="#1ea5b0" text-anchor="middle" font-weight="bold" >ii</text>
<text x="110" y="310.3" font-size="12" fill="#ad33c2" text-anchor="middle" font-weight="normal" >(1)</text>
<text x="151" y="377.3" font-size="12" fill="#ad33c2" text-anchor="middle" font-weight="normal" >(2)</text>
<text x="221" y="280.3" font-size="12" fill="#ad33c2" text-anchor="middle" font-weight="normal" >(3)</text>
<text x="264" y="354.3" font-size="12" fill="#ad33c2" text-anchor="middle" font-weight="normal" >(4)</text>
<text x="369" y="186.3" font-size="12" fill="#ad33c2" text-anchor="middle" font-weight="normal" >(5)</text>
<text x="429" y="273.6" font-size="12" fill="#ad33c2" text-anchor="middle" font-weight="normal" >(1)</text>
<text x="447" y="216.3" font-size="12" fill="#ad33c2" text-anchor="middle" font-weight="normal" >(2)</text>
<text x="519" y="361.3" font-size="12" fill="#ad33c2" text-anchor="middle" font-weight="normal" >(3)</text>
<text x="542.3" y="298.7" font-size="12" fill="#ad33c2" text-anchor="middle" font-weight="normal" >(4)</text>
<text x="548" y="359.3" font-size="12" fill="#ad33c2" text-anchor="middle" font-weight="normal" >(5)</text>
<circle cx="105" cy="380.5" r="7.8" fill="none" stroke="#c818c8" stroke-width="1"/>
<text x="105" y="384.5" font-size="11" fill="#c818c8" text-anchor="middle" font-weight="normal" >5</text>
<text x="105.3" y="400.9" font-size="15" fill="#1ea5b0" text-anchor="middle" font-weight="bold" >v</text>
<text x="105.7" y="412.2" font-size="19" fill="#c818c8" text-anchor="middle" font-weight="normal" >(5)</text>
<text x="106" y="426.8" font-size="16" fill="#1ea5b0" text-anchor="middle" font-weight="bold" >(v)</text>
<text x="106.4" y="443.6" font-size="21" fill="#b31515" text-anchor="middle" font-weight="normal" >(C)</text>
<circle cx="106.4" cy="458" r="16" fill="none" stroke="#b31515" stroke-width="1.2"/>
<text x="106.4" y="468.2" font-size="27" fill="#b31515" text-anchor="middle" font-weight="normal" >2</text>
<circle cx="735" cy="234" r="8" fill="none" stroke="#b82cc8" stroke-width="1"/>
<text x="735" y="238.3" font-size="12" fill="#b82cc8" text-anchor="middle" font-weight="normal" >1</text>
<circle cx="1054.5" cy="362" r="8" fill="none" stroke="#b82cc8" stroke-width="1"/>
<text x="1054.5" y="366.3" font-size="12" fill="#b82cc8" text-anchor="middle" font-weight="normal" >2</text>
</g>
<g clip-path="url(#cp2)">
<path d="M4.8 587.5V635.3M45.7 587.5V588.8M47.1 587.5V589.6M48.6 587.5V590.7M50.1 587.5V591.6M85.1 587.5V591.5M86.6 587.5V601.2M88 587.5V610M89.5 587.5V618.7M91 587.5V625.7M92.4 587.5V629.4M93.9 587.5V633M95.3 587.5V635.5M96.8 587.5V638.1M98.3 587.5V639.8M99.7 587.5V641.2M101.2 587.5V642.7M102.6 587.5V643.4M104.1 587.5V644.1M136.2 587.5V589.7M137.7 587.5V593.3M139.1 587.5V597.2M140.6 587.5V600.9M142.1 587.5V604.5M143.5 587.5V607M145 587.5V608.5M146.4 587.5V609.6M147.9 587.5V609.6M149.4 587.5V609.6M201.9 587.5V589.2M203.4 587.5V591.4M204.8 587.5V592.5M206.3 587.5V593.7M207.8 587.5V594.6M215.1 587.5V591.8M216.5 587.5V592.5M218 587.5V593.4M219.4 587.5V594.5M244.3 587.5V593.8M245.7 587.5V601.9M247.2 587.5V609.2M248.7 587.5V615.3M250.1 587.5V618.3M251.6 587.5V621.2M253 587.5V621.7M254.5 587.5V622.2M256 587.5V622.6M257.4 587.5V623.1M258.9 587.5V623.5M260.3 587.5V624M261.8 587.5V624.4M263.3 587.5V624.7M337.7 587.5V591M339.2 587.5V596.9M340.6 587.5V598.6M342.1 587.5V600.4M343.6 587.5V601.6M345 587.5V602.3M346.5 587.5V603.1M347.9 587.5V603.6M390.3 587.5V589M391.8 587.5V607M393.2 587.5V608.8M394.7 587.5V609.5M428.3 587.5V592.2M429.7 587.5V601.2M431.2 587.5V610M432.6 587.5V618.4M434.1 587.5V623.7M435.6 587.5V628.9M437 587.5V633.6M438.5 587.5V636.5M439.9 587.5V639.4M461.8 587.5V607M463.3 587.5V611.2M464.8 587.5V614.8M466.2 587.5V618.3M467.7 587.5V621.3M469.1 587.5V621.9M470.6 587.5V622.5M472.1 587.5V622.5M492.5 587.5V595.3M494 587.5V601.9M495.4 587.5V608.5M496.9 587.5V613.5M498.3 587.5V618.1M499.8 587.5V622.8M501.3 587.5V627.2M502.7 587.5V631.6M504.2 587.5V633.4M505.6 587.5V634.1M549.5 587.5V592.5M550.9 587.5V596.5M552.4 587.5V600.2M553.8 587.5V603M593.3 587.5V591.8M594.7 587.5V593.3M596.2 587.5V594.7M597.6 587.5V594.9M599.1 587.5V595.2M600.6 587.5V595.4M604.9 587.5V595.2M606.4 587.5V596.5M607.9 587.5V597.4M626.8 587.5V590.2M628.3 587.5V591.7M629.8 587.5V592.4M631.2 587.5V593.2M632.7 587.5V593.9M634.1 587.5V594.6M635.6 587.5V595.3M637.1 587.5V596M638.5 587.5V596.5M694 587.5V588.6M695.5 587.5V590.9M696.9 587.5V592.7M698.4 587.5V594.5M699.9 587.5V596.2M743.7 587.5V595.5M745.1 587.5V605.1M746.6 587.5V614.1M748 587.5V625.8M749.5 587.5V635.2M751 587.5V641M752.4 587.5V646.7M753.9 587.5V651.5M755.3 587.5V656.2M756.8 587.5V658.2M758.3 587.5V659.6M759.7 587.5V661.1M761.2 587.5V662.6M844.4 587.5V588.9M845.9 587.5V590M847.3 587.5V591.1M848.8 587.5V594.7M850.3 587.5V599.1M851.7 587.5V602.3M853.2 587.5V604.4M854.6 587.5V606.4M856.1 587.5V606.9M908.7 587.5V588.9M910.1 587.5V593.5M911.6 587.5V597M913 587.5V600.5M914.5 587.5V604M916 587.5V607.4M917.4 587.5V610.8M918.9 587.5V614.2M920.3 587.5V617.2M921.8 587.5V617.5M923.3 587.5V617.9M958.3 587.5V588.3M959.8 587.5V589.4M961.2 587.5V590.5M962.7 587.5V592M964.2 587.5V594.6M965.6 587.5V597.1M967.1 587.5V597.2M968.5 587.5V597.2M984.6 587.5V590.7M986.1 587.5V593M987.5 587.5V594.8M989 587.5V595.7M990.4 587.5V596M991.9 587.5V596.3M1053.2 587.5V589M1054.7 587.5V594M1056.1 587.5V599.8M1057.6 587.5V605M1059.1 587.5V609.4M1060.5 587.5V613.2M1062 587.5V614.7M1063.4 587.5V616.1M1064.9 587.5V617M1123.3 587.5V589.4M1124.8 587.5V591.7M1126.2 587.5V592.6M1127.7 587.5V593.5M1129.2 587.5V594M1130.6 587.5V594.3M1132.1 587.5V594.6M1216.8 587.5V590.4M1218.2 587.5V592.6M1219.7 587.5V594.4M1221.1 587.5V596.1M1222.6 587.5V596.8M1224.1 587.5V597.3M1225.5 587.5V597.7M1227 587.5V598" stroke="#ffb3ff" stroke-width="1.3" fill="none" stroke-opacity="0.9"/>
<path d="M6.3 587.5V633.6M7.7 587.5V631.8M9.2 587.5V628.5M10.6 587.5V624.1M12.1 587.5V620.1M13.6 587.5V616.6M15 587.5V613.2M16.5 587.5V609.8M17.9 587.5V604.2M19.4 587.5V598.3M20.9 587.5V592.6M51.5 587.5V591.4M53 587.5V589M105.6 587.5V643.9M107 587.5V636.3M108.5 587.5V627.6M109.9 587.5V618.6M111.4 587.5V608.8M112.9 587.5V598M114.3 587.5V588.4M150.8 587.5V605.3M152.3 587.5V596.3M153.7 587.5V590.3M209.2 587.5V594.2M210.7 587.5V593.8M212.1 587.5V592.8M213.6 587.5V591.7M220.9 587.5V593.9M264.7 587.5V621.6M266.2 587.5V617.8M267.6 587.5V612.7M269.1 587.5V607.7M270.6 587.5V604.2M272 587.5V600.7M273.5 587.5V597.5M274.9 587.5V595.6M276.4 587.5V593.6M277.9 587.5V591.7M279.3 587.5V589.9M280.8 587.5V588.3M349.4 587.5V601.8M350.9 587.5V600M352.3 587.5V596.7M353.8 587.5V593M396.1 587.5V609.2M397.6 587.5V608.9M399.1 587.5V607.1M400.5 587.5V603.1M402 587.5V599.1M403.4 587.5V595.3M404.9 587.5V591.5M406.4 587.5V588.2M441.4 587.5V638.4M442.9 587.5V637.3M444.3 587.5V635.9M445.8 587.5V634.4M447.2 587.5V633M448.7 587.5V631.3M450.2 587.5V629.6M451.6 587.5V627.9M453.1 587.5V625.1M454.5 587.5V620.9M456 587.5V616.8M457.5 587.5V612.6M458.9 587.5V607.1M460.4 587.5V603.4M473.5 587.5V621.4M475 587.5V620.2M476.4 587.5V619.3M477.9 587.5V618.7M479.4 587.5V618.1M480.8 587.5V617.7M482.3 587.5V617.5M483.7 587.5V617.2M485.2 587.5V613.7M486.7 587.5V609.1M488.1 587.5V602.3M489.6 587.5V594.6M491 587.5V589M507.1 587.5V633.6M508.6 587.5V631.4M510 587.5V629.1M511.5 587.5V626.1M512.9 587.5V623.2M514.4 587.5V620.3M515.9 587.5V617.4M517.3 587.5V615.5M518.8 587.5V614.3M520.3 587.5V613.1M521.7 587.5V611.9M523.2 587.5V611.1M524.6 587.5V610.2M526.1 587.5V607.9M527.6 587.5V603M529 587.5V599.4M530.5 587.5V596.5M531.9 587.5V593.8M533.4 587.5V591.7M534.9 587.5V589.5M555.3 587.5V600M556.8 587.5V595.4M558.2 587.5V592.4M602 587.5V595.3M603.5 587.5V594.9M609.3 587.5V594.7M610.8 587.5V591.1M640 587.5V593.3M641.4 587.5V590.1M701.3 587.5V594.7M702.8 587.5V593M704.2 587.5V591.2M705.7 587.5V588.9M762.6 587.5V659.8M764.1 587.5V656M765.6 587.5V650.7M767 587.5V644.8M768.5 587.5V638.2M769.9 587.5V631.8M771.4 587.5V625.9M772.9 587.5V620.1M774.3 587.5V615.9M775.8 587.5V611.9M777.2 587.5V607.4M778.7 587.5V602.7M780.2 587.5V598.3M781.6 587.5V594.7M783.1 587.5V591M857.6 587.5V606.7M859 587.5V606.4M860.5 587.5V604.9M861.9 587.5V603.1M863.4 587.5V601.4M864.9 587.5V599.2M866.3 587.5V597M867.8 587.5V594.6M869.2 587.5V592M870.7 587.5V589.4M924.7 587.5V616M926.2 587.5V613.6M927.6 587.5V609.7M929.1 587.5V606.4M930.6 587.5V603.4M932 587.5V600.3M933.5 587.5V596.7M934.9 587.5V593M936.4 587.5V588.2M970 587.5V596.9M971.5 587.5V595.1M972.9 587.5V593.3M974.4 587.5V588.9M993.4 587.5V595.2M994.8 587.5V593.7M996.3 587.5V592.1M997.7 587.5V590.3M999.2 587.5V588.6M1066.4 587.5V616.6M1067.8 587.5V616.2M1069.3 587.5V615M1070.7 587.5V613.8M1072.2 587.5V612.4M1073.7 587.5V610.2M1075.1 587.5V608.1M1076.6 587.5V605.2M1078 587.5V602.2M1079.5 587.5V598M1081 587.5V593.1M1082.4 587.5V588.3M1133.5 587.5V594.1M1135 587.5V593.4M1136.5 587.5V592.7M1137.9 587.5V592M1139.4 587.5V591.2M1140.8 587.5V590.4M1142.3 587.5V588.7M1228.4 587.5V597.9M1229.9 587.5V597.8M1231.4 587.5V597.8M1232.8 587.5V597.7M1234.3 587.5V596.2M1235.7 587.5V594.5M1237.2 587.5V592.9M1238.7 587.5V591.1M1240.1 587.5V589.2" stroke="#d42fd4" stroke-width="1.3" fill="none" stroke-opacity="0.9"/>
<path d="M23.8 587.5V583.8M25.2 587.5V578.5M26.7 587.5V573.4M54.4 587.5V584.1M55.9 587.5V580M57.4 587.5V576.2M58.8 587.5V573.6M60.3 587.5V571.1M61.7 587.5V570.2M63.2 587.5V569.6M69 587.5V570.2M70.5 587.5V569.5M72 587.5V569M73.4 587.5V568.5M115.8 587.5V580.4M117.2 587.5V574.9M118.7 587.5V570.5M120.2 587.5V568M121.6 587.5V565.4M123.1 587.5V564.6M124.5 587.5V564.5M155.2 587.5V582.7M156.7 587.5V575.5M158.1 587.5V569.6M159.6 587.5V564.5M161 587.5V559.7M162.5 587.5V556.4M164 587.5V553.1M165.4 587.5V551.8M166.9 587.5V551.2M168.3 587.5V550.6M193.2 587.5V576.5M222.4 587.5V586.1M223.8 587.5V583.4M225.3 587.5V579.7M226.8 587.5V576.1M228.2 587.5V574.4M229.7 587.5V572.6M231.1 587.5V572.2M282.2 587.5V586.1M283.7 587.5V583.4M285.2 587.5V580M286.6 587.5V576.3M288.1 587.5V574.1M289.5 587.5V573M291 587.5V572.1M292.5 587.5V571.8M293.9 587.5V571.6M295.4 587.5V569.2M296.8 587.5V564.4M298.3 587.5V560.3M299.8 587.5V556.5M301.2 587.5V552.7M302.7 587.5V551.3M304.1 587.5V550.1M305.6 587.5V548.6M307.1 587.5V542.4M308.5 587.5V536.2M310 587.5V529.2M311.4 587.5V521.9M312.9 587.5V517M314.4 587.5V514.6M315.8 587.5V512.1M356.7 587.5V578.1M358.2 587.5V571.6M359.6 587.5V565.7M361.1 587.5V560.2M362.5 587.5V555M364 587.5V549.7M365.5 587.5V544M366.9 587.5V538.2M368.4 587.5V532.4M369.8 587.5V528.1M371.3 587.5V524.2M372.8 587.5V520.3M407.8 587.5V585.6M409.3 587.5V582.9M410.7 587.5V577.8M412.2 587.5V572.7M413.7 587.5V569.2M415.1 587.5V566.5M537.8 587.5V583.7M539.2 587.5V578.2M540.7 587.5V575.1M542.2 587.5V573.1M561.1 587.5V585.8M562.6 587.5V584.2M564.1 587.5V581.3M565.5 587.5V578M567 587.5V574.4M568.4 587.5V570.3M569.9 587.5V566.7M571.4 587.5V564.2M572.8 587.5V561.7M574.3 587.5V560.2M613.7 587.5V584.8M615.2 587.5V582.7M616.6 587.5V580.4M618.1 587.5V578.1M619.5 587.5V576.4M642.9 587.5V586.3M644.4 587.5V580.7M645.8 587.5V575M647.3 587.5V569.2M648.7 587.5V564.6M650.2 587.5V563.9M651.7 587.5V563.2M670.7 587.5V576.6M672.1 587.5V575.1M673.6 587.5V571M675 587.5V566.3M676.5 587.5V563.4M678 587.5V560.4M679.4 587.5V558.7M680.9 587.5V557.5M707.2 587.5V585.6M708.6 587.5V580.6M710.1 587.5V577.2M711.5 587.5V574.6M713 587.5V571.6M714.5 587.5V568M715.9 587.5V564.6M717.4 587.5V563M718.8 587.5V561.3M720.3 587.5V560.3M786 587.5V586M787.5 587.5V584.4M788.9 587.5V582.6M790.4 587.5V580.8M791.8 587.5V579.6M793.3 587.5V579.2M794.8 587.5V579M810.8 587.5V586M812.3 587.5V581.6M813.8 587.5V578.7M815.2 587.5V575.8M816.7 587.5V573.2M818.1 587.5V570.7M819.6 587.5V569.2M821.1 587.5V568.2M822.5 587.5V567.2M824 587.5V566.6M872.2 587.5V586M873.6 587.5V580.9M875.1 587.5V577.2M876.5 587.5V573.6M878 587.5V569.5M879.5 587.5V565.4M880.9 587.5V561.4M882.4 587.5V558.5M883.8 587.5V555.6M885.3 587.5V553M886.8 587.5V551.8M888.2 587.5V550.6M889.7 587.5V550.3M937.9 587.5V582.9M939.3 587.5V576.4M940.8 587.5V569.7M942.2 587.5V567.7M943.7 587.5V565.6M945.2 587.5V565.3M1002.1 587.5V586.1M1003.6 587.5V584.8M1005 587.5V583.5M1006.5 587.5V582.1M1008 587.5V580.6M1009.4 587.5V579.4M1010.9 587.5V578.7M1012.3 587.5V578.3M1034.2 587.5V586.6M1035.7 587.5V586.1M1037.2 587.5V585.7M1038.6 587.5V585.4M1040.1 587.5V585M1041.5 587.5V584.9M1089.7 587.5V586.6M1091.2 587.5V583.6M1092.6 587.5V581.8M1094.1 587.5V580M1095.6 587.5V578.8M1097 587.5V577.8M1098.5 587.5V576.8M1099.9 587.5V576.5M1101.4 587.5V576.3M1102.9 587.5V576.2M1244.5 587.5V585.8M1246 587.5V583.3M1247.4 587.5V581.9M1248.9 587.5V580.4M1250.4 587.5V579.6M1251.8 587.5V579.4M1253.3 587.5V579.1M1254.7 587.5V579M1273.7 587.5V586.7M1275.2 587.5V586.6M1276.6 587.5V586.5M1278.1 587.5V586.3M1279.6 587.5V586.2M1281 587.5V586.1M1282.5 587.5V586M1283.9 587.5V585.9M1285.4 587.5V585.8M1286.9 587.5V585.7M1288.3 587.5V585.6M1289.8 587.5V585.2M1291.2 587.5V584M1292.7 587.5V582.8M1294.2 587.5V581.6" stroke="#00ffff" stroke-width="1.3" fill="none" stroke-opacity="0.9"/>
<path d="M28.2 587.5V573.6M29.6 587.5V573.8M31.1 587.5V574.2M32.5 587.5V574.5M34 587.5V575.5M35.5 587.5V577M36.9 587.5V579.1M38.4 587.5V581.2M39.8 587.5V583.6M41.3 587.5V586M64.7 587.5V569.9M66.1 587.5V570.7M67.6 587.5V571.1M74.9 587.5V569.3M76.3 587.5V570.6M77.8 587.5V572.9M79.3 587.5V576.3M80.7 587.5V579.6M82.2 587.5V582.9M83.7 587.5V585.8M126 587.5V567.1M127.5 587.5V569.8M128.9 587.5V572.3M130.4 587.5V575M131.8 587.5V579.9M133.3 587.5V583.9M134.8 587.5V586.6M169.8 587.5V550.7M171.3 587.5V552.4M172.7 587.5V554M174.2 587.5V555.1M175.6 587.5V556.2M177.1 587.5V557.6M178.6 587.5V559.1M180 587.5V560.5M181.5 587.5V562M182.9 587.5V563.4M184.4 587.5V564.5M185.9 587.5V565.6M187.3 587.5V569.9M188.8 587.5V573.9M190.2 587.5V576.8M191.7 587.5V577.5M194.6 587.5V578.5M196.1 587.5V580.8M197.5 587.5V582.6M199 587.5V584.5M200.5 587.5V586.9M232.6 587.5V572.2M234.1 587.5V572.2M235.5 587.5V573.9M237 587.5V575.7M238.4 587.5V578.3M239.9 587.5V581.2M241.4 587.5V584M242.8 587.5V586.7M317.3 587.5V512.4M318.7 587.5V514M320.2 587.5V517M321.7 587.5V522.1M323.1 587.5V527.1M324.6 587.5V531.5M326 587.5V535.9M327.5 587.5V540.3M329 587.5V544.6M330.4 587.5V549.9M331.9 587.5V555.7M333.3 587.5V563.4M334.8 587.5V571.5M336.3 587.5V581.4M374.2 587.5V521.6M375.7 587.5V522.9M377.2 587.5V527.6M378.6 587.5V533.5M380.1 587.5V539M381.5 587.5V544.1M383 587.5V549.3M384.5 587.5V555.2M385.9 587.5V561M387.4 587.5V568.2M388.8 587.5V575.5M416.6 587.5V568.7M418 587.5V570.9M419.5 587.5V574.2M421 587.5V577.8M422.4 587.5V580.8M423.9 587.5V583M425.3 587.5V585M426.8 587.5V586.7M543.6 587.5V573.6M545.1 587.5V574.8M546.5 587.5V577.7M575.7 587.5V560.2M577.2 587.5V560.8M578.7 587.5V561.8M580.1 587.5V562.9M581.6 587.5V564.4M583 587.5V566.2M584.5 587.5V570.3M586 587.5V574.3M587.4 587.5V577.3M588.9 587.5V580.2M590.3 587.5V583.6M621 587.5V578.5M622.5 587.5V580.8M623.9 587.5V583.2M653.1 587.5V564.2M654.6 587.5V565.3M656 587.5V566.5M657.5 587.5V567.6M659 587.5V568.8M660.4 587.5V572.7M661.9 587.5V576.5M663.4 587.5V576.9M664.8 587.5V577.2M666.3 587.5V577.5M667.7 587.5V577.8M669.2 587.5V578M682.3 587.5V558.9M683.8 587.5V560.4M685.3 587.5V561.4M686.7 587.5V562.3M688.2 587.5V563.1M689.6 587.5V570.4M691.1 587.5V576.1M692.6 587.5V583.2M721.8 587.5V560.9M723.2 587.5V561.5M724.7 587.5V562.6M726.1 587.5V563.7M727.6 587.5V565.1M729.1 587.5V566.5M730.5 587.5V568.3M732 587.5V570.5M733.4 587.5V572.6M734.9 587.5V574M736.4 587.5V575.5M737.8 587.5V576.6M739.3 587.5V577.2M740.7 587.5V577.8M742.2 587.5V583.4M796.2 587.5V579.8M797.7 587.5V580.5M799.1 587.5V582.2M800.6 587.5V584M802.1 587.5V586.2M825.4 587.5V566.9M826.9 587.5V567.3M828.4 587.5V567.9M829.8 587.5V568.5M831.3 587.5V569.3M832.7 587.5V571.9M834.2 587.5V574.4M835.7 587.5V578.1M837.1 587.5V581.7M838.6 587.5V583.9M840 587.5V586.1M891.1 587.5V551.4M892.6 587.5V552.5M894.1 587.5V553.9M895.5 587.5V555.4M897 587.5V557.4M898.4 587.5V561M899.9 587.5V564.7M901.4 587.5V568.3M902.8 587.5V572M904.3 587.5V575.1M905.7 587.5V578M907.2 587.5V582.6M946.6 587.5V565.5M948.1 587.5V566.8M949.5 587.5V569.2M951 587.5V573.2M952.5 587.5V577.5M953.9 587.5V580.9M955.4 587.5V584M956.9 587.5V586.7M1013.8 587.5V579.4M1015.3 587.5V580.4M1016.7 587.5V581.9M1018.2 587.5V583.3M1019.6 587.5V585.8M1043 587.5V585.6M1044.5 587.5V586.3M1104.3 587.5V576.9M1105.8 587.5V577.6M1107.3 587.5V578.5M1108.7 587.5V579.5M1110.2 587.5V580.6M1111.6 587.5V581.6M1113.1 587.5V582.6M1114.6 587.5V583.6M1116 587.5V585M1117.5 587.5V586.6M1256.2 587.5V579.8M1257.7 587.5V580.5M1259.1 587.5V581.4M1260.6 587.5V582.4M1262 587.5V583.4M1263.5 587.5V584.4M1265 587.5V585.5M1266.4 587.5V586.4M1267.9 587.5V586.5M1269.3 587.5V586.5M1270.8 587.5V586.6M1272.3 587.5V586.7M1295.6 587.5V586.1" stroke="#2a9d9d" stroke-width="1.15" fill="none" stroke-opacity="0.9"/>
<line x1="4" y1="587.5" x2="1293.6" y2="587.5" stroke="#3f9f4f" stroke-width="6.6" stroke-linecap="round" stroke-opacity="0.88"/>
<line x1="27.5" y1="587.5" x2="30" y2="587.5" stroke="#ff4646" stroke-width="5.2" stroke-linecap="round" stroke-opacity="0.9"/>
<circle cx="27.5" cy="587.5" r="2.3" fill="#c9351c"/>
<circle cx="31.5" cy="587.5" r="2.3" fill="#4f7f1f"/>
<line x1="50" y1="587.5" x2="53" y2="587.5" stroke="#ff4646" stroke-width="5.2" stroke-linecap="round" stroke-opacity="0.9"/>
<circle cx="50" cy="587.5" r="2.3" fill="#c9351c"/>
<circle cx="54.5" cy="587.5" r="2.3" fill="#4f7f1f"/>
<line x1="112.5" y1="587.5" x2="115.5" y2="587.5" stroke="#ff4646" stroke-width="5.2" stroke-linecap="round" stroke-opacity="0.9"/>
<circle cx="112.5" cy="587.5" r="2.3" fill="#c9351c"/>
<circle cx="117" cy="587.5" r="2.3" fill="#4f7f1f"/>
<line x1="283" y1="587.5" x2="287" y2="587.5" stroke="#ff4646" stroke-width="5.2" stroke-linecap="round" stroke-opacity="0.9"/>
<circle cx="283" cy="587.5" r="2.3" fill="#c9351c"/>
<circle cx="288.5" cy="587.5" r="2.3" fill="#4f7f1f"/>
<line x1="420" y1="587.5" x2="423" y2="587.5" stroke="#ff4646" stroke-width="5.2" stroke-linecap="round" stroke-opacity="0.9"/>
<circle cx="420" cy="587.5" r="2.3" fill="#c9351c"/>
<circle cx="424.5" cy="587.5" r="2.3" fill="#4f7f1f"/>
<line x1="489.5" y1="587.5" x2="492" y2="587.5" stroke="#ff4646" stroke-width="5.2" stroke-linecap="round" stroke-opacity="0.9"/>
<circle cx="489.5" cy="587.5" r="2.3" fill="#c9351c"/>
<circle cx="493.5" cy="587.5" r="2.3" fill="#4f7f1f"/>
<line x1="543" y1="587.5" x2="546" y2="587.5" stroke="#ff4646" stroke-width="5.2" stroke-linecap="round" stroke-opacity="0.9"/>
<circle cx="543" cy="587.5" r="2.3" fill="#c9351c"/>
<circle cx="547.5" cy="587.5" r="2.3" fill="#4f7f1f"/>
<line x1="612" y1="587.5" x2="615" y2="587.5" stroke="#ff4646" stroke-width="5.2" stroke-linecap="round" stroke-opacity="0.9"/>
<circle cx="612" cy="587.5" r="2.3" fill="#c9351c"/>
<circle cx="616.5" cy="587.5" r="2.3" fill="#4f7f1f"/>
<line x1="796.5" y1="587.5" x2="812" y2="587.5" stroke="#ff4646" stroke-width="5.2" stroke-linecap="round" stroke-opacity="0.9"/>
<circle cx="796.5" cy="587.5" r="2.3" fill="#c9351c"/>
<circle cx="813.5" cy="587.5" r="2.3" fill="#4f7f1f"/>
<line x1="875" y1="587.5" x2="878" y2="587.5" stroke="#ff4646" stroke-width="5.2" stroke-linecap="round" stroke-opacity="0.9"/>
<circle cx="875" cy="587.5" r="2.3" fill="#c9351c"/>
<circle cx="879.5" cy="587.5" r="2.3" fill="#4f7f1f"/>
<line x1="974" y1="587.5" x2="983" y2="587.5" stroke="#ff4646" stroke-width="5.2" stroke-linecap="round" stroke-opacity="0.9"/>
<circle cx="974" cy="587.5" r="2.3" fill="#c9351c"/>
<circle cx="984.5" cy="587.5" r="2.3" fill="#4f7f1f"/>
<line x1="1019" y1="587.5" x2="1031.5" y2="587.5" stroke="#ff4646" stroke-width="5.2" stroke-linecap="round" stroke-opacity="0.9"/>
<circle cx="1019" cy="587.5" r="2.3" fill="#c9351c"/>
<circle cx="1033" cy="587.5" r="2.3" fill="#4f7f1f"/>
<line x1="1081" y1="587.5" x2="1092" y2="587.5" stroke="#ff4646" stroke-width="5.2" stroke-linecap="round" stroke-opacity="0.9"/>
<circle cx="1081" cy="587.5" r="2.3" fill="#c9351c"/>
<circle cx="1093.5" cy="587.5" r="2.3" fill="#4f7f1f"/>
<line x1="1148" y1="587.5" x2="1151" y2="587.5" stroke="#ff4646" stroke-width="5.2" stroke-linecap="round" stroke-opacity="0.9"/>
<circle cx="1148" cy="587.5" r="2.3" fill="#c9351c"/>
<circle cx="1152.5" cy="587.5" r="2.3" fill="#4f7f1f"/>
<line x1="1174" y1="587.5" x2="1188" y2="587.5" stroke="#ff4646" stroke-width="5.2" stroke-linecap="round" stroke-opacity="0.9"/>
<circle cx="1174" cy="587.5" r="2.3" fill="#c9351c"/>
<circle cx="1189.5" cy="587.5" r="2.3" fill="#4f7f1f"/>
<line x1="1197" y1="587.5" x2="1214" y2="587.5" stroke="#ff4646" stroke-width="5.2" stroke-linecap="round" stroke-opacity="0.9"/>
<circle cx="1197" cy="587.5" r="2.3" fill="#c9351c"/>
<circle cx="1215.5" cy="587.5" r="2.3" fill="#4f7f1f"/>
<line x1="1241" y1="587.5" x2="1247" y2="587.5" stroke="#ff4646" stroke-width="5.2" stroke-linecap="round" stroke-opacity="0.9"/>
<circle cx="1241" cy="587.5" r="2.3" fill="#c9351c"/>
<circle cx="1248.5" cy="587.5" r="2.3" fill="#4f7f1f"/>
<ellipse cx="668.3" cy="585.6" rx="8" ry="14" fill="#c4bd6a" fill-opacity="0.62" stroke="#e0209f" stroke-width="0.8"/>
</g>
<g clip-path="url(#cp3)">
<rect x="4" y="721.6" width="1378" height="80" fill="#f4e6fd" />
<line x1="4" y1="741.5" x2="1381" y2="741.5" stroke="#dcd6f3" stroke-width="1" />
<line x1="4" y1="781.5" x2="1381" y2="781.5" stroke="#dcd6f3" stroke-width="1" />
<line x1="68.5" y1="721.6" x2="68.5" y2="801.6" stroke="#dcd6f3" stroke-width="1" />
<line x1="164.5" y1="721.6" x2="164.5" y2="801.6" stroke="#dcd6f3" stroke-width="1" />
<line x1="296.5" y1="721.6" x2="296.5" y2="801.6" stroke="#dcd6f3" stroke-width="1" />
<line x1="436.5" y1="721.6" x2="436.5" y2="801.6" stroke="#dcd6f3" stroke-width="1" />
<line x1="541.5" y1="721.6" x2="541.5" y2="801.6" stroke="#dcd6f3" stroke-width="1" />
<line x1="620.5" y1="721.6" x2="620.5" y2="801.6" stroke="#dcd6f3" stroke-width="1" />
<line x1="707.5" y1="721.6" x2="707.5" y2="801.6" stroke="#dcd6f3" stroke-width="1" />
<line x1="786.5" y1="721.6" x2="786.5" y2="801.6" stroke="#dcd6f3" stroke-width="1" />
<line x1="865.5" y1="721.6" x2="865.5" y2="801.6" stroke="#dcd6f3" stroke-width="1" />
<line x1="970.5" y1="721.6" x2="970.5" y2="801.6" stroke="#dcd6f3" stroke-width="1" />
<line x1="1093.5" y1="721.6" x2="1093.5" y2="801.6" stroke="#dcd6f3" stroke-width="1" />
<line x1="1241.5" y1="721.6" x2="1241.5" y2="801.6" stroke="#dcd6f3" stroke-width="1" />
<line x1="1338.5" y1="721.6" x2="1338.5" y2="801.6" stroke="#dcd6f3" stroke-width="1" />
<line x1="4" y1="721.5" x2="1382" y2="721.5" stroke="#b0b0b0" stroke-width="1" stroke-dasharray="6 4"/>
<line x1="4" y1="801.5" x2="1382" y2="801.5" stroke="#b0b0b0" stroke-width="1" stroke-dasharray="6 4"/>
<path d="M4.1 807.8 L7.5 817.7 L9.6 820.7 L12.4 789.5 L14.6 783.7 L16.3 796.2 L17.4 766.3 L19.6 766.3 L23.2 775.4 L25.7 773.8 L28.2 787 L30.7 777.9 L33.2 786.2 L35.2 772.1 L39 765.5 L43.5 767.9 L47.3 780.4 L50.6 776.2 L52.8 738.9 L55.6 742.2 L60.6 735.6 L63.4 737.2 L64.7 761.3 L67.2 758 L68.4 739.7 L70.5 740.6 L73.5 737.7 L77.2 748.9 L80.5 751.3 L82.5 761.3 L83.8 789.5 L86.3 819.4 L88 812.8 L89.6 820.2 L91 808.6 L93.8 802.8 L95.4 804.5 L98.8 794.5 L101.2 815.2 L102.9 807.8 L104.2 816.1 L105.4 767.9 L107.9 772.1 L112.5 757.5 L116.2 761.3 L120.3 766.3 L122.8 771.3 L125.3 785.9 L127.8 777.9 L130.3 774.6 L132 767.6 L134.8 774.6 L136.1 771.3 L140.2 775.4 L141.4 805.3 L144.4 797.8 L146.1 798.7 L147.7 792.8 L149 794.5 L150.2 743 L152.7 728.1 L155.2 728.1 L157.7 738.1 L159 733.9 L160.7 739.7 L163 736.7 L165.6 747.2 L167.6 743.9 L169.3 746.4 L172.3 746.4 L174.3 716.5 L176.8 716.2 L179.3 714.5 L181.7 728.1 L183.4 725.6 L185.6 748 L187.6 753.3 L189.2 752.2 L191.7 726.5 L193.4 725.6 L194.5 744.7 L195.9 740.6 L197.8 743 L200 744.7 L201.7 762.1 L203.8 758.8 L206.3 765.1 L208.8 756.3 L212.4 748 L214.9 747.7 L217.4 753 L219.4 761.3 L220.7 725.6 L222.7 733.9 L225.7 732.3 L228.2 728.9 L229.9 743 L232.4 739.7 L235.7 743 L238.2 754.7 L240 767.1 L241.3 771.3 L242.5 807.8 L244.1 803.6 L247.5 811.4 L249.1 799.5 L251.6 792.8 L253.3 794.5 L255.4 787.9 L257.1 792 L258.6 811.1 L260.2 812.4 L263.2 809.8 L264.9 790.4 L268.2 789.2 L270.2 785.9 L271.5 798.7 L273.7 789.5 L275.7 785.9 L279 779.6 L280.7 771.3 L282.3 775.9 L284 770.4 L287.3 743.9 L289 744.7 L290.6 750.5 L293.1 748 L295.1 709 L297.3 705.7 L299.8 699.9 L301.4 699.6 L303.4 716.2 L305.1 709 L306.7 685 L309.4 680.3 L311.4 685 L313 689.6 L314.7 690.8 L317.2 699.1 L318.8 710.7 L320.5 711.2 L322.2 705.7 L323.8 708.2 L325.5 704.9 L327.1 706.5 L328.8 711.5 L330.5 709 L332.1 721.5 L333.8 737.2 L336.6 750 L338.3 743.9 L341.2 733.1 L343.7 736.4 L346.2 740.1 L349.5 724 L350.7 724.8 L352.5 750.5 L353.7 724.8 L355.4 718.2 L356.7 727.3 L358.7 724 L360.3 727.3 L362.3 724 L364 705.7 L365.6 699.1 L367 705.7 L369.1 699.1 L371.1 703.2 L372.8 709.9 L374.8 728.1 L375.8 735.1 L377.8 732.3 L380.2 728.1 L382.4 725.6 L384.4 733.9 L385.6 729.8 L386.9 756.3 L388.2 771.3 L391 767.1 L392.7 746.4 L394.4 742.7 L396.8 745.5 L399.3 744.7 L401.3 753 L404.6 742.7 L406.8 744.7 L408.5 752.2 L411 746.4 L413.4 748 L415.9 756.3 L417.9 757.2 L420.1 765.5 L422.6 757.2 L423.4 764.6 L425.1 764.6 L426.7 784.5 L428.4 801.1 L430.5 809.4 L432.5 819.4 L434.5 814.4 L436.3 807 L438.3 808.6 L440.5 796.2 L442.5 789.5 L445 802 L448.3 800.3 L449.6 815.2 L451.6 806.1 L452.4 807 L454.9 786.2 L455.8 793.7 L458.3 784.5 L460.7 783.7 L462.4 801.1 L463.7 816.1 L465.7 811.9 L468.2 815.2 L470.4 802 L472.4 801.1 L474.4 797 L476.5 787.9 L478.2 796.2 L480 797.8 L482 800.4 L484.1 801.2 L486.6 773 L489.1 767.7 L490.8 784.6 L492.4 804.5 L494.1 812 L495.8 817.5 L497.1 810.3 L498.6 813.7 L500.2 820.3 L502.4 814.1 L504.9 813.7 L506.6 794.2 L508.2 787.9 L509.5 781 L512.4 789.6 L514.4 797.9 L515.7 781.6 L517.3 784.6 L518.5 802.9 L520.7 804.5 L524.5 802.9 L525.6 767.7 L527.3 779.6 L529 774.6 L531.8 769.7 L533.9 771.3 L536.4 771.7 L538.4 756.4 L540.1 755.6 L542.2 776 L544.2 778 L546.4 797.1 L548 793.7 L549.7 792.1 L552.2 782.9 L553.9 768 L556.3 748.1 L557.7 753.1 L559.3 746.1 L562.7 763.9 L564.6 756.4 L566.3 748.1 L569.6 752.2 L571.6 761.7 L573.8 744.8 L575.4 747.3 L577.9 743.1 L579.6 738.1 L581.6 746.4 L583.2 750.6 L584.6 748.9 L585.9 766 L587.9 766.7 L588.7 763 L590.4 770 L592.9 757.7 L595.4 761.4 L597.5 750.6 L599.5 751.4 L602 755.6 L603.7 758.9 L604.5 757.2 L606.5 782.1 L609.1 757.2 L611.1 758 L613.1 756.4 L615.3 738.1 L616.4 725.7 L617.8 737.3 L619.1 735.6 L620.7 763 L622.4 764.4 L623.6 772.2 L625.7 766.7 L627.7 764.4 L630.2 762.2 L632.7 753.1 L634.4 755.6 L636.8 751.1 L638.2 756.1 L640.2 741.5 L642.3 731.5 L644.3 738.1 L646 734.5 L647.6 737.3 L649.3 736.5 L651.5 754.7 L654.3 747.3 L655.9 748.1 L657.6 744.8 L660.6 751.1 L662.6 746.4 L665.1 742.3 L667.2 723.2 L669.2 724.9 L671.7 714.1 L674.5 708.6 L676.7 711.6 L678.3 720.7 L680.3 716.6 L681.7 740.6 L684.1 734 L685.8 734.8 L687.5 743.1 L689.5 759.7 L692.4 772.7 L693.8 748.1 L696.6 751.4 L699.1 752.7 L700.7 740.6 L702.4 743.1 L704.1 739.8 L705.7 741.8 L707.4 734 L709.4 717.9 L710 719 L711.7 733.5 L714.1 728.5 L716.6 730.7 L718.6 722.4 L720.8 729.5 L724.6 739.5 L726.6 729 L728.6 739.8 L730.7 738.1 L734.6 724.9 L736.2 729.8 L739.9 726.2 L741 759.7 L741.5 794.6 L743.2 795.4 L745.7 811.2 L747.8 827.4 L750.7 827.8 L752.3 822.8 L754 812 L757.3 811.2 L759.5 818.6 L762.3 808.7 L763.9 809.2 L766.4 802.9 L768.4 801.2 L770.1 809.5 L772.2 821.5 L774.7 820.3 L775.7 816.1 L776.7 781.3 L779.4 779.6 L781.4 794.2 L783 781.8 L786.7 784.6 L789.3 781 L791.3 775 L793.8 782.9 L795.5 787.1 L798 784.6 L799.3 780.5 L801.3 785.4 L802.9 787.6 L805.4 773 L807.1 763.9 L808.8 750.6 L810.1 750.6 L811.6 735.1 L813.2 732.8 L814.6 740.6 L817.9 725.2 L819.2 726.2 L820.7 748.9 L823.2 736.5 L825.4 749.8 L828.7 741.5 L831.2 740.1 L832.8 741.1 L835.3 753.9 L836.6 764.4 L838.6 753.1 L839.8 755.6 L842 750.6 L843.6 749.8 L846.1 759.7 L848.6 797.9 L850.2 798.7 L852.4 800.9 L854.7 787.9 L857.4 770.5 L858.5 779.6 L860.2 772.7 L862.4 768.8 L864.7 781.3 L867.3 753.9 L869 758 L871.8 755.1 L873.5 750.6 L875.1 753.4 L876.5 753.1 L877.6 736.8 L879.6 728.2 L881.5 707.4 L883.4 721.2 L885.1 715.7 L886.8 716.6 L888.4 724.9 L889.3 724 L890.9 738.1 L894.2 730.7 L896.7 734 L899.2 729 L900.9 745.1 L905 740.6 L906.7 754.7 L908.8 772.2 L911.2 762.7 L912.2 765.5 L915.8 800.4 L918.3 796.2 L919.5 800.4 L921.6 783.8 L923.3 789.6 L925.8 761.7 L927.4 761.4 L930.7 771.7 L932.4 766.3 L933.7 772.2 L935.4 766.3 L937.4 738.1 L939.9 732.8 L941.7 724.9 L943.7 748.1 L945.8 745.6 L947.5 759.7 L949.5 774.6 L951.6 762.2 L953.6 763 L955.8 759.7 L957.9 763 L960.2 756.4 L962.4 760.5 L966.2 751.7 L968.2 760.5 L970.4 768.8 L972.9 761.7 L974.9 762.7 L976.5 767.2 L979.5 772.2 L981.2 771.3 L983.5 786.3 L985.1 797.9 L988.1 778.8 L989.5 784.6 L991.1 779.6 L992.8 752.7 L994.8 756.4 L996.4 759.7 L998.4 750.6 L1001.1 756.4 L1003.4 762.2 L1005.6 756.4 L1006.7 757.2 L1008.4 746.8 L1009.7 753.1 L1011.4 750.6 L1013.4 758 L1015.5 757.2 L1018 760.5 L1019.7 755.6 L1021 765.5 L1022.7 769.3 L1024.6 764.7 L1026.6 746.8 L1028 756.4 L1029.6 758.9 L1031 740.6 L1033.3 733.5 L1034.9 743.1 L1037.1 745.6 L1038.8 750.6 L1041.2 758 L1043.2 752.7 L1044.6 759.7 L1047.1 787.9 L1049.5 785.4 L1051.2 767.7 L1052.9 782.9 L1054.2 816.1 L1055.4 822 L1057.8 824.4 L1059.8 818.6 L1061.5 823.1 L1063.2 806.2 L1064.5 800.4 L1066.1 799.5 L1067.8 797.1 L1071.5 804.2 L1074.1 796.2 L1076.4 794.9 L1078.6 794.6 L1081.1 778 L1082.7 780.5 L1084.4 776.3 L1086.4 774.6 L1087.7 791.2 L1089.4 780.5 L1090.2 731.5 L1091.9 729.8 L1093.5 737.3 L1095.2 736.5 L1096.8 729 L1098.5 734.5 L1100.2 729.8 L1101.8 730.7 L1103.5 734.5 L1105.5 729.5 L1107.6 738.1 L1109 741.1 L1111 738.1 L1112.9 742.3 L1115.6 733.5 L1117.3 743.9 L1118.9 747.3 L1119.8 743.1 L1121.7 761.7 L1123.9 764.7 L1125.6 776.3 L1127.6 766.3 L1130 765.5 L1131.7 766.3 L1132.9 768 L1135 753.9 L1137.5 760.5 L1139.2 756.4 L1141.7 742.8 L1143.8 745.6 L1146.6 741.5 L1148.3 746.4 L1150 759.7 L1152.5 766.3 L1155.8 773 L1157.5 762.7 L1159.1 768 L1160.3 767.2 L1162.4 779.3 L1164.6 763 L1165.8 758 L1166.6 766.3 L1168.3 747.3 L1169.6 742.8 L1171.2 752.2 L1173.2 753.9 L1174.9 758 L1176.6 772.7 L1178.2 767.2 L1179.5 771.3 L1182.4 758 L1184 765.5 L1186.2 773 L1188.5 752.7 L1189.8 766.7 L1191.8 761.4 L1194.8 754.7 L1196.5 756.4 L1198.1 763.9 L1199.8 765.5 L1201.8 758.4 L1203.4 758.9 L1206.4 767.2 L1208.1 766.7 L1209.4 772.2 L1210.6 758.4 L1211.7 755.6 L1213.1 766.3 L1214.4 801.2 L1216.1 816.1 L1217.2 824.4 L1219.4 809.8 L1221 804.9 L1222.7 808.2 L1224.4 803.2 L1226 804.9 L1227.7 797.9 L1230.5 799.2 L1232.5 796.2 L1233.5 756.7 L1235.5 766.7 L1238.3 773 L1240.1 765 L1242.1 766.7 L1244.3 754.7 L1246.6 741.5 L1248.3 746.1 L1250.1 743.9 L1251.7 741.8 L1254.2 745.6 L1255.7 756.4 L1257.1 755.6 L1258.4 765.5 L1260.9 759.7 L1262.5 758 L1264.5 762.7 L1266.2 759.7 L1267.5 753.1 L1268.5 710.2 L1270.3 719 L1271.7 721.5 L1272.8 729.8 L1274.1 729 L1275.3 733.5 L1277 736.5 L1277.8 753.9 L1279.8 743.4 L1281.1 751.4 L1282.8 748.1 L1284.4 746.4 L1286.4 734.5 L1287.4 743.1 L1289.4 732.3 L1290.4 714.6 L1292.4 715.7 L1294.1 718.2 L1294.9 722.4" fill="none" stroke="#a22fb5" stroke-width="1.1" stroke-linejoin="round" />
<line x1="369.5" y1="699.6" x2="680.8" y2="733.2" stroke="#ff1a1a" stroke-width="1.2" />
<line x1="501.2" y1="822.3" x2="745" y2="761" stroke="#2020ee" stroke-width="1.2" />
<line x1="750.7" y1="828" x2="1072" y2="785" stroke="#2020ee" stroke-width="1.2" />
<line x1="881.5" y1="708" x2="1029.6" y2="750" stroke="#2020ee" stroke-width="1.2" />
<line x1="1090.7" y1="727.3" x2="1275.6" y2="743.1" stroke="#2020ee" stroke-width="1.2" />
<line x1="1158" y1="779.6" x2="1223.9" y2="771.7" stroke="#2020ee" stroke-width="1.2" />
<ellipse cx="667.2" cy="730.7" rx="8.4" ry="6.4" transform="rotate(-22 667.2 730.7)" fill="#b9a36a" fill-opacity="0.78" stroke="#e0209f" stroke-width="0.9"/>
</g>
<line x1="1277.5" y1="44" x2="1277.5" y2="838" stroke="#777" stroke-width="1" stroke-dasharray="5 6"/>
<rect x="1272" y="487" width="11" height="14" fill="#fff"/><path d="M1274.700 493v-1.800a2.800 2.800 0 0 1 5.600 0v1.800" fill="none" stroke="#6a6a6a" stroke-width="1"/><rect x="1273.500" y="493.500" width="8" height="6" fill="#fff" stroke="#6a6a6a" stroke-width="1"/><path d="M1277.500 496v1.800" stroke="#6a6a6a" stroke-width="1"/>
<line x1="4" y1="501.5" x2="1442" y2="501.5" stroke="#555" stroke-width="1" />
<line x1="4" y1="671.5" x2="1442" y2="671.5" stroke="#555" stroke-width="1" />
<line x1="4" y1="838.5" x2="1382.5" y2="838.5" stroke="#555" stroke-width="1" />
<line x1="1382.5" y1="44" x2="1382.5" y2="838.8" stroke="#555" stroke-width="1" />
<line x1="1382.5" y1="48.5" x2="1386.5" y2="48.5" stroke="#555" stroke-width="1" />
<text x="1389" y="52.6" font-size="11" fill="#555" text-anchor="start" font-weight="normal" >11000.00</text>
<line x1="1382.5" y1="77.5" x2="1386.5" y2="77.5" stroke="#555" stroke-width="1" />
<text x="1389" y="81.6" font-size="11" fill="#555" text-anchor="start" font-weight="normal" >10500.00</text>
<line x1="1382.5" y1="106.5" x2="1386.5" y2="106.5" stroke="#555" stroke-width="1" />
<text x="1389" y="110.6" font-size="11" fill="#555" text-anchor="start" font-weight="normal" >10000.00</text>
<line x1="1382.5" y1="135.5" x2="1386.5" y2="135.5" stroke="#555" stroke-width="1" />
<text x="1389" y="139.6" font-size="11" fill="#555" text-anchor="start" font-weight="normal" >9500.00</text>
<line x1="1382.5" y1="164.5" x2="1386.5" y2="164.5" stroke="#555" stroke-width="1" />
<text x="1389" y="168.6" font-size="11" fill="#555" text-anchor="start" font-weight="normal" >9000.00</text>
<line x1="1382.5" y1="193.5" x2="1386.5" y2="193.5" stroke="#555" stroke-width="1" />
<text x="1389" y="197.6" font-size="11" fill="#555" text-anchor="start" font-weight="normal" >8500.00</text>
<line x1="1382.5" y1="222.5" x2="1386.5" y2="222.5" stroke="#555" stroke-width="1" />
<text x="1389" y="226.6" font-size="11" fill="#555" text-anchor="start" font-weight="normal" >8000.00</text>
<line x1="1382.5" y1="251.5" x2="1386.5" y2="251.5" stroke="#555" stroke-width="1" />
<text x="1389" y="255.6" font-size="11" fill="#555" text-anchor="start" font-weight="normal" >7500.00</text>
<line x1="1382.5" y1="280.5" x2="1386.5" y2="280.5" stroke="#555" stroke-width="1" />
<text x="1389" y="284.6" font-size="11" fill="#555" text-anchor="start" font-weight="normal" >7000.00</text>
<line x1="1382.5" y1="309.5" x2="1386.5" y2="309.5" stroke="#555" stroke-width="1" />
<text x="1389" y="313.6" font-size="11" fill="#555" text-anchor="start" font-weight="normal" >6500.00</text>
<line x1="1382.5" y1="338.5" x2="1386.5" y2="338.5" stroke="#555" stroke-width="1" />
<text x="1389" y="342.6" font-size="11" fill="#555" text-anchor="start" font-weight="normal" >6000.00</text>
<line x1="1382.5" y1="367.5" x2="1386.5" y2="367.5" stroke="#555" stroke-width="1" />
<text x="1389" y="371.6" font-size="11" fill="#555" text-anchor="start" font-weight="normal" >5500.00</text>
<line x1="1382.5" y1="396.5" x2="1386.5" y2="396.5" stroke="#555" stroke-width="1" />
<text x="1389" y="400.6" font-size="11" fill="#555" text-anchor="start" font-weight="normal" >5000.00</text>
<line x1="1382.5" y1="425.5" x2="1386.5" y2="425.5" stroke="#555" stroke-width="1" />
<text x="1389" y="429.6" font-size="11" fill="#555" text-anchor="start" font-weight="normal" >4500.00</text>
<line x1="1382.5" y1="454.5" x2="1386.5" y2="454.5" stroke="#555" stroke-width="1" />
<text x="1389" y="458.6" font-size="11" fill="#555" text-anchor="start" font-weight="normal" >4000.00</text>
<line x1="1382.5" y1="483.5" x2="1386.5" y2="483.5" stroke="#555" stroke-width="1" />
<text x="1389" y="487.6" font-size="11" fill="#555" text-anchor="start" font-weight="normal" >3500.00</text>
<line x1="1382.5" y1="528.5" x2="1386.5" y2="528.5" stroke="#555" stroke-width="1" />
<text x="1389" y="532.6" font-size="11" fill="#555" text-anchor="start" font-weight="normal" >500.0000</text>
<line x1="1382.5" y1="557.5" x2="1386.5" y2="557.5" stroke="#555" stroke-width="1" />
<text x="1389" y="561.6" font-size="11" fill="#555" text-anchor="start" font-weight="normal" >250.0000</text>
<line x1="1382.5" y1="587.5" x2="1386.5" y2="587.5" stroke="#555" stroke-width="1" />
<text x="1389" y="591.6" font-size="11" fill="#555" text-anchor="start" font-weight="normal" >0.0000</text>
<line x1="1382.5" y1="617.5" x2="1386.5" y2="617.5" stroke="#555" stroke-width="1" />
<text x="1389" y="621.6" font-size="11" fill="#555" text-anchor="start" font-weight="normal" >-250.0000</text>
<line x1="1382.5" y1="647.5" x2="1386.5" y2="647.5" stroke="#555" stroke-width="1" />
<text x="1389" y="651.6" font-size="11" fill="#555" text-anchor="start" font-weight="normal" >-500.0000</text>
<line x1="1382.5" y1="701.5" x2="1386.5" y2="701.5" stroke="#555" stroke-width="1" />
<text x="1389" y="705.6" font-size="11" fill="#555" text-anchor="start" font-weight="normal" >80.0000</text>
<line x1="1382.5" y1="741.5" x2="1386.5" y2="741.5" stroke="#555" stroke-width="1" />
<text x="1389" y="745.6" font-size="11" fill="#555" text-anchor="start" font-weight="normal" >60.0000</text>
<line x1="1382.5" y1="781.5" x2="1386.5" y2="781.5" stroke="#555" stroke-width="1" />
<text x="1389" y="785.6" font-size="11" fill="#555" text-anchor="start" font-weight="normal" >40.0000</text>
<line x1="1382.5" y1="821.5" x2="1386.5" y2="821.5" stroke="#555" stroke-width="1" />
<text x="1389" y="825.6" font-size="11" fill="#555" text-anchor="start" font-weight="normal" >20.0000</text>
<rect x="1382" y="301" width="51" height="16.8" fill="#e8495c" />
<line x1="1382" y1="309.5" x2="1386" y2="309.5" stroke="#fff" stroke-width="1" />
<text x="1389.5" y="313.2" font-size="11.5" fill="#fff" text-anchor="start" font-weight="bold" textLength="39.5" lengthAdjust="spacingAndGlyphs" >6497.40</text>
<rect x="1382" y="319.1" width="51" height="16.5" fill="#e8495c" />
<text x="1385.5" y="330.6" font-size="11.5" fill="#fff" text-anchor="start" font-weight="bold" textLength="44" lengthAdjust="spacingAndGlyphs" >01:17:23</text>
<line x1="68.5" y1="838.8" x2="68.5" y2="842.5" stroke="#555" stroke-width="1" />
<text x="68.5" y="856" font-size="11" fill="#555" text-anchor="middle" font-weight="bold" >20</text>
<line x1="164.5" y1="838.8" x2="164.5" y2="842.5" stroke="#555" stroke-width="1" />
<text x="164.5" y="856" font-size="11" fill="#555" text-anchor="middle" font-weight="bold" >Jul</text>
<line x1="296.5" y1="838.8" x2="296.5" y2="842.5" stroke="#555" stroke-width="1" />
<text x="296.5" y="856" font-size="11" fill="#555" text-anchor="middle" font-weight="bold" >16</text>
<line x1="436.5" y1="838.8" x2="436.5" y2="842.5" stroke="#555" stroke-width="1" />
<text x="436.5" y="856" font-size="11" fill="#555" text-anchor="middle" font-weight="bold" >Aug</text>
<line x1="541.5" y1="838.8" x2="541.5" y2="842.5" stroke="#555" stroke-width="1" />
<text x="541.5" y="856" font-size="11" fill="#555" text-anchor="middle" font-weight="bold" >13</text>
<line x1="620.5" y1="838.8" x2="620.5" y2="842.5" stroke="#555" stroke-width="1" />
<text x="620.5" y="856" font-size="11" fill="#555" text-anchor="middle" font-weight="bold" >22</text>
<line x1="707.5" y1="838.8" x2="707.5" y2="842.5" stroke="#555" stroke-width="1" />
<text x="707.5" y="856" font-size="11" fill="#555" text-anchor="middle" font-weight="bold" >Sep</text>
<line x1="786.5" y1="838.8" x2="786.5" y2="842.5" stroke="#555" stroke-width="1" />
<text x="786.5" y="856" font-size="11" fill="#555" text-anchor="middle" font-weight="bold" >10</text>
<line x1="865.5" y1="838.8" x2="865.5" y2="842.5" stroke="#555" stroke-width="1" />
<text x="865.5" y="856" font-size="11" fill="#555" text-anchor="middle" font-weight="bold" >19</text>
<line x1="970.5" y1="838.8" x2="970.5" y2="842.5" stroke="#555" stroke-width="1" />
<text x="970.5" y="856" font-size="11" fill="#555" text-anchor="middle" font-weight="bold" >Oct</text>
<line x1="1093.5" y1="838.8" x2="1093.5" y2="842.5" stroke="#555" stroke-width="1" />
<text x="1093.5" y="856" font-size="11" fill="#555" text-anchor="middle" font-weight="bold" >15</text>
<line x1="1338.5" y1="838.8" x2="1338.5" y2="842.5" stroke="#555" stroke-width="1" />
<text x="1338.5" y="856" font-size="11" fill="#555" text-anchor="middle" font-weight="bold" >12</text>
<line x1="1241.5" y1="838.8" x2="1241.5" y2="842.5" stroke="#555" stroke-width="1" />
<rect x="1227" y="838.8" width="99.7" height="20.8" fill="#4c525e" />
<line x1="1277.2" y1="838.8" x2="1277.2" y2="842.5" stroke="#fff" stroke-width="1" />
<text x="1277" y="853" font-size="11" fill="#fff" text-anchor="middle" font-weight="bold" textLength="87" lengthAdjust="spacingAndGlyphs" >05 Nov '18 · 02:00</text>
<line x1="4" y1="863.7" x2="1442" y2="863.7" stroke="#e6eaee" stroke-width="1.4" />
<line x1="104.2" y1="2" x2="104.2" y2="40" stroke="#e6eaee" stroke-width="1.6" />
<line x1="345.6" y1="2" x2="345.6" y2="40" stroke="#e6eaee" stroke-width="1.6" />
<line x1="384.4" y1="2" x2="384.4" y2="40" stroke="#e6eaee" stroke-width="1.6" />
<line x1="486.5" y1="2" x2="486.5" y2="40" stroke="#e6eaee" stroke-width="1.6" />
<line x1="594.2" y1="2" x2="594.2" y2="40" stroke="#e6eaee" stroke-width="1.6" />
<line x1="704.5" y1="2" x2="704.5" y2="40" stroke="#e6eaee" stroke-width="1.6" />
<line x1="781.1" y1="2" x2="781.1" y2="40" stroke="#e6eaee" stroke-width="1.6" />
<line x1="868.3" y1="2" x2="868.3" y2="40" stroke="#e6eaee" stroke-width="1.6" />
<line x1="931" y1="2" x2="931" y2="40" stroke="#e6eaee" stroke-width="1.6" />
<line x1="1081.4" y1="2" x2="1081.4" y2="40" stroke="#e6eaee" stroke-width="1.6" />
<line x1="1120.3" y1="2" x2="1120.3" y2="40" stroke="#e6eaee" stroke-width="1.6" />
<line x1="1207.4" y1="2" x2="1207.4" y2="40" stroke="#e6eaee" stroke-width="1.6" />
<line x1="1246.3" y1="2" x2="1246.3" y2="40" stroke="#e6eaee" stroke-width="1.6" />
<line x1="1285.6" y1="2" x2="1285.6" y2="40" stroke="#e6eaee" stroke-width="1.6" />
<text x="16.5" y="26.2" font-size="13.5" fill="#2a2e39" text-anchor="start" font-weight="bold" textLength="50" lengthAdjust="spacingAndGlyphs" >BTCUSD</text>
<text x="113" y="26.2" font-size="14" fill="#2a2e39" text-anchor="start" font-weight="normal" textLength="18" lengthAdjust="spacingAndGlyphs" >1m</text>
<text x="144" y="26.2" font-size="14" fill="#2a2e39" text-anchor="start" font-weight="normal" textLength="18.5" lengthAdjust="spacingAndGlyphs" >2m</text>
<text x="175" y="26.2" font-size="14" fill="#2a2e39" text-anchor="start" font-weight="normal" textLength="18.5" lengthAdjust="spacingAndGlyphs" >3m</text>
<text x="206" y="26.2" font-size="14" fill="#2a2e39" text-anchor="start" font-weight="normal" textLength="18.5" lengthAdjust="spacingAndGlyphs" >5m</text>
<text x="237" y="26.2" font-size="14" fill="#2a2e39" text-anchor="start" font-weight="normal" textLength="26" lengthAdjust="spacingAndGlyphs" >15m</text>
<text x="275" y="26.2" font-size="14" fill="#2a2e39" text-anchor="start" font-weight="normal" textLength="15" lengthAdjust="spacingAndGlyphs" >1h</text>
<text x="302" y="26.2" font-size="14" fill="#2196f3" text-anchor="start" font-weight="normal" textLength="15" lengthAdjust="spacingAndGlyphs" >4h</text>
<path d="M331 19.5l4 4 4-4" fill="none" stroke="#2a2e39" stroke-width="1.2"/>
<g fill="none" stroke="#2a2e39" stroke-width="1.2"><rect x="360.5" y="14.5" width="4" height="12"/><path d="M362.5 11v3.5M362.5 26.5v4"/><rect x="368.5" y="17.5" width="4" height="7"/><path d="M370.5 14v3.5M370.5 24.500v3.5"/></g>
<g fill="none" stroke="#2a2e39" stroke-width="1.2"><circle cx="403.2" cy="21.5" r="8.8"/><path d="M398.700 21.500h9M403.200 17v9"/></g>
<text x="420" y="26.2" font-size="14" fill="#2a2e39" text-anchor="start" font-weight="normal" textLength="55" lengthAdjust="spacingAndGlyphs" >Compare</text>
<path d="M497.500 24.500c3-5 5.500-6 8-3s5 2.500 9.500-3" fill="none" stroke="#2a2e39" stroke-width="1.3"/>
<text x="522" y="26.2" font-size="14" fill="#2a2e39" text-anchor="start" font-weight="normal" textLength="61.5" lengthAdjust="spacingAndGlyphs" >Indicators</text>
<g fill="none" stroke="#2a2e39" stroke-width="1.1"><path d="M605 19l4.500-5 5 4 5-4.500 4.500 2.500"/><path d="M605 24l4.500-5 5 4 5-4.500 4.500 2.500"/><path d="M606.500 29v-1M609.500 29v-3.500M612.500 29v-5M615.500 29v-4M618.500 29v-5M621.500 29v-3M624 29v-6" stroke-width="1"/></g>
<text x="630.5" y="26.2" font-size="14" fill="#2a2e39" text-anchor="start" font-weight="normal" textLength="62.5" lengthAdjust="spacingAndGlyphs" >Templates</text>
<g fill="none" stroke="#2a2e39" stroke-width="1.2"><path d="M731.800 22.500a8.600 8.600 0 1 0 -7.300 7.500"/><path d="M723.200 17v5h-3.800"/><path d="M715 15.500a4 4 0 0 1 5.500-3.300M726 12.200a4 4 0 0 1 5.500 3.300"/><path d="M729.800 23v8.500M725.500 27.300h8.600"/></g>
<text x="739.5" y="26.2" font-size="14" fill="#2a2e39" text-anchor="start" font-weight="normal" textLength="30.5" lengthAdjust="spacingAndGlyphs" >Alert</text>
<g fill="none" stroke="#2a2e39" stroke-width="1.2" stroke-linejoin="round"><path d="M800.500 16.500v10l-6.500-5z"/><path d="M808.500 16.500v10l-6.500-5z"/></g>
<text x="817" y="26.2" font-size="14" fill="#2a2e39" text-anchor="start" font-weight="normal" textLength="41" lengthAdjust="spacingAndGlyphs" >Replay</text>
<path d="M891 26.500c0-4-2-6.500-5.500-6.500h-6M883 16l-4 4 4 4" fill="none" stroke="#2a2e39" stroke-width="1.200"/>
<path d="M907 26.500c0-4 2-6.500 5.500-6.500h6M915 16l4 4-4 4" fill="none" stroke="#c5c8cf" stroke-width="1.200"/>
<rect x="1092" y="12.500" width="18" height="15.500" rx="2" fill="none" stroke="#2a2e39" stroke-width="1.200"/>
<g fill="none" stroke="#2a2e39" stroke-width="1.200"><path d="M1133.500 27.500h13a5 5 0 0 0 .8-9.900a7 7 0 0 0 -13.300 1.400a4.300 4.300 0 0 0 -.5 8.500z"/><path d="M1136.500 21l3 3 5-5"/></g>
<text x="1156" y="26.2" font-size="14" fill="#2a2e39" text-anchor="start" font-weight="normal" textLength="25" lengthAdjust="spacingAndGlyphs" >Star</text>
<path d="M1193 19l4 4 4-4" fill="none" stroke="#2a2e39" stroke-width="1.200"/>
<path d="M1236.3 19.6L1236.3 21.4L1233.9 22.6L1233.3 23.9L1234.2 26.4L1232.9 27.7L1230.4 26.8L1229.1 27.4L1227.9 29.8L1226.1 29.8L1224.9 27.4L1223.6 26.8L1221.1 27.7L1219.8 26.4L1220.7 23.9L1220.1 22.6L1217.7 21.4L1217.7 19.6L1220.1 18.4L1220.7 17.1L1219.8 14.6L1221.1 13.3L1223.6 14.2L1224.9 13.6L1226.1 11.2L1227.9 11.2L1229.1 13.6L1230.4 14.2L1232.9 13.3L1234.2 14.6L1233.3 17.1L1233.9 18.4Z" fill="none" stroke="#2a2e39" stroke-width="1.2" stroke-linejoin="round"/>
<circle cx="1227" cy="20.5" r="2.6" fill="none" stroke="#2a2e39" stroke-width="1.2"/>
<g fill="none" stroke="#2a2e39" stroke-width="1.200"><path d="M1258 17.500v-4.500h4.500M1258 13l5 5M1269.500 13h4.500v4.500M1274 13l-5 5M1258 24v4.500h4.500M1258 28.500l5-5M1269.500 28.500h4.500v-4.500M1274 28.500l-5-5"/></g>
<g fill="none" stroke="#2a2e39" stroke-width="1.200"><path d="M1296 15.500h3.500l1.500-2.500h6.500l1.500 2.500h3.500a1.500 1.500 0 0 1 1.500 1.500v9.500a1.500 1.500 0 0 1 -1.500 1.500h-16.500a1.500 1.500 0 0 1 -1.500-1.500v-9.500a1.500 1.500 0 0 1 1.500-1.500z"/><circle cx="1304.300" cy="21.500" r="3.800"/></g>
<path d="M1323.700 2h116.300a2 2 0 0 1 2 2v34a2 2 0 0 1 -2 2h-116.300z" fill="#2196f3"/>
<line x1="1404.4" y1="2" x2="1404.4" y2="40" stroke="#8ecbfa" stroke-width="1" />
<text x="1340" y="26.5" font-size="15" fill="#fff" text-anchor="start" font-weight="bold" textLength="48" lengthAdjust="spacingAndGlyphs" >Publish</text>
<circle cx="1423.500" cy="21" r="9.500" fill="none" stroke="#fff" stroke-width="1.300"/><path d="M1420.500 16.500l7 4.500-7 4.500z" fill="#fff"/>
<rect x="9.500" y="56.500" width="12" height="12" rx="1.500" fill="#fff" stroke="#7a7a7a" stroke-width="1"/><path d="M12 62.500h7" stroke="#7a7a7a" stroke-width="1"/>
<path d="M30 56.500h12l-3.500 6 3.500 6h-12z" fill="#c3c8cc"/>
<text x="47" y="69" font-size="16.5" fill="#474747" text-anchor="start" font-weight="normal" textLength="238" lengthAdjust="spacingAndGlyphs" >Bitcoin / Dollar, 240, BITSTAMP</text>
<path d="M288.500 62l3.500 4 3.500-4z" fill="#c8c8c8"/>
<text x="313" y="68.5" font-size="14" fill="#666" text-anchor="start" font-weight="normal" textLength="10" lengthAdjust="spacingAndGlyphs" >O</text>
<text x="325" y="68.5" font-size="14" fill="#e8495c" text-anchor="start" font-weight="normal" textLength="52" lengthAdjust="spacingAndGlyphs" >6411.95</text>
<text x="386" y="68.5" font-size="14" fill="#666" text-anchor="start" font-weight="normal" textLength="10" lengthAdjust="spacingAndGlyphs" >H</text>
<text x="398" y="68.5" font-size="14" fill="#e8495c" text-anchor="start" font-weight="normal" textLength="51.5" lengthAdjust="spacingAndGlyphs" >6411.96</text>
<text x="460" y="68.5" font-size="14" fill="#666" text-anchor="start" font-weight="normal" textLength="7.5" lengthAdjust="spacingAndGlyphs" >L</text>
<text x="469" y="68.5" font-size="14" fill="#e8495c" text-anchor="start" font-weight="normal" textLength="51.5" lengthAdjust="spacingAndGlyphs" >6386.21</text>
<text x="530" y="68.5" font-size="14" fill="#666" text-anchor="start" font-weight="normal" textLength="9.5" lengthAdjust="spacingAndGlyphs" >C</text>
<text x="541" y="68.5" font-size="14" fill="#e8495c" text-anchor="start" font-weight="normal" textLength="51.5" lengthAdjust="spacingAndGlyphs" >6402.51</text>
<text x="604" y="68.5" font-size="14" fill="#e8495c" text-anchor="start" font-weight="normal" textLength="97" lengthAdjust="spacingAndGlyphs" >−9.44 (−0.15%)</text>
<text x="9" y="88.2" font-size="12" fill="#4d4d4d" text-anchor="start" font-weight="normal" textLength="82.5" lengthAdjust="spacingAndGlyphs" >EMA (55, close)</text>
<path d="M95.7 81.7h6.600l-3.300 3.800z" fill="#c8c8c8"/>
<rect x="113.1" y="77.1" width="13.8" height="13.7" fill="#b4b4b4" fill-opacity="0.58"/>
<path d="M114.7 84C117 78 123 78 125.3 84C123 90 117 90 114.7 84Z" fill="#fff"/><circle cx="120" cy="84" r="2.500" fill="#d2d2d2"/><circle cx="120" cy="84" r="1.250" fill="#fff"/>
<rect x="130.1" y="77.1" width="13.8" height="13.7" fill="#b4b4b4" fill-opacity="0.58"/>
<path d="M142.3 83.5L142.3 84.5L140.5 85.1L140.3 85.7L141.1 87.4L140.4 88.1L138.7 87.3L138.1 87.5L137.5 89.3L136.5 89.3L135.9 87.5L135.3 87.3L133.6 88.1L132.9 87.4L133.7 85.7L133.5 85.1L131.7 84.5L131.7 83.5L133.5 82.9L133.7 82.3L132.9 80.6L133.6 79.9L135.3 80.7L135.9 80.5L136.5 78.7L137.5 78.7L138.1 80.5L138.7 80.7L140.4 79.9L141.1 80.6L140.3 82.3L140.5 82.9Z" fill="#fff"/><circle cx="137" cy="84" r="1.900" fill="#d2d2d2"/>
<rect x="147.1" y="77.1" width="13.8" height="13.7" fill="#b4b4b4" fill-opacity="0.58"/>
<path d="M149.8 84h8.400M154 79.8v8.400" stroke="#fff" stroke-width="2.200"/>
<rect x="164.1" y="77.1" width="13.8" height="13.7" fill="#b4b4b4" fill-opacity="0.58"/>
<path d="M166.4 79.4l9.200 9.200M175.6 79.4l-9.200 9.200" stroke="#fff" stroke-width="1.500"/>
<text x="186.5" y="88.2" font-size="12" fill="#ff0000" text-anchor="start" font-weight="normal" textLength="54.5" lengthAdjust="spacingAndGlyphs" >6355.7810</text>
<text x="9" y="108.2" font-size="12" fill="#4d4d4d" text-anchor="start" font-weight="normal" textLength="82.5" lengthAdjust="spacingAndGlyphs" >EMA (21, close)</text>
<path d="M95.7 101.7h6.600l-3.300 3.800z" fill="#c8c8c8"/>
<rect x="113.1" y="97.1" width="13.8" height="13.7" fill="#b4b4b4" fill-opacity="0.58"/>
<path d="M114.7 104C117 98 123 98 125.3 104C123 110 117 110 114.7 104Z" fill="#fff"/><circle cx="120" cy="104" r="2.500" fill="#d2d2d2"/><circle cx="120" cy="104" r="1.250" fill="#fff"/>
<rect x="130.1" y="97.1" width="13.8" height="13.7" fill="#b4b4b4" fill-opacity="0.58"/>
<path d="M142.3 103.5L142.3 104.5L140.5 105.1L140.3 105.7L141.1 107.4L140.4 108.1L138.7 107.3L138.1 107.5L137.5 109.3L136.5 109.3L135.9 107.5L135.3 107.3L133.6 108.1L132.9 107.4L133.7 105.7L133.5 105.1L131.7 104.5L131.7 103.5L133.5 102.9L133.7 102.3L132.9 100.6L133.6 99.9L135.3 100.7L135.9 100.5L136.5 98.7L137.5 98.7L138.1 100.5L138.7 100.7L140.4 99.9L141.1 100.6L140.3 102.3L140.5 102.9Z" fill="#fff"/><circle cx="137" cy="104" r="1.900" fill="#d2d2d2"/>
<rect x="147.1" y="97.1" width="13.8" height="13.7" fill="#b4b4b4" fill-opacity="0.58"/>
<path d="M149.8 104h8.400M154 99.8v8.400" stroke="#fff" stroke-width="2.200"/>
<rect x="164.1" y="97.1" width="13.8" height="13.7" fill="#b4b4b4" fill-opacity="0.58"/>
<path d="M166.4 99.4l9.200 9.200M175.6 99.4l-9.200 9.200" stroke="#fff" stroke-width="1.500"/>
<text x="186.5" y="108.2" font-size="12" fill="#ff00ff" text-anchor="start" font-weight="normal" textLength="54.5" lengthAdjust="spacingAndGlyphs" >6368.1951</text>
<text x="9" y="129.2" font-size="12" fill="#4d4d4d" text-anchor="start" font-weight="normal" textLength="54" lengthAdjust="spacingAndGlyphs" >ST_Darvas</text>
<path d="M67.7 122.7h6.600l-3.300 3.800z" fill="#c8c8c8"/>
<rect x="85.2" y="118.2" width="13.8" height="13.7" fill="#b4b4b4" fill-opacity="0.58"/>
<path d="M86.8 125.1C89.1 119.1 95.1 119.1 97.4 125.1C95.1 131.1 89.1 131.1 86.8 125.1Z" fill="#fff"/><circle cx="92.1" cy="125.1" r="2.500" fill="#d2d2d2"/><circle cx="92.1" cy="125.1" r="1.250" fill="#fff"/>
<rect x="102.2" y="118.2" width="13.8" height="13.7" fill="#b4b4b4" fill-opacity="0.58"/>
<path d="M114.4 124.6L114.4 125.6L112.7 126.2L112.4 126.8L113.2 128.5L112.5 129.2L110.9 128.4L110.2 128.6L109.7 130.4L108.6 130.4L108.1 128.6L107.4 128.4L105.8 129.2L105.1 128.5L105.9 126.8L105.6 126.2L103.9 125.6L103.9 124.6L105.6 124L105.9 123.4L105.1 121.7L105.8 121L107.4 121.8L108.1 121.6L108.6 119.8L109.7 119.8L110.2 121.6L110.9 121.8L112.5 121L113.2 121.7L112.4 123.4L112.7 124Z" fill="#fff"/><circle cx="109.2" cy="125.1" r="1.900" fill="#d2d2d2"/>
<rect x="119.3" y="118.2" width="13.8" height="13.7" fill="#b4b4b4" fill-opacity="0.58"/>
<path d="M122 125.1h8.400M126.2 120.9v8.400" stroke="#fff" stroke-width="2.200"/>
<rect x="136.4" y="118.2" width="13.8" height="13.7" fill="#b4b4b4" fill-opacity="0.58"/>
<path d="M138.7 120.5l9.200 9.200M147.9 120.5l-9.200 9.200" stroke="#fff" stroke-width="1.500"/>
<text x="159" y="129.2" font-size="12" fill="#800080" text-anchor="start" font-weight="normal" textLength="54.5" lengthAdjust="spacingAndGlyphs" >6475.0000</text>
<text x="224" y="129.2" font-size="12" fill="#800080" text-anchor="start" font-weight="normal" textLength="53.5" lengthAdjust="spacingAndGlyphs" >6310.5700</text>
<text x="288" y="129.2" font-size="12" fill="#2196f3" text-anchor="start" font-weight="normal" textLength="35.5" lengthAdjust="spacingAndGlyphs" >0.0000</text>
<text x="172.5" y="126.2" font-size="12" fill="#cc2f8f" text-anchor="end" font-weight="normal" textLength="95" lengthAdjust="spacingAndGlyphs" fill-opacity="0.85">4.236(9734.12)</text>
<text x="10" y="521" font-size="12" fill="#4d4d4d" text-anchor="start" font-weight="normal" textLength="94" lengthAdjust="spacingAndGlyphs" >TTM Squeeze (20)</text>
<path d="M108.7 515.2h6.600l-3.300 3.800z" fill="#c8c8c8"/>
<rect x="126" y="510.2" width="13.8" height="13.7" fill="#b4b4b4" fill-opacity="0.58"/>
<path d="M127.6 517.1C129.9 511.1 135.9 511.1 138.2 517.1C135.9 523.1 129.9 523.1 127.6 517.1Z" fill="#fff"/><circle cx="132.9" cy="517.1" r="2.500" fill="#d2d2d2"/><circle cx="132.9" cy="517.1" r="1.250" fill="#fff"/>
<rect x="143" y="510.2" width="13.8" height="13.7" fill="#b4b4b4" fill-opacity="0.58"/>
<path d="M155.2 516.6L155.2 517.6L153.4 518.2L153.2 518.8L154 520.5L153.3 521.2L151.6 520.4L151 520.6L150.4 522.4L149.4 522.4L148.8 520.6L148.2 520.4L146.5 521.2L145.8 520.5L146.6 518.8L146.4 518.2L144.6 517.6L144.6 516.6L146.4 516L146.6 515.4L145.8 513.7L146.5 513L148.2 513.8L148.8 513.6L149.4 511.8L150.4 511.8L151 513.6L151.6 513.8L153.3 513L154 513.7L153.2 515.4L153.4 516Z" fill="#fff"/><circle cx="149.9" cy="517.1" r="1.900" fill="#d2d2d2"/>
<rect x="160" y="510.2" width="13.8" height="13.7" fill="#b4b4b4" fill-opacity="0.58"/>
<path d="M165.6 512.3q-2.200 0 -2.200 2v1.700l-1.200 1.100 1.200 1.100v1.700q0 2 2.200 2M168.2 512.3q2.200 0 2.200 2v1.700l1.200 1.100-1.200 1.100v1.700q0 2 -2.200 2" fill="none" stroke="#fff" stroke-width="1.300"/>
<rect x="177" y="510.2" width="13.8" height="13.7" fill="#b4b4b4" fill-opacity="0.58"/>
<path d="M179.7 517.1h8.400M183.9 512.9v8.400" stroke="#fff" stroke-width="2.200"/>
<rect x="194" y="510.2" width="13.8" height="13.7" fill="#b4b4b4" fill-opacity="0.58"/>
<path d="M196.3 512.5l9.200 9.200M205.5 512.5l-9.200 9.200" stroke="#fff" stroke-width="1.500"/>
<text x="216" y="521" font-size="12" fill="#00ffff" text-anchor="start" font-weight="normal" textLength="42" lengthAdjust="spacingAndGlyphs" >24.8503</text>
<text x="268" y="521" font-size="12" fill="#228b22" text-anchor="start" font-weight="normal" textLength="36" lengthAdjust="spacingAndGlyphs" >0.0000</text>
<rect x="8.400" y="656.200" width="249.600" height="39.200" rx="2.500" fill="#fff" stroke="#dfe3e7" stroke-width="1" filter="url(#sh)"/>
<line x1="23.3" y1="656.7" x2="23.3" y2="695" stroke="#e6eaee" stroke-width="1" />
<line x1="62.5" y1="656.7" x2="62.5" y2="695" stroke="#e6eaee" stroke-width="1" />
<line x1="101.6" y1="656.7" x2="101.6" y2="695" stroke="#e6eaee" stroke-width="1" />
<line x1="140.4" y1="656.7" x2="140.4" y2="695" stroke="#e6eaee" stroke-width="1" />
<line x1="179.4" y1="656.7" x2="179.4" y2="695" stroke="#e6eaee" stroke-width="1" />
<line x1="218.4" y1="656.7" x2="218.4" y2="695" stroke="#e6eaee" stroke-width="1" />
<rect x="13.1" y="670.1" width="1.8" height="1.8" fill="#cdd1d6" />
<rect x="16.6" y="670.1" width="1.8" height="1.8" fill="#cdd1d6" />
<rect x="13.1" y="674.8" width="1.8" height="1.8" fill="#cdd1d6" />
<rect x="16.6" y="674.8" width="1.8" height="1.8" fill="#cdd1d6" />
<rect x="13.1" y="679.5" width="1.8" height="1.8" fill="#cdd1d6" />
<rect x="16.6" y="679.5" width="1.8" height="1.8" fill="#cdd1d6" />
<line x1="32" y1="666.3" x2="54" y2="666.3" stroke="#3f4553" stroke-width="1" />
<line x1="32" y1="672.5" x2="52" y2="672.5" stroke="#3f4553" stroke-width="1" />
<line x1="32" y1="678.3" x2="54" y2="678.3" stroke="#3f4553" stroke-width="1" />
<line x1="34" y1="684.3" x2="54" y2="684.3" stroke="#3f4553" stroke-width="1" />
<circle cx="53.5" cy="672.5" r="2" fill="#fff" stroke="#3f4553" stroke-width="1"/>
<circle cx="32.3" cy="684.3" r="2" fill="#fff" stroke="#3f4553" stroke-width="1"/>
<path d="M71.3 681.3 L78.6 674.4 L85.3 681.3 L92.6 674.4" fill="none" stroke="#3f4553" stroke-width="1" stroke-linejoin="round" />
<circle cx="71.3" cy="681.3" r="2" fill="#fff" stroke="#3f4553" stroke-width="1"/>
<circle cx="78.6" cy="674.4" r="2" fill="#fff" stroke="#3f4553" stroke-width="1"/>
<circle cx="85.3" cy="681.3" r="2" fill="#fff" stroke="#3f4553" stroke-width="1"/>
<circle cx="92.6" cy="674.4" r="2" fill="#fff" stroke="#3f4553" stroke-width="1"/>
<text x="78.5" y="669.3" font-size="7.5" fill="#3f4553" text-anchor="middle" font-weight="bold" >1</text>
<text x="93.5" y="669.3" font-size="7.5" fill="#3f4553" text-anchor="middle" font-weight="bold" >5</text>
<path d="M110.3 681.3 L117.6 674.4 L124.3 681.3 L131.6 674.4" fill="none" stroke="#3f4553" stroke-width="1" stroke-linejoin="round" />
<circle cx="110.3" cy="681.3" r="2" fill="#fff" stroke="#3f4553" stroke-width="1"/>
<circle cx="117.6" cy="674.4" r="2" fill="#fff" stroke="#3f4553" stroke-width="1"/>
<circle cx="124.3" cy="681.3" r="2" fill="#fff" stroke="#3f4553" stroke-width="1"/>
<circle cx="131.6" cy="674.4" r="2" fill="#fff" stroke="#3f4553" stroke-width="1"/>
<text x="117.5" y="669.3" font-size="7.5" fill="#3f4553" text-anchor="middle" font-weight="bold" >A</text>
<text x="131.5" y="669.3" font-size="7.5" fill="#3f4553" text-anchor="middle" font-weight="bold" >C</text>
<line x1="151.3" y1="684.5" x2="168.3" y2="667.5" stroke="#3f4553" stroke-width="1" />
<circle cx="151.3" cy="684.5" r="2" fill="#fff" stroke="#3f4553" stroke-width="1"/>
<circle cx="168.3" cy="667.5" r="2" fill="#fff" stroke="#3f4553" stroke-width="1"/>
<line x1="189.5" y1="671.5" x2="203.5" y2="666.7" stroke="#3f4553" stroke-width="1" />
<circle cx="189.5" cy="671.5" r="2" fill="#fff" stroke="#3f4553" stroke-width="1"/>
<circle cx="203.5" cy="666.7" r="2" fill="#fff" stroke="#3f4553" stroke-width="1"/>
<circle cx="189.5" cy="678.6" r="2" fill="#fff" stroke="#3f4553" stroke-width="1"/>
<line x1="191.5" y1="678.6" x2="211" y2="678.6" stroke="#3f4553" stroke-width="1" />
<line x1="189" y1="682.5" x2="211" y2="682.5" stroke="#3f4553" stroke-width="1" />
<line x1="189" y1="686.3" x2="211" y2="686.3" stroke="#3f4553" stroke-width="1" />
<line x1="230.5" y1="681.3" x2="243.5" y2="668.3" stroke="#3f4553" stroke-width="1" />
<circle cx="230.5" cy="681.3" r="2" fill="#fff" stroke="#3f4553" stroke-width="1"/>
<circle cx="243.5" cy="668.3" r="2" fill="#fff" stroke="#3f4553" stroke-width="1"/>
<line x1="236" y1="686.5" x2="249.5" y2="673.7" stroke="#3f4553" stroke-width="1" />
<circle cx="242.3" cy="680.3" r="2" fill="#fff" stroke="#3f4553" stroke-width="1"/>
<text x="20.7" y="886" font-size="14" fill="#333" text-anchor="start" font-weight="normal" textLength="14.3" lengthAdjust="spacingAndGlyphs" >1D</text>
<text x="50" y="886" font-size="14" fill="#333" text-anchor="start" font-weight="normal" textLength="15" lengthAdjust="spacingAndGlyphs" >5D</text>
<text x="81" y="886" font-size="14" fill="#333" text-anchor="start" font-weight="normal" textLength="16.3" lengthAdjust="spacingAndGlyphs" >1M</text>
<text x="111.7" y="886" font-size="14" fill="#333" text-anchor="start" font-weight="normal" textLength="16" lengthAdjust="spacingAndGlyphs" >3M</text>
<text x="142.3" y="886" font-size="14" fill="#333" text-anchor="start" font-weight="normal" textLength="17" lengthAdjust="spacingAndGlyphs" >6M</text>
<text x="174" y="886" font-size="14" fill="#333" text-anchor="start" font-weight="normal" textLength="24" lengthAdjust="spacingAndGlyphs" >YTD</text>
<text x="213.3" y="886" font-size="14" fill="#333" text-anchor="start" font-weight="normal" textLength="14" lengthAdjust="spacingAndGlyphs" >1Y</text>
<text x="242.7" y="886" font-size="14" fill="#333" text-anchor="start" font-weight="normal" textLength="14" lengthAdjust="spacingAndGlyphs" >5Y</text>
<text x="271.7" y="886" font-size="14" fill="#333" text-anchor="start" font-weight="normal" textLength="15" lengthAdjust="spacingAndGlyphs" >All</text>
<line x1="304" y1="869.5" x2="304" y2="891.5" stroke="#e1e5e9" stroke-width="1" />
<text x="320.7" y="886" font-size="14" fill="#333" text-anchor="start" font-weight="normal" textLength="48.6" lengthAdjust="spacingAndGlyphs" >Go to...</text>
<text x="1164.7" y="886" font-size="14" fill="#333" text-anchor="start" font-weight="normal" textLength="105.3" lengthAdjust="spacingAndGlyphs" >08:42:36 (UTC-6)</text>
<line x1="1287.3" y1="869.5" x2="1287.3" y2="891.5" stroke="#e1e5e9" stroke-width="1" />
<text x="1304.7" y="886" font-size="14" fill="#333" text-anchor="start" font-weight="normal" textLength="13.3" lengthAdjust="spacingAndGlyphs" >%</text>
<text x="1333" y="886" font-size="14" fill="#333" text-anchor="start" font-weight="normal" textLength="18" lengthAdjust="spacingAndGlyphs" >log</text>
<text x="1365.7" y="886" font-size="14" fill="#333" text-anchor="start" font-weight="normal" textLength="27" lengthAdjust="spacingAndGlyphs" >auto</text>
<g transform="translate(1416.900 880.900)"><circle r="4.100" fill="none" stroke="#1e1e1e" stroke-width="2.100"/><rect x="-1.250" y="-7" width="2.500" height="2.600" fill="#1e1e1e" transform="rotate(0)"/><rect x="-1.250" y="-7" width="2.500" height="2.600" fill="#1e1e1e" transform="rotate(45)"/><rect x="-1.250" y="-7" width="2.500" height="2.600" fill="#1e1e1e" transform="rotate(90)"/><rect x="-1.250" y="-7" width="2.500" height="2.600" fill="#1e1e1e" transform="rotate(135)"/><rect x="-1.250" y="-7" width="2.500" height="2.600" fill="#1e1e1e" transform="rotate(180)"/><rect x="-1.250" y="-7" width="2.500" height="2.600" fill="#1e1e1e" transform="rotate(225)"/><rect x="-1.250" y="-7" width="2.500" height="2.600" fill="#1e1e1e" transform="rotate(270)"/><rect x="-1.250" y="-7" width="2.500" height="2.600" fill="#1e1e1e" transform="rotate(315)"/></g>
</svg>
</body></html>
